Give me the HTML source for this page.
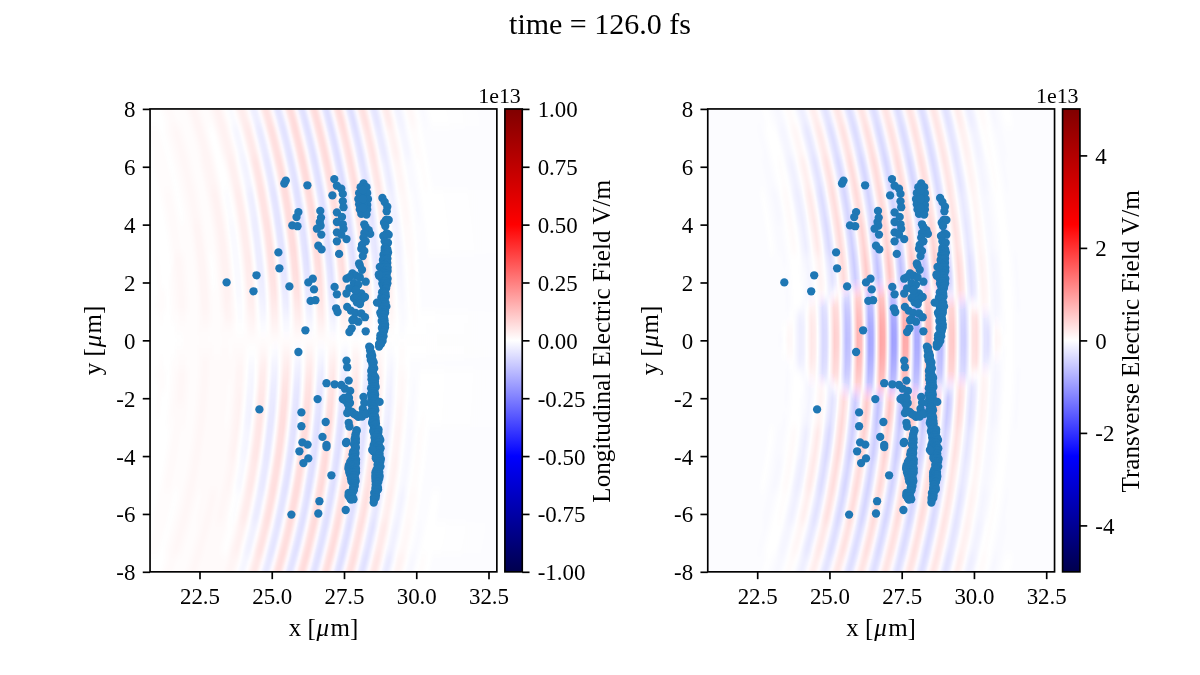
<!DOCTYPE html><html><head><meta charset="utf-8"><style>html,body{margin:0;padding:0;background:#fff;overflow:hidden}svg{display:block;will-change:transform}.t{font-family:"Liberation Serif",serif;font-size:22.92px}.l{font-family:"Liberation Serif",serif;font-size:25.00px}.mu{font-style:italic}.ti{font-family:"Liberation Serif",serif;font-size:30.00px}</style></head><body>
<svg width="1200" height="675" viewBox="0 0 1200 675">
<defs><linearGradient id="seis" x1="0" y1="1" x2="0" y2="0"><stop offset="0" stop-color="rgb(0,0,77)"/><stop offset="0.25" stop-color="rgb(0,0,255)"/><stop offset="0.5" stop-color="rgb(255,255,255)"/><stop offset="0.75" stop-color="rgb(255,0,0)"/><stop offset="1" stop-color="rgb(128,0,0)"/></linearGradient>
<g id="scat" fill="#1f77b4"><circle cx="285.8" cy="180.6" r="4.15"/><circle cx="284.3" cy="183.5" r="4.15"/><circle cx="307.4" cy="185.3" r="4.15"/><circle cx="298.4" cy="212.1" r="4.15"/><circle cx="296.5" cy="217.1" r="4.15"/><circle cx="292.3" cy="225.4" r="4.15"/><circle cx="297.5" cy="226.2" r="4.15"/><circle cx="278.4" cy="252.4" r="4.15"/><circle cx="320.3" cy="210.9" r="4.15"/><circle cx="321.0" cy="217.6" r="4.15"/><circle cx="319.8" cy="222.0" r="4.15"/><circle cx="320.6" cy="225.7" r="4.15"/><circle cx="316.9" cy="228.7" r="4.15"/><circle cx="321.3" cy="234.6" r="4.15"/><circle cx="318.3" cy="245.7" r="4.15"/><circle cx="321.6" cy="249.4" r="4.15"/><circle cx="334.3" cy="179.1" r="4.15"/><circle cx="336.9" cy="185.7" r="4.15"/><circle cx="341.3" cy="188.7" r="4.15"/><circle cx="342.8" cy="193.9" r="4.15"/><circle cx="332.4" cy="195.4" r="4.15"/><circle cx="342.8" cy="201.3" r="4.15"/><circle cx="343.5" cy="207.2" r="4.15"/><circle cx="336.9" cy="212.4" r="4.15"/><circle cx="342.0" cy="216.9" r="4.15"/><circle cx="336.9" cy="222.0" r="4.15"/><circle cx="342.8" cy="224.3" r="4.15"/><circle cx="343.5" cy="228.7" r="4.15"/><circle cx="336.9" cy="232.4" r="4.15"/><circle cx="341.3" cy="234.6" r="4.15"/><circle cx="346.5" cy="239.1" r="4.15"/><circle cx="336.9" cy="241.3" r="4.15"/><circle cx="339.1" cy="253.9" r="4.15"/><circle cx="363.5" cy="183.5" r="4.15"/><circle cx="360.6" cy="187.2" r="4.15"/><circle cx="366.5" cy="187.2" r="4.15"/><circle cx="359.1" cy="193.1" r="4.15"/><circle cx="367.2" cy="193.1" r="4.15"/><circle cx="358.3" cy="199.1" r="4.15"/><circle cx="368.0" cy="199.1" r="4.15"/><circle cx="359.1" cy="204.3" r="4.15"/><circle cx="367.2" cy="205.0" r="4.15"/><circle cx="359.8" cy="209.4" r="4.15"/><circle cx="367.2" cy="209.4" r="4.15"/><circle cx="361.3" cy="213.9" r="4.15"/><circle cx="366.5" cy="214.6" r="4.15"/><circle cx="362.8" cy="194.6" r="4.15"/><circle cx="363.5" cy="203.5" r="4.15"/><circle cx="363.0" cy="190.0" r="4.15"/><circle cx="363.0" cy="199.0" r="4.15"/><circle cx="363.0" cy="208.0" r="4.15"/><circle cx="364.3" cy="224.3" r="4.15"/><circle cx="365.7" cy="227.2" r="4.15"/><circle cx="368.7" cy="230.2" r="4.15"/><circle cx="370.2" cy="233.9" r="4.15"/><circle cx="364.3" cy="233.1" r="4.15"/><circle cx="363.5" cy="237.6" r="4.15"/><circle cx="365.7" cy="241.3" r="4.15"/><circle cx="362.0" cy="245.0" r="4.15"/><circle cx="361.3" cy="248.7" r="4.15"/><circle cx="364.3" cy="250.9" r="4.15"/><circle cx="362.8" cy="256.1" r="4.15"/><circle cx="359.1" cy="263.5" r="4.15"/><circle cx="382.4" cy="198.0" r="4.15"/><circle cx="384.7" cy="202.0" r="4.15"/><circle cx="387.3" cy="206.7" r="4.15"/><circle cx="386.7" cy="211.3" r="4.15"/><circle cx="386.0" cy="220.0" r="4.15"/><circle cx="384.0" cy="222.7" r="4.15"/><circle cx="388.7" cy="220.0" r="4.15"/><circle cx="385.3" cy="226.0" r="4.15"/><circle cx="386.7" cy="233.3" r="4.15"/><circle cx="388.7" cy="234.7" r="4.15"/><circle cx="383.3" cy="236.0" r="4.15"/><circle cx="384.7" cy="241.3" r="4.15"/><circle cx="388.0" cy="242.7" r="4.15"/><circle cx="384.7" cy="248.0" r="4.15"/><circle cx="387.3" cy="249.3" r="4.15"/><circle cx="385.3" cy="254.7" r="4.15"/><circle cx="386.7" cy="260.0" r="4.15"/><circle cx="382.7" cy="265.3" r="4.15"/><circle cx="386.0" cy="266.7" r="4.15"/><circle cx="226.6" cy="282.4" r="4.15"/><circle cx="256.5" cy="275.3" r="4.15"/><circle cx="253.5" cy="291.3" r="4.15"/><circle cx="279.4" cy="268.3" r="4.15"/><circle cx="289.4" cy="286.4" r="4.15"/><circle cx="308.3" cy="282.4" r="4.15"/><circle cx="312.8" cy="278.7" r="4.15"/><circle cx="314.0" cy="289.4" r="4.15"/><circle cx="310.6" cy="300.9" r="4.15"/><circle cx="315.4" cy="300.2" r="4.15"/><circle cx="305.4" cy="330.3" r="4.15"/><circle cx="298.4" cy="352.0" r="4.15"/><circle cx="334.6" cy="286.9" r="4.15"/><circle cx="336.9" cy="294.3" r="4.15"/><circle cx="336.1" cy="308.3" r="4.15"/><circle cx="337.6" cy="312.0" r="4.15"/><circle cx="359.8" cy="265.4" r="4.15"/><circle cx="362.0" cy="269.8" r="4.15"/><circle cx="352.4" cy="273.5" r="4.15"/><circle cx="356.1" cy="275.7" r="4.15"/><circle cx="346.5" cy="278.7" r="4.15"/><circle cx="349.4" cy="277.2" r="4.15"/><circle cx="359.8" cy="277.2" r="4.15"/><circle cx="365.7" cy="281.7" r="4.15"/><circle cx="353.9" cy="283.1" r="4.15"/><circle cx="358.3" cy="284.6" r="4.15"/><circle cx="349.4" cy="288.3" r="4.15"/><circle cx="346.5" cy="293.5" r="4.15"/><circle cx="355.4" cy="290.6" r="4.15"/><circle cx="361.3" cy="293.5" r="4.15"/><circle cx="353.9" cy="298.0" r="4.15"/><circle cx="359.8" cy="299.4" r="4.15"/><circle cx="362.8" cy="298.0" r="4.15"/><circle cx="356.9" cy="302.4" r="4.15"/><circle cx="347.2" cy="306.9" r="4.15"/><circle cx="350.9" cy="310.6" r="4.15"/><circle cx="355.4" cy="312.8" r="4.15"/><circle cx="361.3" cy="313.5" r="4.15"/><circle cx="365.0" cy="317.2" r="4.15"/><circle cx="353.9" cy="318.7" r="4.15"/><circle cx="358.3" cy="321.7" r="4.15"/><circle cx="352.4" cy="320.2" r="4.15"/><circle cx="351.7" cy="328.3" r="4.15"/><circle cx="349.4" cy="332.0" r="4.15"/><circle cx="365.7" cy="331.3" r="4.15"/><circle cx="357.0" cy="296.0" r="4.15"/><circle cx="361.0" cy="300.0" r="4.15"/><circle cx="365.0" cy="297.0" r="4.15"/><circle cx="360.0" cy="304.0" r="4.15"/><circle cx="356.0" cy="290.0" r="4.15"/><circle cx="379.1" cy="275.7" r="4.15"/><circle cx="379.8" cy="266.9" r="4.15"/><circle cx="379.8" cy="302.4" r="4.15"/><circle cx="379.1" cy="343.9" r="4.15"/><circle cx="370.2" cy="347.6" r="4.15"/><circle cx="370.9" cy="352.8" r="4.15"/><circle cx="379.1" cy="346.5" r="4.15"/><circle cx="259.4" cy="409.4" r="4.15"/><circle cx="301.4" cy="412.4" r="4.15"/><circle cx="301.4" cy="426.2" r="4.15"/><circle cx="302.4" cy="442.4" r="4.15"/><circle cx="307.6" cy="444.6" r="4.15"/><circle cx="299.4" cy="451.3" r="4.15"/><circle cx="308.3" cy="458.4" r="4.15"/><circle cx="303.4" cy="463.1" r="4.15"/><circle cx="291.4" cy="514.6" r="4.15"/><circle cx="346.5" cy="360.6" r="4.15"/><circle cx="347.2" cy="367.2" r="4.15"/><circle cx="326.5" cy="383.2" r="4.15"/><circle cx="334.6" cy="384.3" r="4.15"/><circle cx="341.3" cy="385.0" r="4.15"/><circle cx="348.7" cy="380.6" r="4.15"/><circle cx="345.0" cy="388.7" r="4.15"/><circle cx="350.2" cy="390.9" r="4.15"/><circle cx="342.8" cy="399.1" r="4.15"/><circle cx="348.0" cy="396.9" r="4.15"/><circle cx="348.0" cy="404.3" r="4.15"/><circle cx="348.7" cy="410.2" r="4.15"/><circle cx="347.2" cy="413.1" r="4.15"/><circle cx="353.9" cy="413.9" r="4.15"/><circle cx="358.3" cy="416.9" r="4.15"/><circle cx="363.5" cy="396.9" r="4.15"/><circle cx="364.3" cy="402.8" r="4.15"/><circle cx="362.8" cy="408.7" r="4.15"/><circle cx="365.7" cy="413.1" r="4.15"/><circle cx="361.3" cy="414.6" r="4.15"/><circle cx="345.5" cy="400.5" r="4.15"/><circle cx="350.0" cy="403.0" r="4.15"/><circle cx="352.0" cy="412.0" r="4.15"/><circle cx="356.0" cy="415.0" r="4.15"/><circle cx="362.0" cy="416.5" r="4.15"/><circle cx="366.0" cy="414.0" r="4.15"/><circle cx="344.0" cy="398.0" r="4.15"/><circle cx="349.0" cy="398.0" r="4.15"/><circle cx="348.7" cy="422.8" r="4.15"/><circle cx="349.4" cy="426.5" r="4.15"/><circle cx="356.6" cy="430.2" r="4.15"/><circle cx="325.7" cy="422.0" r="4.15"/><circle cx="322.5" cy="436.9" r="4.15"/><circle cx="317.6" cy="399.1" r="4.15"/><circle cx="354.6" cy="439.1" r="4.15"/><circle cx="355.4" cy="442.8" r="4.15"/><circle cx="346.5" cy="442.0" r="4.15"/><circle cx="326.5" cy="445.0" r="4.15"/><circle cx="326.5" cy="447.1" r="4.15"/><circle cx="331.4" cy="475.3" r="4.15"/><circle cx="319.4" cy="501.2" r="4.15"/><circle cx="318.3" cy="513.5" r="4.15"/><circle cx="384.7" cy="250.6" r="4.15"/><circle cx="385.9" cy="250.4" r="4.15"/><circle cx="386.7" cy="249.7" r="4.15"/><circle cx="385.2" cy="251.8" r="4.15"/><circle cx="385.8" cy="253.1" r="4.15"/><circle cx="388.1" cy="252.5" r="4.15"/><circle cx="383.5" cy="254.8" r="4.15"/><circle cx="385.6" cy="254.8" r="4.15"/><circle cx="387.1" cy="255.2" r="4.15"/><circle cx="384.0" cy="258.6" r="4.15"/><circle cx="385.5" cy="258.3" r="4.15"/><circle cx="387.4" cy="258.6" r="4.15"/><circle cx="382.9" cy="259.9" r="4.15"/><circle cx="385.4" cy="260.6" r="4.15"/><circle cx="385.9" cy="259.7" r="4.15"/><circle cx="383.5" cy="262.9" r="4.15"/><circle cx="385.2" cy="263.7" r="4.15"/><circle cx="387.3" cy="263.0" r="4.15"/><circle cx="383.3" cy="265.2" r="4.15"/><circle cx="385.1" cy="264.8" r="4.15"/><circle cx="386.1" cy="265.9" r="4.15"/><circle cx="382.3" cy="268.0" r="4.15"/><circle cx="384.9" cy="267.4" r="4.15"/><circle cx="387.6" cy="267.6" r="4.15"/><circle cx="382.4" cy="271.4" r="4.15"/><circle cx="384.8" cy="270.8" r="4.15"/><circle cx="387.6" cy="271.0" r="4.15"/><circle cx="383.6" cy="272.7" r="4.15"/><circle cx="384.8" cy="273.5" r="4.15"/><circle cx="386.6" cy="274.0" r="4.15"/><circle cx="382.6" cy="276.2" r="4.15"/><circle cx="384.7" cy="275.3" r="4.15"/><circle cx="386.2" cy="275.7" r="4.15"/><circle cx="382.1" cy="279.1" r="4.15"/><circle cx="384.7" cy="278.4" r="4.15"/><circle cx="387.6" cy="278.7" r="4.15"/><circle cx="383.3" cy="281.4" r="4.15"/><circle cx="384.6" cy="281.5" r="4.15"/><circle cx="385.3" cy="281.1" r="4.15"/><circle cx="382.3" cy="283.6" r="4.15"/><circle cx="384.6" cy="283.2" r="4.15"/><circle cx="387.4" cy="283.3" r="4.15"/><circle cx="383.4" cy="286.1" r="4.15"/><circle cx="384.5" cy="287.0" r="4.15"/><circle cx="386.5" cy="285.8" r="4.15"/><circle cx="383.9" cy="289.7" r="4.15"/><circle cx="384.5" cy="289.6" r="4.15"/><circle cx="386.1" cy="288.4" r="4.15"/><circle cx="382.1" cy="292.3" r="4.15"/><circle cx="384.4" cy="291.7" r="4.15"/><circle cx="385.0" cy="292.2" r="4.15"/><circle cx="383.1" cy="294.3" r="4.15"/><circle cx="384.2" cy="294.0" r="4.15"/><circle cx="385.5" cy="293.8" r="4.15"/><circle cx="381.3" cy="297.4" r="4.15"/><circle cx="384.1" cy="296.7" r="4.15"/><circle cx="385.8" cy="296.5" r="4.15"/><circle cx="382.9" cy="298.6" r="4.15"/><circle cx="383.9" cy="299.2" r="4.15"/><circle cx="384.3" cy="298.8" r="4.15"/><circle cx="383.3" cy="302.3" r="4.15"/><circle cx="383.8" cy="301.9" r="4.15"/><circle cx="385.5" cy="302.6" r="4.15"/><circle cx="381.5" cy="304.7" r="4.15"/><circle cx="383.6" cy="304.9" r="4.15"/><circle cx="385.0" cy="304.6" r="4.15"/><circle cx="382.4" cy="307.9" r="4.15"/><circle cx="383.5" cy="306.6" r="4.15"/><circle cx="386.4" cy="306.4" r="4.15"/><circle cx="382.2" cy="310.3" r="4.15"/><circle cx="383.4" cy="309.2" r="4.15"/><circle cx="385.0" cy="310.3" r="4.15"/><circle cx="380.3" cy="312.6" r="4.15"/><circle cx="383.3" cy="312.9" r="4.15"/><circle cx="385.1" cy="312.8" r="4.15"/><circle cx="381.0" cy="314.5" r="4.15"/><circle cx="383.2" cy="314.8" r="4.15"/><circle cx="384.0" cy="314.8" r="4.15"/><circle cx="382.9" cy="317.7" r="4.15"/><circle cx="383.2" cy="317.3" r="4.15"/><circle cx="384.0" cy="318.3" r="4.15"/><circle cx="381.7" cy="321.0" r="4.15"/><circle cx="384.5" cy="320.2" r="4.15"/><circle cx="383.0" cy="323.2" r="4.15"/><circle cx="384.4" cy="322.7" r="4.15"/><circle cx="383.0" cy="325.3" r="4.15"/><circle cx="385.1" cy="324.7" r="4.15"/><circle cx="381.9" cy="328.0" r="4.15"/><circle cx="385.0" cy="327.6" r="4.15"/><circle cx="382.9" cy="330.9" r="4.15"/><circle cx="384.1" cy="330.8" r="4.15"/><circle cx="383.1" cy="332.9" r="4.15"/><circle cx="382.8" cy="332.7" r="4.15"/><circle cx="380.4" cy="335.3" r="4.15"/><circle cx="383.5" cy="336.3" r="4.15"/><circle cx="380.2" cy="338.6" r="4.15"/><circle cx="381.9" cy="338.6" r="4.15"/><circle cx="381.4" cy="340.7" r="4.15"/><circle cx="382.6" cy="340.9" r="4.15"/><circle cx="381.1" cy="343.8" r="4.15"/><circle cx="378.8" cy="274.4" r="4.15"/><circle cx="377.0" cy="302.6" r="4.15"/><circle cx="379.6" cy="343.7" r="4.15"/><circle cx="369.2" cy="346.7" r="4.15"/><circle cx="370.1" cy="350.4" r="4.15"/><circle cx="371.4" cy="353.0" r="4.15"/><circle cx="370.1" cy="355.9" r="4.15"/><circle cx="372.2" cy="355.8" r="4.15"/><circle cx="371.6" cy="358.5" r="4.15"/><circle cx="371.2" cy="357.0" r="4.15"/><circle cx="370.8" cy="360.0" r="4.15"/><circle cx="372.6" cy="359.9" r="4.15"/><circle cx="372.2" cy="362.3" r="4.15"/><circle cx="373.7" cy="362.5" r="4.15"/><circle cx="372.5" cy="364.8" r="4.15"/><circle cx="373.1" cy="366.3" r="4.15"/><circle cx="372.1" cy="368.7" r="4.15"/><circle cx="374.2" cy="368.4" r="4.15"/><circle cx="371.2" cy="370.9" r="4.15"/><circle cx="372.8" cy="371.3" r="4.15"/><circle cx="373.2" cy="374.0" r="4.15"/><circle cx="373.0" cy="373.1" r="4.15"/><circle cx="371.5" cy="375.4" r="4.15"/><circle cx="374.7" cy="376.5" r="4.15"/><circle cx="371.5" cy="379.2" r="4.15"/><circle cx="375.4" cy="378.0" r="4.15"/><circle cx="372.7" cy="381.8" r="4.15"/><circle cx="373.4" cy="380.7" r="4.15"/><circle cx="374.9" cy="381.4" r="4.15"/><circle cx="372.3" cy="383.2" r="4.15"/><circle cx="373.4" cy="384.1" r="4.15"/><circle cx="375.0" cy="384.3" r="4.15"/><circle cx="372.8" cy="386.1" r="4.15"/><circle cx="373.4" cy="386.8" r="4.15"/><circle cx="375.7" cy="387.0" r="4.15"/><circle cx="371.1" cy="388.2" r="4.15"/><circle cx="373.4" cy="389.2" r="4.15"/><circle cx="374.0" cy="389.1" r="4.15"/><circle cx="373.2" cy="391.4" r="4.15"/><circle cx="373.4" cy="391.2" r="4.15"/><circle cx="374.6" cy="391.9" r="4.15"/><circle cx="371.0" cy="394.0" r="4.15"/><circle cx="373.4" cy="393.6" r="4.15"/><circle cx="375.1" cy="394.7" r="4.15"/><circle cx="371.7" cy="396.6" r="4.15"/><circle cx="373.4" cy="396.9" r="4.15"/><circle cx="374.0" cy="396.4" r="4.15"/><circle cx="371.6" cy="399.3" r="4.15"/><circle cx="373.4" cy="398.7" r="4.15"/><circle cx="375.4" cy="399.5" r="4.15"/><circle cx="371.5" cy="401.3" r="4.15"/><circle cx="373.4" cy="402.4" r="4.15"/><circle cx="373.7" cy="401.4" r="4.15"/><circle cx="371.0" cy="403.9" r="4.15"/><circle cx="373.4" cy="405.3" r="4.15"/><circle cx="374.1" cy="404.3" r="4.15"/><circle cx="372.9" cy="407.4" r="4.15"/><circle cx="373.4" cy="406.7" r="4.15"/><circle cx="374.5" cy="407.8" r="4.15"/><circle cx="371.7" cy="410.1" r="4.15"/><circle cx="373.4" cy="409.2" r="4.15"/><circle cx="375.3" cy="410.2" r="4.15"/><circle cx="372.8" cy="412.7" r="4.15"/><circle cx="373.4" cy="412.2" r="4.15"/><circle cx="373.6" cy="412.4" r="4.15"/><circle cx="372.7" cy="414.5" r="4.15"/><circle cx="373.4" cy="414.6" r="4.15"/><circle cx="374.8" cy="415.4" r="4.15"/><circle cx="373.0" cy="417.0" r="4.15"/><circle cx="373.4" cy="417.1" r="4.15"/><circle cx="375.5" cy="417.8" r="4.15"/><circle cx="372.6" cy="421.0" r="4.15"/><circle cx="373.4" cy="420.9" r="4.15"/><circle cx="375.6" cy="420.6" r="4.15"/><circle cx="372.1" cy="423.0" r="4.15"/><circle cx="373.8" cy="422.3" r="4.15"/><circle cx="375.9" cy="423.2" r="4.15"/><circle cx="373.4" cy="425.3" r="4.15"/><circle cx="374.3" cy="425.2" r="4.15"/><circle cx="375.6" cy="424.7" r="4.15"/><circle cx="374.1" cy="428.1" r="4.15"/><circle cx="374.7" cy="427.8" r="4.15"/><circle cx="376.4" cy="428.4" r="4.15"/><circle cx="373.2" cy="431.1" r="4.15"/><circle cx="375.2" cy="431.3" r="4.15"/><circle cx="376.5" cy="430.0" r="4.15"/><circle cx="374.6" cy="434.0" r="4.15"/><circle cx="375.6" cy="432.6" r="4.15"/><circle cx="377.9" cy="433.7" r="4.15"/><circle cx="379.6" cy="401.9" r="4.15"/><circle cx="375.3" cy="429.4" r="4.15"/><circle cx="375.7" cy="429.3" r="4.15"/><circle cx="378.5" cy="429.4" r="4.15"/><circle cx="373.9" cy="432.7" r="4.15"/><circle cx="376.2" cy="432.5" r="4.15"/><circle cx="378.4" cy="432.1" r="4.15"/><circle cx="376.3" cy="434.7" r="4.15"/><circle cx="376.7" cy="435.6" r="4.15"/><circle cx="377.1" cy="435.2" r="4.15"/><circle cx="374.5" cy="437.5" r="4.15"/><circle cx="377.3" cy="437.5" r="4.15"/><circle cx="379.3" cy="437.7" r="4.15"/><circle cx="374.9" cy="441.2" r="4.15"/><circle cx="377.7" cy="441.0" r="4.15"/><circle cx="380.3" cy="440.0" r="4.15"/><circle cx="375.1" cy="442.6" r="4.15"/><circle cx="377.5" cy="442.4" r="4.15"/><circle cx="378.4" cy="443.0" r="4.15"/><circle cx="373.7" cy="445.1" r="4.15"/><circle cx="376.4" cy="446.2" r="4.15"/><circle cx="378.2" cy="445.6" r="4.15"/><circle cx="379.1" cy="445.9" r="4.15"/><circle cx="373.4" cy="448.2" r="4.15"/><circle cx="376.1" cy="447.9" r="4.15"/><circle cx="378.2" cy="448.2" r="4.15"/><circle cx="380.6" cy="448.3" r="4.15"/><circle cx="373.5" cy="451.3" r="4.15"/><circle cx="376.0" cy="451.4" r="4.15"/><circle cx="378.2" cy="450.3" r="4.15"/><circle cx="379.5" cy="450.2" r="4.15"/><circle cx="376.1" cy="454.1" r="4.15"/><circle cx="376.7" cy="453.0" r="4.15"/><circle cx="378.5" cy="454.2" r="4.15"/><circle cx="379.5" cy="453.4" r="4.15"/><circle cx="375.9" cy="456.7" r="4.15"/><circle cx="378.0" cy="455.3" r="4.15"/><circle cx="379.6" cy="456.2" r="4.15"/><circle cx="375.8" cy="458.2" r="4.15"/><circle cx="378.4" cy="458.5" r="4.15"/><circle cx="380.9" cy="459.0" r="4.15"/><circle cx="378.3" cy="461.6" r="4.15"/><circle cx="380.3" cy="461.8" r="4.15"/><circle cx="377.7" cy="464.2" r="4.15"/><circle cx="379.1" cy="463.3" r="4.15"/><circle cx="377.8" cy="465.9" r="4.15"/><circle cx="380.5" cy="466.6" r="4.15"/><circle cx="376.5" cy="469.7" r="4.15"/><circle cx="378.4" cy="469.0" r="4.15"/><circle cx="375.5" cy="472.3" r="4.15"/><circle cx="379.3" cy="472.1" r="4.15"/><circle cx="375.5" cy="474.7" r="4.15"/><circle cx="377.5" cy="474.5" r="4.15"/><circle cx="379.3" cy="474.9" r="4.15"/><circle cx="375.4" cy="476.7" r="4.15"/><circle cx="377.1" cy="477.1" r="4.15"/><circle cx="379.6" cy="476.5" r="4.15"/><circle cx="375.5" cy="478.9" r="4.15"/><circle cx="376.8" cy="479.5" r="4.15"/><circle cx="379.2" cy="478.7" r="4.15"/><circle cx="375.6" cy="481.2" r="4.15"/><circle cx="376.7" cy="482.7" r="4.15"/><circle cx="378.3" cy="481.9" r="4.15"/><circle cx="375.7" cy="484.6" r="4.15"/><circle cx="376.7" cy="485.0" r="4.15"/><circle cx="377.1" cy="484.7" r="4.15"/><circle cx="375.5" cy="487.9" r="4.15"/><circle cx="376.7" cy="486.5" r="4.15"/><circle cx="377.9" cy="487.4" r="4.15"/><circle cx="375.6" cy="489.1" r="4.15"/><circle cx="378.1" cy="489.4" r="4.15"/><circle cx="374.2" cy="493.0" r="4.15"/><circle cx="376.1" cy="492.3" r="4.15"/><circle cx="375.2" cy="495.3" r="4.15"/><circle cx="375.9" cy="495.5" r="4.15"/><circle cx="373.9" cy="497.8" r="4.15"/><circle cx="375.6" cy="497.9" r="4.15"/><circle cx="374.0" cy="500.0" r="4.15"/><circle cx="373.7" cy="502.6" r="4.15"/><circle cx="372.2" cy="450.0" r="4.15"/><circle cx="356.6" cy="431.1" r="4.15"/><circle cx="355.6" cy="434.3" r="4.15"/><circle cx="355.4" cy="436.2" r="4.15"/><circle cx="355.9" cy="438.9" r="4.15"/><circle cx="355.8" cy="442.2" r="4.15"/><circle cx="354.5" cy="444.6" r="4.15"/><circle cx="354.1" cy="444.1" r="4.15"/><circle cx="355.4" cy="447.0" r="4.15"/><circle cx="355.7" cy="447.2" r="4.15"/><circle cx="354.7" cy="449.6" r="4.15"/><circle cx="355.5" cy="449.0" r="4.15"/><circle cx="353.1" cy="451.8" r="4.15"/><circle cx="355.5" cy="452.9" r="4.15"/><circle cx="352.5" cy="454.6" r="4.15"/><circle cx="355.1" cy="454.8" r="4.15"/><circle cx="353.4" cy="457.9" r="4.15"/><circle cx="353.8" cy="457.1" r="4.15"/><circle cx="354.7" cy="457.9" r="4.15"/><circle cx="351.5" cy="460.2" r="4.15"/><circle cx="353.3" cy="459.2" r="4.15"/><circle cx="356.1" cy="459.6" r="4.15"/><circle cx="350.2" cy="462.0" r="4.15"/><circle cx="352.6" cy="462.4" r="4.15"/><circle cx="356.0" cy="463.0" r="4.15"/><circle cx="348.8" cy="465.5" r="4.15"/><circle cx="351.0" cy="465.0" r="4.15"/><circle cx="353.0" cy="464.9" r="4.15"/><circle cx="355.2" cy="464.6" r="4.15"/><circle cx="348.4" cy="468.0" r="4.15"/><circle cx="351.0" cy="468.1" r="4.15"/><circle cx="353.2" cy="467.0" r="4.15"/><circle cx="355.9" cy="468.2" r="4.15"/><circle cx="348.8" cy="469.6" r="4.15"/><circle cx="351.1" cy="470.6" r="4.15"/><circle cx="353.3" cy="469.9" r="4.15"/><circle cx="355.8" cy="470.1" r="4.15"/><circle cx="349.3" cy="472.5" r="4.15"/><circle cx="351.2" cy="472.9" r="4.15"/><circle cx="353.4" cy="472.9" r="4.15"/><circle cx="356.0" cy="472.4" r="4.15"/><circle cx="350.3" cy="475.2" r="4.15"/><circle cx="351.3" cy="475.2" r="4.15"/><circle cx="353.6" cy="475.1" r="4.15"/><circle cx="354.6" cy="475.4" r="4.15"/><circle cx="351.0" cy="478.4" r="4.15"/><circle cx="352.1" cy="477.6" r="4.15"/><circle cx="353.8" cy="477.5" r="4.15"/><circle cx="355.1" cy="478.5" r="4.15"/><circle cx="351.5" cy="481.4" r="4.15"/><circle cx="353.5" cy="481.0" r="4.15"/><circle cx="355.7" cy="481.1" r="4.15"/><circle cx="353.4" cy="483.1" r="4.15"/><circle cx="354.6" cy="483.2" r="4.15"/><circle cx="353.6" cy="485.3" r="4.15"/><circle cx="354.8" cy="486.1" r="4.15"/><circle cx="353.0" cy="487.9" r="4.15"/><circle cx="353.8" cy="488.2" r="4.15"/><circle cx="353.8" cy="490.3" r="4.15"/><circle cx="353.2" cy="490.6" r="4.15"/><circle cx="348.7" cy="492.9" r="4.15"/><circle cx="350.9" cy="493.6" r="4.15"/><circle cx="352.1" cy="493.3" r="4.15"/><circle cx="348.5" cy="495.8" r="4.15"/><circle cx="350.1" cy="496.5" r="4.15"/><circle cx="352.3" cy="496.2" r="4.15"/><circle cx="350.3" cy="498.4" r="4.15"/><circle cx="351.0" cy="499.6" r="4.15"/><circle cx="353.5" cy="499.2" r="4.15"/><circle cx="345.7" cy="510.0" r="4.15"/><circle cx="346.0" cy="443.0" r="4.15"/></g>
<style>.b0{stop-color:#00f;stop-opacity:0.0}.b1{stop-color:#00f;stop-opacity:0.01}.b10{stop-color:#00f;stop-opacity:0.1}.b11{stop-color:#00f;stop-opacity:0.11}.b12{stop-color:#00f;stop-opacity:0.12}.b13{stop-color:#00f;stop-opacity:0.13}.b14{stop-color:#00f;stop-opacity:0.14}.b15{stop-color:#00f;stop-opacity:0.15}.b16{stop-color:#00f;stop-opacity:0.16}.b17{stop-color:#00f;stop-opacity:0.17}.b18{stop-color:#00f;stop-opacity:0.18}.b19{stop-color:#00f;stop-opacity:0.19}.b2{stop-color:#00f;stop-opacity:0.02}.b20{stop-color:#00f;stop-opacity:0.2}.b21{stop-color:#00f;stop-opacity:0.21}.b22{stop-color:#00f;stop-opacity:0.22}.b23{stop-color:#00f;stop-opacity:0.23}.b24{stop-color:#00f;stop-opacity:0.24}.b25{stop-color:#00f;stop-opacity:0.25}.b26{stop-color:#00f;stop-opacity:0.26}.b27{stop-color:#00f;stop-opacity:0.27}.b28{stop-color:#00f;stop-opacity:0.28}.b29{stop-color:#00f;stop-opacity:0.29}.b3{stop-color:#00f;stop-opacity:0.03}.b31{stop-color:#00f;stop-opacity:0.31}.b32{stop-color:#00f;stop-opacity:0.32}.b33{stop-color:#00f;stop-opacity:0.33}.b34{stop-color:#00f;stop-opacity:0.34}.b35{stop-color:#00f;stop-opacity:0.35}.b36{stop-color:#00f;stop-opacity:0.36}.b37{stop-color:#00f;stop-opacity:0.37}.b4{stop-color:#00f;stop-opacity:0.04}.b5{stop-color:#00f;stop-opacity:0.05}.b6{stop-color:#00f;stop-opacity:0.06}.b7{stop-color:#00f;stop-opacity:0.07}.b8{stop-color:#00f;stop-opacity:0.08}.b9{stop-color:#00f;stop-opacity:0.09}.r0{stop-color:#f00;stop-opacity:0.0}.r1{stop-color:#f00;stop-opacity:0.01}.r10{stop-color:#f00;stop-opacity:0.1}.r11{stop-color:#f00;stop-opacity:0.11}.r12{stop-color:#f00;stop-opacity:0.12}.r13{stop-color:#f00;stop-opacity:0.13}.r14{stop-color:#f00;stop-opacity:0.14}.r15{stop-color:#f00;stop-opacity:0.15}.r16{stop-color:#f00;stop-opacity:0.16}.r17{stop-color:#f00;stop-opacity:0.17}.r18{stop-color:#f00;stop-opacity:0.18}.r19{stop-color:#f00;stop-opacity:0.19}.r2{stop-color:#f00;stop-opacity:0.02}.r20{stop-color:#f00;stop-opacity:0.2}.r21{stop-color:#f00;stop-opacity:0.21}.r22{stop-color:#f00;stop-opacity:0.22}.r23{stop-color:#f00;stop-opacity:0.23}.r24{stop-color:#f00;stop-opacity:0.24}.r25{stop-color:#f00;stop-opacity:0.25}.r26{stop-color:#f00;stop-opacity:0.26}.r27{stop-color:#f00;stop-opacity:0.27}.r28{stop-color:#f00;stop-opacity:0.28}.r29{stop-color:#f00;stop-opacity:0.29}.r3{stop-color:#f00;stop-opacity:0.03}.r31{stop-color:#f00;stop-opacity:0.31}.r32{stop-color:#f00;stop-opacity:0.32}.r33{stop-color:#f00;stop-opacity:0.33}.r34{stop-color:#f00;stop-opacity:0.34}.r35{stop-color:#f00;stop-opacity:0.35}.r4{stop-color:#f00;stop-opacity:0.04}.r5{stop-color:#f00;stop-opacity:0.05}.r6{stop-color:#f00;stop-opacity:0.06}.r7{stop-color:#f00;stop-opacity:0.07}.r8{stop-color:#f00;stop-opacity:0.08}.r9{stop-color:#f00;stop-opacity:0.09}</style><filter id="vb" filterUnits="userSpaceOnUse" x="0" y="0" width="1200" height="675"><feGaussianBlur stdDeviation="0 5"/></filter><clipPath id="clipL"><rect x="150.05" y="108.95" width="346.80" height="462.90"/></clipPath><clipPath id="clipR"><rect x="707.75" y="108.95" width="346.80" height="462.90"/></clipPath><radialGradient id="L0" gradientUnits="userSpaceOnUse" cx="-539.9" cy="340.4" r="1043.4"><stop offset=".65378" class="r0"/><stop offset=".70534" class="r0"/><stop offset=".70902" class="r1"/><stop offset=".71271" class="r2"/><stop offset=".71639" class="r2"/><stop offset=".72007" class="r1"/><stop offset=".72376" class="r1"/><stop offset=".72744" class="r1"/><stop offset=".73112" class="r2"/><stop offset=".73481" class="r4"/><stop offset=".73849" class="r4"/><stop offset=".74217" class="r2"/><stop offset=".74586" class="r1"/><stop offset=".74954" class="r1"/><stop offset=".75322" class="r3"/><stop offset=".75691" class="r5"/><stop offset=".76059" class="r5"/><stop offset=".76427" class="r2"/><stop offset=".76664" class="r0"/><stop offset=".76664" class="b0"/><stop offset=".76796" class="b1"/><stop offset=".77164" class="b2"/><stop offset=".77347" class="b0"/><stop offset=".77347" class="r0"/><stop offset=".77532" class="r2"/><stop offset=".77901" class="r7"/><stop offset=".78269" class="r7"/><stop offset=".78637" class="r2"/><stop offset=".78716" class="r0"/><stop offset=".78716" class="b0"/><stop offset=".79006" class="b6"/><stop offset=".79374" class="b7"/><stop offset=".79719" class="b0"/><stop offset=".79719" class="r0"/><stop offset=".79742" class="r1"/><stop offset=".80111" class="r11"/><stop offset=".80479" class="r12"/><stop offset=".80847" class="r2"/><stop offset=".80923" class="r0"/><stop offset=".80923" class="b0"/><stop offset=".81216" class="b10"/><stop offset=".81584" class="b11"/><stop offset=".81952" class="b1"/><stop offset=".81972" class="b0"/><stop offset=".81972" class="r0"/><stop offset=".82320" class="r12"/><stop offset=".82689" class="r15"/><stop offset=".83057" class="r4"/><stop offset=".83152" class="r0"/><stop offset=".83152" class="b0"/><stop offset=".83425" class="b10"/><stop offset=".83794" class="b13"/><stop offset=".84162" class="b2"/><stop offset=".84212" class="b0"/><stop offset=".84212" class="r0"/><stop offset=".84530" class="r12"/><stop offset=".84899" class="r15"/><stop offset=".85267" class="r4"/><stop offset=".85377" class="r0"/><stop offset=".85377" class="b0"/><stop offset=".85635" class="b10"/><stop offset=".86004" class="b14"/><stop offset=".86372" class="b3"/><stop offset=".86457" class="b0"/><stop offset=".86457" class="r0"/><stop offset=".86740" class="r11"/><stop offset=".87109" class="r15"/><stop offset=".87477" class="r5"/><stop offset=".87597" class="r0"/><stop offset=".87597" class="b0"/><stop offset=".87845" class="b9"/><stop offset=".88214" class="b14"/><stop offset=".88582" class="b4"/><stop offset=".88701" class="b0"/><stop offset=".88701" class="r0"/><stop offset=".88950" class="r9"/><stop offset=".89319" class="r13"/><stop offset=".89687" class="r5"/><stop offset=".89826" class="r0"/><stop offset=".89826" class="b0"/><stop offset=".90055" class="b8"/><stop offset=".90424" class="b11"/><stop offset=".90792" class="b4"/><stop offset=".90943" class="b0"/><stop offset=".90943" class="r0"/><stop offset=".91160" class="r6"/><stop offset=".91529" class="r9"/><stop offset=".91897" class="r3"/><stop offset=".92064" class="r0"/><stop offset=".92064" class="b0"/><stop offset=".92265" class="b4"/><stop offset=".92634" class="b5"/><stop offset=".93002" class="b2"/><stop offset=".93193" class="b0"/><stop offset=".93193" class="r0"/><stop offset=".93370" class="r2"/><stop offset=".93739" class="r3"/><stop offset=".94107" class="r1"/><stop offset=".94272" class="r0"/><stop offset=".94272" class="b0"/><stop offset=".94475" class="b1"/><stop offset=".94843" class="b2"/><stop offset=".95212" class="b1"/><stop offset=".95580" class="b0"/><stop offset=".95731" class="b0"/><stop offset=".95731" class="r0"/><stop offset=".95948" class="r0"/><stop offset=".96005" class="r0"/><stop offset=".96005" class="b0"/><stop offset=".96317" class="b0"/><stop offset="1.00000" class="b1"/></radialGradient><radialGradient id="L1" gradientUnits="userSpaceOnUse" cx="-539.9" cy="340.4" r="1043.4"><stop offset=".65378" class="r0"/><stop offset=".68693" class="r0"/><stop offset=".69061" class="r1"/><stop offset=".69429" class="r1"/><stop offset=".69797" class="r1"/><stop offset=".70166" class="r0"/><stop offset=".70534" class="r1"/><stop offset=".70902" class="r2"/><stop offset=".71271" class="r3"/><stop offset=".71639" class="r3"/><stop offset=".72007" class="r2"/><stop offset=".72376" class="r1"/><stop offset=".72744" class="r1"/><stop offset=".73112" class="r2"/><stop offset=".73481" class="r4"/><stop offset=".73849" class="r4"/><stop offset=".74217" class="r2"/><stop offset=".74586" class="r0"/><stop offset=".74954" class="r0"/><stop offset=".75322" class="r3"/><stop offset=".75691" class="r5"/><stop offset=".76059" class="r5"/><stop offset=".76427" class="r2"/><stop offset=".76573" class="r0"/><stop offset=".76573" class="b0"/><stop offset=".76796" class="b3"/><stop offset=".77164" class="b4"/><stop offset=".77426" class="b0"/><stop offset=".77426" class="r0"/><stop offset=".77532" class="r1"/><stop offset=".77901" class="r8"/><stop offset=".78269" class="r9"/><stop offset=".78637" class="r2"/><stop offset=".78699" class="r0"/><stop offset=".78699" class="b0"/><stop offset=".79006" class="b8"/><stop offset=".79374" class="b9"/><stop offset=".79728" class="b0"/><stop offset=".79728" class="r0"/><stop offset=".79742" class="r0"/><stop offset=".80111" class="r12"/><stop offset=".80479" class="r13"/><stop offset=".80847" class="r3"/><stop offset=".80921" class="r0"/><stop offset=".80921" class="b0"/><stop offset=".81216" class="b10"/><stop offset=".81584" class="b12"/><stop offset=".81952" class="b1"/><stop offset=".81973" class="b0"/><stop offset=".81973" class="r0"/><stop offset=".82320" class="r13"/><stop offset=".82689" class="r15"/><stop offset=".83057" class="r3"/><stop offset=".83150" class="r0"/><stop offset=".83150" class="b0"/><stop offset=".83425" class="b10"/><stop offset=".83794" class="b13"/><stop offset=".84162" class="b2"/><stop offset=".84215" class="b0"/><stop offset=".84215" class="r0"/><stop offset=".84530" class="r12"/><stop offset=".84899" class="r15"/><stop offset=".85267" class="r4"/><stop offset=".85373" class="r0"/><stop offset=".85373" class="b0"/><stop offset=".85635" class="b10"/><stop offset=".86004" class="b14"/><stop offset=".86372" class="b3"/><stop offset=".86462" class="b0"/><stop offset=".86462" class="r0"/><stop offset=".86740" class="r10"/><stop offset=".87109" class="r14"/><stop offset=".87477" class="r4"/><stop offset=".87595" class="r0"/><stop offset=".87595" class="b0"/><stop offset=".87845" class="b9"/><stop offset=".88214" class="b13"/><stop offset=".88582" class="b4"/><stop offset=".88705" class="b0"/><stop offset=".88705" class="r0"/><stop offset=".88950" class="r8"/><stop offset=".89319" class="r12"/><stop offset=".89687" class="r4"/><stop offset=".89828" class="r0"/><stop offset=".89828" class="b0"/><stop offset=".90055" class="b7"/><stop offset=".90424" class="b9"/><stop offset=".90792" class="b3"/><stop offset=".90948" class="b0"/><stop offset=".90948" class="r0"/><stop offset=".91160" class="r4"/><stop offset=".91529" class="r6"/><stop offset=".91897" class="r2"/><stop offset=".92065" class="r0"/><stop offset=".92065" class="b0"/><stop offset=".92265" class="b3"/><stop offset=".92634" class="b4"/><stop offset=".93002" class="b1"/><stop offset=".93212" class="b0"/><stop offset=".93212" class="r0"/><stop offset=".93370" class="r1"/><stop offset=".93739" class="r1"/><stop offset=".94107" class="r0"/><stop offset=".94205" class="r0"/><stop offset=".94205" class="b0"/><stop offset=".94475" class="b1"/><stop offset=".94843" class="b1"/><stop offset=".95212" class="b1"/><stop offset="1.00000" class="b1"/></radialGradient><radialGradient id="L2" gradientUnits="userSpaceOnUse" cx="-539.9" cy="340.4" r="1043.4"><stop offset=".65378" class="r0"/><stop offset=".68324" class="r0"/><stop offset=".68693" class="r1"/><stop offset=".69061" class="r1"/><stop offset=".69429" class="r1"/><stop offset=".69797" class="r1"/><stop offset=".70166" class="r0"/><stop offset=".70534" class="r1"/><stop offset=".70902" class="r2"/><stop offset=".71271" class="r3"/><stop offset=".71639" class="r3"/><stop offset=".72007" class="r2"/><stop offset=".72376" class="r1"/><stop offset=".72744" class="r1"/><stop offset=".73112" class="r3"/><stop offset=".73481" class="r4"/><stop offset=".73849" class="r4"/><stop offset=".74217" class="r2"/><stop offset=".74539" class="r0"/><stop offset=".74539" class="b0"/><stop offset=".74586" class="b0"/><stop offset=".74954" class="b0"/><stop offset=".75016" class="b0"/><stop offset=".75016" class="r0"/><stop offset=".75322" class="r2"/><stop offset=".75691" class="r6"/><stop offset=".76059" class="r6"/><stop offset=".76427" class="r1"/><stop offset=".76520" class="r0"/><stop offset=".76520" class="b0"/><stop offset=".76796" class="b4"/><stop offset=".77164" class="b5"/><stop offset=".77460" class="b0"/><stop offset=".77460" class="r0"/><stop offset=".77532" class="r1"/><stop offset=".77901" class="r10"/><stop offset=".78269" class="r11"/><stop offset=".78637" class="r2"/><stop offset=".78693" class="r0"/><stop offset=".78693" class="b0"/><stop offset=".79006" class="b9"/><stop offset=".79374" class="b10"/><stop offset=".79732" class="b0"/><stop offset=".79732" class="r0"/><stop offset=".79742" class="r0"/><stop offset=".80111" class="r12"/><stop offset=".80479" class="r14"/><stop offset=".80847" class="r3"/><stop offset=".80920" class="r0"/><stop offset=".80920" class="b0"/><stop offset=".81216" class="b10"/><stop offset=".81584" class="b12"/><stop offset=".81952" class="b1"/><stop offset=".81975" class="b0"/><stop offset=".81975" class="r0"/><stop offset=".82320" class="r13"/><stop offset=".82689" class="r15"/><stop offset=".83057" class="r3"/><stop offset=".83148" class="r0"/><stop offset=".83148" class="b0"/><stop offset=".83425" class="b10"/><stop offset=".83794" class="b13"/><stop offset=".84162" class="b2"/><stop offset=".84219" class="b0"/><stop offset=".84219" class="r0"/><stop offset=".84530" class="r12"/><stop offset=".84899" class="r15"/><stop offset=".85267" class="r4"/><stop offset=".85369" class="r0"/><stop offset=".85369" class="b0"/><stop offset=".85635" class="b10"/><stop offset=".86004" class="b14"/><stop offset=".86372" class="b3"/><stop offset=".86465" class="b0"/><stop offset=".86465" class="r0"/><stop offset=".86740" class="r10"/><stop offset=".87109" class="r14"/><stop offset=".87477" class="r4"/><stop offset=".87594" class="r0"/><stop offset=".87594" class="b0"/><stop offset=".87845" class="b9"/><stop offset=".88214" class="b12"/><stop offset=".88582" class="b4"/><stop offset=".88707" class="b0"/><stop offset=".88707" class="r0"/><stop offset=".88950" class="r8"/><stop offset=".89319" class="r11"/><stop offset=".89687" class="r3"/><stop offset=".89830" class="r0"/><stop offset=".89830" class="b0"/><stop offset=".90055" class="b5"/><stop offset=".90424" class="b8"/><stop offset=".90792" class="b3"/><stop offset=".90953" class="b0"/><stop offset=".90953" class="r0"/><stop offset=".91160" class="r3"/><stop offset=".91529" class="r4"/><stop offset=".91897" class="r1"/><stop offset=".92061" class="r0"/><stop offset=".92061" class="b0"/><stop offset=".92265" class="b2"/><stop offset=".92634" class="b2"/><stop offset=".93002" class="b1"/><stop offset=".93251" class="b0"/><stop offset=".93251" class="r0"/><stop offset=".93370" class="r0"/><stop offset=".93739" class="r1"/><stop offset=".94078" class="r0"/><stop offset=".94078" class="b0"/><stop offset=".94107" class="b0"/><stop offset=".94475" class="b1"/><stop offset=".94843" class="b1"/><stop offset=".95212" class="b1"/><stop offset="1.00000" class="b1"/></radialGradient><radialGradient id="L3" gradientUnits="userSpaceOnUse" cx="-539.9" cy="340.4" r="1043.4"><stop offset=".65378" class="r0"/><stop offset=".68324" class="r0"/><stop offset=".68693" class="r1"/><stop offset=".69061" class="r2"/><stop offset=".69429" class="r2"/><stop offset=".69797" class="r1"/><stop offset=".70166" class="r0"/><stop offset=".70534" class="r1"/><stop offset=".70902" class="r2"/><stop offset=".71271" class="r3"/><stop offset=".71639" class="r3"/><stop offset=".72007" class="r2"/><stop offset=".72376" class="r1"/><stop offset=".72744" class="r1"/><stop offset=".73112" class="r3"/><stop offset=".73481" class="r5"/><stop offset=".73849" class="r5"/><stop offset=".74217" class="r2"/><stop offset=".74466" class="r0"/><stop offset=".74466" class="b0"/><stop offset=".74586" class="b1"/><stop offset=".74954" class="b1"/><stop offset=".75086" class="b0"/><stop offset=".75086" class="r0"/><stop offset=".75322" class="r2"/><stop offset=".75691" class="r7"/><stop offset=".76059" class="r7"/><stop offset=".76427" class="r1"/><stop offset=".76492" class="r0"/><stop offset=".76492" class="b0"/><stop offset=".76796" class="b6"/><stop offset=".77164" class="b7"/><stop offset=".77475" class="b0"/><stop offset=".77475" class="r0"/><stop offset=".77532" class="r1"/><stop offset=".77901" class="r11"/><stop offset=".78269" class="r11"/><stop offset=".78637" class="r2"/><stop offset=".78690" class="r0"/><stop offset=".78690" class="b0"/><stop offset=".79006" class="b10"/><stop offset=".79374" class="b11"/><stop offset=".79734" class="b0"/><stop offset=".79734" class="r0"/><stop offset=".79742" class="r0"/><stop offset=".80111" class="r13"/><stop offset=".80479" class="r14"/><stop offset=".80847" class="r3"/><stop offset=".80919" class="r0"/><stop offset=".80919" class="b0"/><stop offset=".81216" class="b11"/><stop offset=".81584" class="b12"/><stop offset=".81952" class="b1"/><stop offset=".81976" class="b0"/><stop offset=".81976" class="r0"/><stop offset=".82320" class="r13"/><stop offset=".82689" class="r15"/><stop offset=".83057" class="r3"/><stop offset=".83146" class="r0"/><stop offset=".83146" class="b0"/><stop offset=".83425" class="b10"/><stop offset=".83794" class="b13"/><stop offset=".84162" class="b2"/><stop offset=".84222" class="b0"/><stop offset=".84222" class="r0"/><stop offset=".84530" class="r11"/><stop offset=".84899" class="r14"/><stop offset=".85267" class="r4"/><stop offset=".85366" class="r0"/><stop offset=".85366" class="b0"/><stop offset=".85635" class="b10"/><stop offset=".86004" class="b13"/><stop offset=".86372" class="b3"/><stop offset=".86468" class="b0"/><stop offset=".86468" class="r0"/><stop offset=".86740" class="r10"/><stop offset=".87109" class="r13"/><stop offset=".87477" class="r4"/><stop offset=".87594" class="r0"/><stop offset=".87594" class="b0"/><stop offset=".87845" class="b8"/><stop offset=".88214" class="b12"/><stop offset=".88582" class="b4"/><stop offset=".88710" class="b0"/><stop offset=".88710" class="r0"/><stop offset=".88950" class="r7"/><stop offset=".89319" class="r9"/><stop offset=".89687" class="r3"/><stop offset=".89832" class="r0"/><stop offset=".89832" class="b0"/><stop offset=".90055" class="b4"/><stop offset=".90424" class="b6"/><stop offset=".90792" class="b2"/><stop offset=".90958" class="b0"/><stop offset=".90958" class="r0"/><stop offset=".91160" class="r2"/><stop offset=".91529" class="r3"/><stop offset=".91897" class="r1"/><stop offset=".92048" class="r0"/><stop offset=".92048" class="b0"/><stop offset=".92265" class="b1"/><stop offset=".92634" class="b2"/><stop offset=".93002" class="b1"/><stop offset=".93325" class="b0"/><stop offset=".93325" class="r0"/><stop offset=".93370" class="r0"/><stop offset=".93739" class="r0"/><stop offset=".93889" class="r0"/><stop offset=".93889" class="b0"/><stop offset=".94107" class="b0"/><stop offset="1.00000" class="b1"/></radialGradient><radialGradient id="L4" gradientUnits="userSpaceOnUse" cx="-539.9" cy="340.4" r="1043.4"><stop offset=".65378" class="r0"/><stop offset=".68324" class="r0"/><stop offset=".68693" class="r1"/><stop offset=".69061" class="r2"/><stop offset=".69429" class="r2"/><stop offset=".69797" class="r1"/><stop offset=".70166" class="r1"/><stop offset=".70534" class="r1"/><stop offset=".70902" class="r2"/><stop offset=".71271" class="r4"/><stop offset=".71639" class="r4"/><stop offset=".72007" class="r2"/><stop offset=".72376" class="r1"/><stop offset=".72744" class="r1"/><stop offset=".73112" class="r3"/><stop offset=".73481" class="r5"/><stop offset=".73849" class="r5"/><stop offset=".74217" class="r2"/><stop offset=".74417" class="r0"/><stop offset=".74417" class="b0"/><stop offset=".74586" class="b2"/><stop offset=".74954" class="b2"/><stop offset=".75133" class="b0"/><stop offset=".75133" class="r0"/><stop offset=".75322" class="r2"/><stop offset=".75691" class="r7"/><stop offset=".76059" class="r7"/><stop offset=".76427" class="r1"/><stop offset=".76479" class="r0"/><stop offset=".76479" class="b0"/><stop offset=".76796" class="b7"/><stop offset=".77164" class="b7"/><stop offset=".77481" class="b0"/><stop offset=".77481" class="r0"/><stop offset=".77532" class="r1"/><stop offset=".77901" class="r11"/><stop offset=".78269" class="r12"/><stop offset=".78637" class="r2"/><stop offset=".78689" class="r0"/><stop offset=".78689" class="b0"/><stop offset=".79006" class="b10"/><stop offset=".79374" class="b11"/><stop offset=".79734" class="b0"/><stop offset=".79734" class="r0"/><stop offset=".79742" class="r0"/><stop offset=".80111" class="r13"/><stop offset=".80479" class="r14"/><stop offset=".80847" class="r3"/><stop offset=".80919" class="r0"/><stop offset=".80919" class="b0"/><stop offset=".81216" class="b10"/><stop offset=".81584" class="b12"/><stop offset=".81952" class="b1"/><stop offset=".81977" class="b0"/><stop offset=".81977" class="r0"/><stop offset=".82320" class="r12"/><stop offset=".82689" class="r14"/><stop offset=".83057" class="r3"/><stop offset=".83144" class="r0"/><stop offset=".83144" class="b0"/><stop offset=".83425" class="b10"/><stop offset=".83794" class="b13"/><stop offset=".84162" class="b2"/><stop offset=".84225" class="b0"/><stop offset=".84225" class="r0"/><stop offset=".84530" class="r11"/><stop offset=".84899" class="r14"/><stop offset=".85267" class="r4"/><stop offset=".85365" class="r0"/><stop offset=".85365" class="b0"/><stop offset=".85635" class="b10"/><stop offset=".86004" class="b13"/><stop offset=".86372" class="b3"/><stop offset=".86470" class="b0"/><stop offset=".86470" class="r0"/><stop offset=".86740" class="r9"/><stop offset=".87109" class="r12"/><stop offset=".87477" class="r4"/><stop offset=".87594" class="r0"/><stop offset=".87594" class="b0"/><stop offset=".87845" class="b8"/><stop offset=".88214" class="b10"/><stop offset=".88582" class="b3"/><stop offset=".88712" class="b0"/><stop offset=".88712" class="r0"/><stop offset=".88950" class="r6"/><stop offset=".89319" class="r8"/><stop offset=".89687" class="r2"/><stop offset=".89833" class="r0"/><stop offset=".89833" class="b0"/><stop offset=".90055" class="b4"/><stop offset=".90424" class="b5"/><stop offset=".90792" class="b2"/><stop offset=".90965" class="b0"/><stop offset=".90965" class="r0"/><stop offset=".91160" class="r2"/><stop offset=".91529" class="r2"/><stop offset=".91897" class="r1"/><stop offset=".92028" class="r0"/><stop offset=".92028" class="b0"/><stop offset=".92265" class="b1"/><stop offset=".92634" class="b1"/><stop offset=".93002" class="b1"/><stop offset=".93370" class="b0"/><stop offset=".93739" class="b0"/><stop offset=".94107" class="b0"/><stop offset="1.00000" class="b1"/></radialGradient><radialGradient id="L5" gradientUnits="userSpaceOnUse" cx="-539.9" cy="340.4" r="1043.4"><stop offset=".65378" class="r0"/><stop offset=".66851" class="r0"/><stop offset=".67219" class="r1"/><stop offset=".67588" class="r0"/><stop offset=".67956" class="r0"/><stop offset=".68324" class="r0"/><stop offset=".68693" class="r1"/><stop offset=".69061" class="r3"/><stop offset=".69429" class="r3"/><stop offset=".69797" class="r2"/><stop offset=".70166" class="r1"/><stop offset=".70534" class="r1"/><stop offset=".70902" class="r2"/><stop offset=".71271" class="r4"/><stop offset=".71639" class="r4"/><stop offset=".72007" class="r2"/><stop offset=".72376" class="r0"/><stop offset=".72744" class="r1"/><stop offset=".73112" class="r3"/><stop offset=".73481" class="r5"/><stop offset=".73849" class="r5"/><stop offset=".74217" class="r2"/><stop offset=".74397" class="r0"/><stop offset=".74397" class="b0"/><stop offset=".74586" class="b2"/><stop offset=".74954" class="b2"/><stop offset=".75150" class="b0"/><stop offset=".75150" class="r0"/><stop offset=".75322" class="r2"/><stop offset=".75691" class="r7"/><stop offset=".76059" class="r8"/><stop offset=".76427" class="r1"/><stop offset=".76476" class="r0"/><stop offset=".76476" class="b0"/><stop offset=".76796" class="b7"/><stop offset=".77164" class="b7"/><stop offset=".77482" class="b0"/><stop offset=".77482" class="r0"/><stop offset=".77532" class="r1"/><stop offset=".77901" class="r11"/><stop offset=".78269" class="r12"/><stop offset=".78637" class="r2"/><stop offset=".78690" class="r0"/><stop offset=".78690" class="b0"/><stop offset=".79006" class="b10"/><stop offset=".79374" class="b10"/><stop offset=".79733" class="b0"/><stop offset=".79733" class="r0"/><stop offset=".79742" class="r0"/><stop offset=".80111" class="r12"/><stop offset=".80479" class="r13"/><stop offset=".80847" class="r2"/><stop offset=".80920" class="r0"/><stop offset=".80920" class="b0"/><stop offset=".81216" class="b10"/><stop offset=".81584" class="b12"/><stop offset=".81952" class="b1"/><stop offset=".81977" class="b0"/><stop offset=".81977" class="r0"/><stop offset=".82320" class="r12"/><stop offset=".82689" class="r14"/><stop offset=".83057" class="r3"/><stop offset=".83144" class="r0"/><stop offset=".83144" class="b0"/><stop offset=".83425" class="b10"/><stop offset=".83794" class="b12"/><stop offset=".84162" class="b2"/><stop offset=".84225" class="b0"/><stop offset=".84225" class="r0"/><stop offset=".84530" class="r11"/><stop offset=".84899" class="r13"/><stop offset=".85267" class="r3"/><stop offset=".85364" class="r0"/><stop offset=".85364" class="b0"/><stop offset=".85635" class="b9"/><stop offset=".86004" class="b12"/><stop offset=".86372" class="b3"/><stop offset=".86470" class="b0"/><stop offset=".86470" class="r0"/><stop offset=".86740" class="r9"/><stop offset=".87109" class="r12"/><stop offset=".87477" class="r3"/><stop offset=".87595" class="r0"/><stop offset=".87595" class="b0"/><stop offset=".87845" class="b7"/><stop offset=".88214" class="b10"/><stop offset=".88582" class="b3"/><stop offset=".88713" class="b0"/><stop offset=".88713" class="r0"/><stop offset=".88950" class="r5"/><stop offset=".89319" class="r7"/><stop offset=".89687" class="r2"/><stop offset=".89833" class="r0"/><stop offset=".89833" class="b0"/><stop offset=".90055" class="b3"/><stop offset=".90424" class="b4"/><stop offset=".90792" class="b1"/><stop offset=".90970" class="b0"/><stop offset=".90970" class="r0"/><stop offset=".91160" class="r1"/><stop offset=".91529" class="r2"/><stop offset=".91897" class="r0"/><stop offset=".92009" class="r0"/><stop offset=".92009" class="b0"/><stop offset=".92265" class="b1"/><stop offset=".92634" class="b1"/><stop offset=".93002" class="b1"/><stop offset="1.00000" class="b1"/></radialGradient><radialGradient id="L6" gradientUnits="userSpaceOnUse" cx="-539.9" cy="340.4" r="1043.4"><stop offset=".65378" class="r0"/><stop offset=".66483" class="r0"/><stop offset=".66851" class="r0"/><stop offset=".67219" class="r1"/><stop offset=".67588" class="r0"/><stop offset=".67956" class="r0"/><stop offset=".68324" class="r0"/><stop offset=".68693" class="r2"/><stop offset=".69061" class="r3"/><stop offset=".69429" class="r3"/><stop offset=".69797" class="r2"/><stop offset=".70166" class="r1"/><stop offset=".70534" class="r1"/><stop offset=".70902" class="r2"/><stop offset=".71271" class="r4"/><stop offset=".71639" class="r4"/><stop offset=".72007" class="r2"/><stop offset=".72376" class="r0"/><stop offset=".72744" class="r1"/><stop offset=".73112" class="r3"/><stop offset=".73481" class="r5"/><stop offset=".73849" class="r5"/><stop offset=".74217" class="r2"/><stop offset=".74393" class="r0"/><stop offset=".74393" class="b0"/><stop offset=".74586" class="b2"/><stop offset=".74954" class="b2"/><stop offset=".75153" class="b0"/><stop offset=".75153" class="r0"/><stop offset=".75322" class="r2"/><stop offset=".75691" class="r7"/><stop offset=".76059" class="r7"/><stop offset=".76427" class="r1"/><stop offset=".76477" class="r0"/><stop offset=".76477" class="b0"/><stop offset=".76796" class="b7"/><stop offset=".77164" class="b7"/><stop offset=".77481" class="b0"/><stop offset=".77481" class="r0"/><stop offset=".77532" class="r1"/><stop offset=".77901" class="r11"/><stop offset=".78269" class="r11"/><stop offset=".78637" class="r2"/><stop offset=".78692" class="r0"/><stop offset=".78692" class="b0"/><stop offset=".79006" class="b9"/><stop offset=".79374" class="b10"/><stop offset=".79732" class="b0"/><stop offset=".79732" class="r0"/><stop offset=".79742" class="r0"/><stop offset=".80111" class="r12"/><stop offset=".80479" class="r13"/><stop offset=".80847" class="r2"/><stop offset=".80921" class="r0"/><stop offset=".80921" class="b0"/><stop offset=".81216" class="b10"/><stop offset=".81584" class="b11"/><stop offset=".81952" class="b1"/><stop offset=".81976" class="b0"/><stop offset=".81976" class="r0"/><stop offset=".82320" class="r11"/><stop offset=".82689" class="r13"/><stop offset=".83057" class="r3"/><stop offset=".83144" class="r0"/><stop offset=".83144" class="b0"/><stop offset=".83425" class="b9"/><stop offset=".83794" class="b12"/><stop offset=".84162" class="b2"/><stop offset=".84225" class="b0"/><stop offset=".84225" class="r0"/><stop offset=".84530" class="r10"/><stop offset=".84899" class="r13"/><stop offset=".85267" class="r3"/><stop offset=".85364" class="r0"/><stop offset=".85364" class="b0"/><stop offset=".85635" class="b9"/><stop offset=".86004" class="b12"/><stop offset=".86372" class="b3"/><stop offset=".86471" class="b0"/><stop offset=".86471" class="r0"/><stop offset=".86740" class="r8"/><stop offset=".87109" class="r11"/><stop offset=".87477" class="r3"/><stop offset=".87595" class="r0"/><stop offset=".87595" class="b0"/><stop offset=".87845" class="b7"/><stop offset=".88214" class="b9"/><stop offset=".88582" class="b3"/><stop offset=".88714" class="b0"/><stop offset=".88714" class="r0"/><stop offset=".88950" class="r5"/><stop offset=".89319" class="r6"/><stop offset=".89687" class="r2"/><stop offset=".89833" class="r0"/><stop offset=".89833" class="b0"/><stop offset=".90055" class="b3"/><stop offset=".90424" class="b4"/><stop offset=".90792" class="b1"/><stop offset=".90973" class="b0"/><stop offset=".90973" class="r0"/><stop offset=".91160" class="r1"/><stop offset=".91529" class="r2"/><stop offset=".91897" class="r0"/><stop offset=".91997" class="r0"/><stop offset=".91997" class="b0"/><stop offset=".92265" class="b1"/><stop offset=".92634" class="b1"/><stop offset=".93002" class="b1"/><stop offset="1.00000" class="b1"/></radialGradient><radialGradient id="L7" gradientUnits="userSpaceOnUse" cx="-539.9" cy="340.4" r="1043.4"><stop offset=".65378" class="r0"/><stop offset=".66483" class="r0"/><stop offset=".66851" class="r0"/><stop offset=".67219" class="r1"/><stop offset=".67588" class="r0"/><stop offset=".67956" class="r0"/><stop offset=".68324" class="r1"/><stop offset=".68693" class="r2"/><stop offset=".69061" class="r3"/><stop offset=".69429" class="r3"/><stop offset=".69797" class="r2"/><stop offset=".70166" class="r1"/><stop offset=".70534" class="r1"/><stop offset=".70902" class="r2"/><stop offset=".71271" class="r4"/><stop offset=".71639" class="r4"/><stop offset=".72007" class="r2"/><stop offset=".72376" class="r0"/><stop offset=".72744" class="r1"/><stop offset=".73112" class="r3"/><stop offset=".73481" class="r5"/><stop offset=".73849" class="r5"/><stop offset=".74217" class="r2"/><stop offset=".74396" class="r0"/><stop offset=".74396" class="b0"/><stop offset=".74586" class="b2"/><stop offset=".74954" class="b2"/><stop offset=".75152" class="b0"/><stop offset=".75152" class="r0"/><stop offset=".75322" class="r2"/><stop offset=".75691" class="r7"/><stop offset=".76059" class="r7"/><stop offset=".76427" class="r1"/><stop offset=".76480" class="r0"/><stop offset=".76480" class="b0"/><stop offset=".76796" class="b6"/><stop offset=".77164" class="b7"/><stop offset=".77478" class="b0"/><stop offset=".77478" class="r0"/><stop offset=".77532" class="r1"/><stop offset=".77901" class="r10"/><stop offset=".78269" class="r11"/><stop offset=".78637" class="r2"/><stop offset=".78695" class="r0"/><stop offset=".78695" class="b0"/><stop offset=".79006" class="b9"/><stop offset=".79374" class="b9"/><stop offset=".79729" class="b0"/><stop offset=".79729" class="r0"/><stop offset=".79742" class="r0"/><stop offset=".80111" class="r11"/><stop offset=".80479" class="r12"/><stop offset=".80847" class="r2"/><stop offset=".80923" class="r0"/><stop offset=".80923" class="b0"/><stop offset=".81216" class="b9"/><stop offset=".81584" class="b10"/><stop offset=".81952" class="b1"/><stop offset=".81975" class="b0"/><stop offset=".81975" class="r0"/><stop offset=".82320" class="r11"/><stop offset=".82689" class="r12"/><stop offset=".83057" class="r3"/><stop offset=".83145" class="r0"/><stop offset=".83145" class="b0"/><stop offset=".83425" class="b9"/><stop offset=".83794" class="b11"/><stop offset=".84162" class="b2"/><stop offset=".84225" class="b0"/><stop offset=".84225" class="r0"/><stop offset=".84530" class="r9"/><stop offset=".84899" class="r12"/><stop offset=".85267" class="r3"/><stop offset=".85364" class="r0"/><stop offset=".85364" class="b0"/><stop offset=".85635" class="b8"/><stop offset=".86004" class="b11"/><stop offset=".86372" class="b3"/><stop offset=".86471" class="b0"/><stop offset=".86471" class="r0"/><stop offset=".86740" class="r8"/><stop offset=".87109" class="r10"/><stop offset=".87477" class="r3"/><stop offset=".87595" class="r0"/><stop offset=".87595" class="b0"/><stop offset=".87845" class="b6"/><stop offset=".88214" class="b8"/><stop offset=".88582" class="b2"/><stop offset=".88714" class="b0"/><stop offset=".88714" class="r0"/><stop offset=".88950" class="r4"/><stop offset=".89319" class="r6"/><stop offset=".89687" class="r2"/><stop offset=".89833" class="r0"/><stop offset=".89833" class="b0"/><stop offset=".90055" class="b3"/><stop offset=".90424" class="b3"/><stop offset=".90792" class="b1"/><stop offset=".90977" class="b0"/><stop offset=".90977" class="r0"/><stop offset=".91160" class="r1"/><stop offset=".91529" class="r1"/><stop offset=".91897" class="r0"/><stop offset=".91982" class="r0"/><stop offset=".91982" class="b0"/><stop offset=".92265" class="b1"/><stop offset=".92634" class="b1"/><stop offset=".93002" class="b1"/><stop offset="1.00000" class="b1"/></radialGradient><radialGradient id="L8" gradientUnits="userSpaceOnUse" cx="-539.9" cy="340.4" r="1043.4"><stop offset=".65378" class="r0"/><stop offset=".66483" class="r0"/><stop offset=".66851" class="r0"/><stop offset=".67219" class="r1"/><stop offset=".67588" class="r1"/><stop offset=".67956" class="r0"/><stop offset=".68324" class="r1"/><stop offset=".68693" class="r2"/><stop offset=".69061" class="r3"/><stop offset=".69429" class="r3"/><stop offset=".69797" class="r2"/><stop offset=".70166" class="r1"/><stop offset=".70534" class="r1"/><stop offset=".70902" class="r2"/><stop offset=".71271" class="r4"/><stop offset=".71639" class="r4"/><stop offset=".72007" class="r2"/><stop offset=".72376" class="r1"/><stop offset=".72744" class="r1"/><stop offset=".73112" class="r3"/><stop offset=".73481" class="r5"/><stop offset=".73849" class="r5"/><stop offset=".74217" class="r2"/><stop offset=".74408" class="r0"/><stop offset=".74408" class="b0"/><stop offset=".74586" class="b2"/><stop offset=".74954" class="b2"/><stop offset=".75142" class="b0"/><stop offset=".75142" class="r0"/><stop offset=".75322" class="r2"/><stop offset=".75691" class="r6"/><stop offset=".76059" class="r7"/><stop offset=".76427" class="r1"/><stop offset=".76486" class="r0"/><stop offset=".76486" class="b0"/><stop offset=".76796" class="b6"/><stop offset=".77164" class="b6"/><stop offset=".77472" class="b0"/><stop offset=".77472" class="r0"/><stop offset=".77532" class="r1"/><stop offset=".77901" class="r9"/><stop offset=".78269" class="r10"/><stop offset=".78637" class="r2"/><stop offset=".78700" class="r0"/><stop offset=".78700" class="b0"/><stop offset=".79006" class="b7"/><stop offset=".79374" class="b8"/><stop offset=".79724" class="b0"/><stop offset=".79724" class="r0"/><stop offset=".79742" class="r0"/><stop offset=".80111" class="r10"/><stop offset=".80479" class="r11"/><stop offset=".80847" class="r2"/><stop offset=".80927" class="r0"/><stop offset=".80927" class="b0"/><stop offset=".81216" class="b8"/><stop offset=".81584" class="b9"/><stop offset=".81952" class="b1"/><stop offset=".81971" class="b0"/><stop offset=".81971" class="r0"/><stop offset=".82320" class="r9"/><stop offset=".82689" class="r11"/><stop offset=".83057" class="r2"/><stop offset=".83147" class="r0"/><stop offset=".83147" class="b0"/><stop offset=".83425" class="b8"/><stop offset=".83794" class="b10"/><stop offset=".84162" class="b2"/><stop offset=".84224" class="b0"/><stop offset=".84224" class="r0"/><stop offset=".84530" class="r8"/><stop offset=".84899" class="r10"/><stop offset=".85267" class="r3"/><stop offset=".85365" class="r0"/><stop offset=".85365" class="b0"/><stop offset=".85635" class="b7"/><stop offset=".86004" class="b10"/><stop offset=".86372" class="b2"/><stop offset=".86470" class="b0"/><stop offset=".86470" class="r0"/><stop offset=".86740" class="r7"/><stop offset=".87109" class="r9"/><stop offset=".87477" class="r3"/><stop offset=".87596" class="r0"/><stop offset=".87596" class="b0"/><stop offset=".87845" class="b5"/><stop offset=".88214" class="b7"/><stop offset=".88582" class="b2"/><stop offset=".88715" class="b0"/><stop offset=".88715" class="r0"/><stop offset=".88950" class="r4"/><stop offset=".89319" class="r5"/><stop offset=".89687" class="r1"/><stop offset=".89832" class="r0"/><stop offset=".89832" class="b0"/><stop offset=".90055" class="b2"/><stop offset=".90424" class="b3"/><stop offset=".90792" class="b1"/><stop offset=".90982" class="b0"/><stop offset=".90982" class="r0"/><stop offset=".91160" class="r1"/><stop offset=".91529" class="r1"/><stop offset=".91897" class="r0"/><stop offset=".91962" class="r0"/><stop offset=".91962" class="b0"/><stop offset=".92265" class="b1"/><stop offset=".92634" class="b1"/><stop offset=".93002" class="b1"/><stop offset="1.00000" class="b1"/></radialGradient><radialGradient id="L9" gradientUnits="userSpaceOnUse" cx="-539.9" cy="340.4" r="1043.4"><stop offset=".65378" class="r0"/><stop offset=".66483" class="r0"/><stop offset=".66851" class="r1"/><stop offset=".67219" class="r1"/><stop offset=".67588" class="r1"/><stop offset=".67956" class="r0"/><stop offset=".68324" class="r1"/><stop offset=".68693" class="r2"/><stop offset=".69061" class="r3"/><stop offset=".69429" class="r3"/><stop offset=".69797" class="r2"/><stop offset=".70166" class="r1"/><stop offset=".70534" class="r1"/><stop offset=".70902" class="r2"/><stop offset=".71271" class="r4"/><stop offset=".71639" class="r4"/><stop offset=".72007" class="r2"/><stop offset=".72376" class="r1"/><stop offset=".72744" class="r1"/><stop offset=".73112" class="r3"/><stop offset=".73481" class="r5"/><stop offset=".73849" class="r4"/><stop offset=".74217" class="r2"/><stop offset=".74436" class="r0"/><stop offset=".74436" class="b0"/><stop offset=".74586" class="b1"/><stop offset=".74954" class="b1"/><stop offset=".75119" class="b0"/><stop offset=".75119" class="r0"/><stop offset=".75322" class="r2"/><stop offset=".75691" class="r6"/><stop offset=".76059" class="r6"/><stop offset=".76427" class="r1"/><stop offset=".76499" class="r0"/><stop offset=".76499" class="b0"/><stop offset=".76796" class="b4"/><stop offset=".77164" class="b5"/><stop offset=".77460" class="b0"/><stop offset=".77460" class="r0"/><stop offset=".77532" class="r1"/><stop offset=".77901" class="r8"/><stop offset=".78269" class="r8"/><stop offset=".78637" class="r1"/><stop offset=".78710" class="r0"/><stop offset=".78710" class="b0"/><stop offset=".79006" class="b6"/><stop offset=".79374" class="b7"/><stop offset=".79714" class="b0"/><stop offset=".79714" class="r0"/><stop offset=".79742" class="r1"/><stop offset=".80111" class="r8"/><stop offset=".80479" class="r9"/><stop offset=".80847" class="r2"/><stop offset=".80935" class="r0"/><stop offset=".80935" class="b0"/><stop offset=".81216" class="b6"/><stop offset=".81584" class="b7"/><stop offset=".81952" class="b0"/><stop offset=".81964" class="b0"/><stop offset=".81964" class="r0"/><stop offset=".82320" class="r8"/><stop offset=".82689" class="r9"/><stop offset=".83057" class="r2"/><stop offset=".83152" class="r0"/><stop offset=".83152" class="b0"/><stop offset=".83425" class="b6"/><stop offset=".83794" class="b8"/><stop offset=".84162" class="b1"/><stop offset=".84221" class="b0"/><stop offset=".84221" class="r0"/><stop offset=".84530" class="r7"/><stop offset=".84899" class="r9"/><stop offset=".85267" class="r2"/><stop offset=".85366" class="r0"/><stop offset=".85366" class="b0"/><stop offset=".85635" class="b6"/><stop offset=".86004" class="b8"/><stop offset=".86372" class="b2"/><stop offset=".86470" class="b0"/><stop offset=".86470" class="r0"/><stop offset=".86740" class="r6"/><stop offset=".87109" class="r7"/><stop offset=".87477" class="r2"/><stop offset=".87596" class="r0"/><stop offset=".87596" class="b0"/><stop offset=".87845" class="b4"/><stop offset=".88214" class="b6"/><stop offset=".88582" class="b2"/><stop offset=".88715" class="b0"/><stop offset=".88715" class="r0"/><stop offset=".88950" class="r3"/><stop offset=".89319" class="r4"/><stop offset=".89687" class="r1"/><stop offset=".89831" class="r0"/><stop offset=".89831" class="b0"/><stop offset=".90055" class="b2"/><stop offset=".90424" class="b2"/><stop offset=".90792" class="b1"/><stop offset=".90991" class="b0"/><stop offset=".90991" class="r0"/><stop offset=".91160" class="r1"/><stop offset=".91529" class="r1"/><stop offset=".91897" class="r0"/><stop offset=".91931" class="r0"/><stop offset=".91931" class="b0"/><stop offset=".92265" class="b1"/><stop offset=".92634" class="b1"/><stop offset=".93002" class="b1"/><stop offset="1.00000" class="b1"/></radialGradient><radialGradient id="L10" gradientUnits="userSpaceOnUse" cx="-539.9" cy="340.4" r="1043.4"><stop offset=".65378" class="r0"/><stop offset=".66483" class="r0"/><stop offset=".66851" class="r0"/><stop offset=".67219" class="r1"/><stop offset=".67588" class="r0"/><stop offset=".67956" class="r0"/><stop offset=".68324" class="r1"/><stop offset=".68693" class="r1"/><stop offset=".69061" class="r2"/><stop offset=".69429" class="r2"/><stop offset=".69797" class="r1"/><stop offset=".70166" class="r1"/><stop offset=".70534" class="r1"/><stop offset=".70902" class="r2"/><stop offset=".71271" class="r3"/><stop offset=".71639" class="r3"/><stop offset=".72007" class="r2"/><stop offset=".72376" class="r1"/><stop offset=".72744" class="r1"/><stop offset=".73112" class="r2"/><stop offset=".73481" class="r4"/><stop offset=".73849" class="r4"/><stop offset=".74217" class="r2"/><stop offset=".74491" class="r0"/><stop offset=".74491" class="b0"/><stop offset=".74586" class="b1"/><stop offset=".74954" class="b1"/><stop offset=".75069" class="b0"/><stop offset=".75069" class="r0"/><stop offset=".75322" class="r2"/><stop offset=".75691" class="r4"/><stop offset=".76059" class="r5"/><stop offset=".76427" class="r1"/><stop offset=".76529" class="r0"/><stop offset=".76529" class="b0"/><stop offset=".76796" class="b3"/><stop offset=".77164" class="b3"/><stop offset=".77432" class="b0"/><stop offset=".77432" class="r0"/><stop offset=".77532" class="r1"/><stop offset=".77901" class="r6"/><stop offset=".78269" class="r6"/><stop offset=".78637" class="r1"/><stop offset=".78732" class="r0"/><stop offset=".78732" class="b0"/><stop offset=".79006" class="b4"/><stop offset=".79374" class="b4"/><stop offset=".79691" class="b0"/><stop offset=".79691" class="r0"/><stop offset=".79742" class="r1"/><stop offset=".80111" class="r6"/><stop offset=".80479" class="r7"/><stop offset=".80847" class="r2"/><stop offset=".80954" class="r0"/><stop offset=".80954" class="b0"/><stop offset=".81216" class="b4"/><stop offset=".81584" class="b5"/><stop offset=".81948" class="b0"/><stop offset=".81948" class="r0"/><stop offset=".81952" class="r0"/><stop offset=".82320" class="r6"/><stop offset=".82689" class="r7"/><stop offset=".83057" class="r2"/><stop offset=".83163" class="r0"/><stop offset=".83163" class="b0"/><stop offset=".83425" class="b4"/><stop offset=".83794" class="b6"/><stop offset=".84162" class="b1"/><stop offset=".84214" class="b0"/><stop offset=".84214" class="r0"/><stop offset=".84530" class="r5"/><stop offset=".84899" class="r6"/><stop offset=".85267" class="r2"/><stop offset=".85370" class="r0"/><stop offset=".85370" class="b0"/><stop offset=".85635" class="b4"/><stop offset=".86004" class="b6"/><stop offset=".86372" class="b1"/><stop offset=".86468" class="b0"/><stop offset=".86468" class="r0"/><stop offset=".86740" class="r4"/><stop offset=".87109" class="r5"/><stop offset=".87477" class="r2"/><stop offset=".87597" class="r0"/><stop offset=".87597" class="b0"/><stop offset=".87845" class="b3"/><stop offset=".88214" class="b4"/><stop offset=".88582" class="b1"/><stop offset=".88716" class="b0"/><stop offset=".88716" class="r0"/><stop offset=".88950" class="r2"/><stop offset=".89319" class="r3"/><stop offset=".89687" class="r1"/><stop offset=".89828" class="r0"/><stop offset=".89828" class="b0"/><stop offset=".90055" class="b1"/><stop offset=".90424" class="b2"/><stop offset=".90792" class="b1"/><stop offset=".91007" class="b0"/><stop offset=".91007" class="r0"/><stop offset=".91160" class="r0"/><stop offset=".91529" class="r1"/><stop offset=".91873" class="r0"/><stop offset=".91873" class="b0"/><stop offset=".91897" class="b0"/><stop offset="1.00000" class="b1"/></radialGradient><radialGradient id="L11" gradientUnits="userSpaceOnUse" cx="-539.9" cy="340.4" r="1043.4"><stop offset=".65378" class="r0"/><stop offset=".67956" class="r0"/><stop offset=".68324" class="r0"/><stop offset=".68693" class="r1"/><stop offset=".69061" class="r1"/><stop offset=".69429" class="r1"/><stop offset=".69797" class="r1"/><stop offset=".70166" class="r1"/><stop offset=".70534" class="r1"/><stop offset=".70902" class="r2"/><stop offset=".71271" class="r2"/><stop offset=".71639" class="r2"/><stop offset=".72007" class="r1"/><stop offset=".72376" class="r1"/><stop offset=".72744" class="r1"/><stop offset=".73112" class="r2"/><stop offset=".73481" class="r2"/><stop offset=".73849" class="r2"/><stop offset=".74217" class="r1"/><stop offset=".74586" class="r0"/><stop offset=".74954" class="r0"/><stop offset=".75322" class="r1"/><stop offset=".75691" class="r3"/><stop offset=".76059" class="r3"/><stop offset=".76427" class="r1"/><stop offset=".76626" class="r0"/><stop offset=".76626" class="b0"/><stop offset=".76796" class="b1"/><stop offset=".77164" class="b1"/><stop offset=".77342" class="b0"/><stop offset=".77342" class="r0"/><stop offset=".77532" class="r1"/><stop offset=".77901" class="r4"/><stop offset=".78269" class="r4"/><stop offset=".78637" class="r1"/><stop offset=".78803" class="r0"/><stop offset=".78803" class="b0"/><stop offset=".79006" class="b2"/><stop offset=".79374" class="b2"/><stop offset=".79618" class="b0"/><stop offset=".79618" class="r0"/><stop offset=".79742" class="r1"/><stop offset=".80111" class="r4"/><stop offset=".80479" class="r4"/><stop offset=".80847" class="r1"/><stop offset=".81012" class="r0"/><stop offset=".81012" class="b0"/><stop offset=".81216" class="b2"/><stop offset=".81584" class="b2"/><stop offset=".81889" class="b0"/><stop offset=".81889" class="r0"/><stop offset=".81952" class="r0"/><stop offset=".82320" class="r4"/><stop offset=".82689" class="r4"/><stop offset=".83057" class="r1"/><stop offset=".83197" class="r0"/><stop offset=".83197" class="b0"/><stop offset=".83425" class="b2"/><stop offset=".83794" class="b3"/><stop offset=".84162" class="b0"/><stop offset=".84191" class="b0"/><stop offset=".84191" class="r0"/><stop offset=".84530" class="r3"/><stop offset=".84899" class="r3"/><stop offset=".85267" class="r1"/><stop offset=".85381" class="r0"/><stop offset=".85381" class="b0"/><stop offset=".85635" class="b2"/><stop offset=".86004" class="b3"/><stop offset=".86372" class="b1"/><stop offset=".86463" class="b0"/><stop offset=".86463" class="r0"/><stop offset=".86740" class="r2"/><stop offset=".87109" class="r3"/><stop offset=".87477" class="r1"/><stop offset=".87599" class="r0"/><stop offset=".87599" class="b0"/><stop offset=".87845" class="b2"/><stop offset=".88214" class="b2"/><stop offset=".88582" class="b1"/><stop offset=".88716" class="b0"/><stop offset=".88716" class="r0"/><stop offset=".88950" class="r1"/><stop offset=".89319" class="r1"/><stop offset=".89687" class="r0"/><stop offset=".89820" class="r0"/><stop offset=".89820" class="b0"/><stop offset=".90055" class="b1"/><stop offset=".90424" class="b1"/><stop offset=".90792" class="b0"/><stop offset="1.00000" class="b1"/></radialGradient><radialGradient id="L12" gradientUnits="userSpaceOnUse" cx="-539.9" cy="340.4" r="1043.4"><stop offset=".65378" class="r0"/><stop offset=".68324" class="r0"/><stop offset=".68693" class="r0"/><stop offset=".69061" class="r0"/><stop offset=".69429" class="r1"/><stop offset=".69797" class="r1"/><stop offset=".70166" class="r1"/><stop offset=".70534" class="r1"/><stop offset=".70902" class="r1"/><stop offset=".71271" class="r1"/><stop offset=".71639" class="r1"/><stop offset=".72007" class="r1"/><stop offset=".72376" class="r1"/><stop offset=".72744" class="r1"/><stop offset=".73112" class="r1"/><stop offset=".73481" class="r1"/><stop offset=".73849" class="r1"/><stop offset=".74217" class="r1"/><stop offset=".74586" class="r1"/><stop offset=".74954" class="r1"/><stop offset=".75322" class="r1"/><stop offset=".75691" class="r1"/><stop offset=".76059" class="r1"/><stop offset=".76427" class="r1"/><stop offset=".76796" class="r1"/><stop offset=".77164" class="r1"/><stop offset=".77532" class="r1"/><stop offset=".77901" class="r1"/><stop offset=".78269" class="r1"/><stop offset=".78637" class="r1"/><stop offset=".79006" class="r1"/><stop offset=".79374" class="r1"/><stop offset=".79742" class="r1"/><stop offset=".80111" class="r1"/><stop offset=".80479" class="r1"/><stop offset=".80847" class="r1"/><stop offset=".81216" class="r1"/><stop offset=".81584" class="r1"/><stop offset=".81952" class="r1"/><stop offset=".82320" class="r1"/><stop offset=".82689" class="r1"/><stop offset=".83057" class="r1"/><stop offset=".83425" class="r1"/><stop offset=".83794" class="r1"/><stop offset=".84162" class="r0"/><stop offset=".84530" class="r0"/><stop offset="1.00000" class="b1"/></radialGradient><radialGradient id="L13" gradientUnits="userSpaceOnUse" cx="-539.9" cy="340.4" r="1043.4"><stop offset=".65378" class="r0"/><stop offset=".67956" class="r0"/><stop offset=".68324" class="r0"/><stop offset=".68693" class="r1"/><stop offset=".69061" class="r1"/><stop offset=".69429" class="r1"/><stop offset=".69797" class="r1"/><stop offset=".70166" class="r1"/><stop offset=".70534" class="r1"/><stop offset=".70902" class="r2"/><stop offset=".71271" class="r2"/><stop offset=".71639" class="r2"/><stop offset=".72007" class="r2"/><stop offset=".72376" class="r1"/><stop offset=".72744" class="r1"/><stop offset=".73112" class="r2"/><stop offset=".73481" class="r2"/><stop offset=".73849" class="r1"/><stop offset=".74217" class="r2"/><stop offset=".74586" class="r2"/><stop offset=".74954" class="r2"/><stop offset=".75322" class="r1"/><stop offset=".75627" class="r0"/><stop offset=".75627" class="b0"/><stop offset=".75691" class="b0"/><stop offset=".76059" class="b0"/><stop offset=".76153" class="b0"/><stop offset=".76153" class="r0"/><stop offset=".76427" class="r1"/><stop offset=".76796" class="r3"/><stop offset=".77164" class="r3"/><stop offset=".77532" class="r1"/><stop offset=".77704" class="r0"/><stop offset=".77704" class="b0"/><stop offset=".77901" class="b1"/><stop offset=".78269" class="b2"/><stop offset=".78486" class="b0"/><stop offset=".78486" class="r0"/><stop offset=".78637" class="r1"/><stop offset=".79006" class="r4"/><stop offset=".79374" class="r4"/><stop offset=".79742" class="r1"/><stop offset=".79908" class="r0"/><stop offset=".79908" class="b0"/><stop offset=".80111" class="b2"/><stop offset=".80479" class="b2"/><stop offset=".80749" class="b0"/><stop offset=".80749" class="r0"/><stop offset=".80847" class="r1"/><stop offset=".81216" class="r4"/><stop offset=".81584" class="r4"/><stop offset=".81952" class="r1"/><stop offset=".82108" class="r0"/><stop offset=".82108" class="b0"/><stop offset=".82320" class="b2"/><stop offset=".82689" class="b2"/><stop offset=".83040" class="b0"/><stop offset=".83040" class="r0"/><stop offset=".83057" class="r0"/><stop offset=".83425" class="r3"/><stop offset=".83794" class="r4"/><stop offset=".84162" class="r1"/><stop offset=".84285" class="r0"/><stop offset=".84285" class="b0"/><stop offset=".84530" class="b2"/><stop offset=".84899" class="b3"/><stop offset=".85267" class="b1"/><stop offset=".85331" class="b0"/><stop offset=".85331" class="r0"/><stop offset=".85635" class="r3"/><stop offset=".86004" class="r3"/><stop offset=".86372" class="r1"/><stop offset=".86487" class="r0"/><stop offset=".86487" class="b0"/><stop offset=".86740" class="b2"/><stop offset=".87109" class="b3"/><stop offset=".87477" class="b1"/><stop offset=".87589" class="b0"/><stop offset=".87589" class="r0"/><stop offset=".87845" class="r2"/><stop offset=".88214" class="r2"/><stop offset=".88582" class="r1"/><stop offset=".88715" class="r0"/><stop offset=".88715" class="b0"/><stop offset=".88950" class="b1"/><stop offset=".89319" class="b1"/><stop offset=".89687" class="b0"/><stop offset=".89854" class="b0"/><stop offset=".89854" class="r0"/><stop offset=".90055" class="r1"/><stop offset=".90424" class="r1"/><stop offset=".90792" class="r0"/><stop offset="1.00000" class="b1"/></radialGradient><radialGradient id="L14" gradientUnits="userSpaceOnUse" cx="-539.9" cy="340.4" r="1043.4"><stop offset=".65378" class="r0"/><stop offset=".66483" class="r0"/><stop offset=".66851" class="r0"/><stop offset=".67219" class="r1"/><stop offset=".67588" class="r0"/><stop offset=".67956" class="r0"/><stop offset=".68324" class="r1"/><stop offset=".68693" class="r1"/><stop offset=".69061" class="r2"/><stop offset=".69429" class="r2"/><stop offset=".69797" class="r1"/><stop offset=".70166" class="r1"/><stop offset=".70534" class="r1"/><stop offset=".70902" class="r2"/><stop offset=".71271" class="r3"/><stop offset=".71639" class="r3"/><stop offset=".72007" class="r2"/><stop offset=".72376" class="r2"/><stop offset=".72744" class="r2"/><stop offset=".73112" class="r2"/><stop offset=".73481" class="r2"/><stop offset=".73849" class="r2"/><stop offset=".74217" class="r2"/><stop offset=".74586" class="r3"/><stop offset=".74954" class="r3"/><stop offset=".75322" class="r1"/><stop offset=".75490" class="r0"/><stop offset=".75490" class="b0"/><stop offset=".75691" class="b2"/><stop offset=".76059" class="b2"/><stop offset=".76272" class="b0"/><stop offset=".76272" class="r0"/><stop offset=".76427" class="r1"/><stop offset=".76796" class="r5"/><stop offset=".77164" class="r6"/><stop offset=".77532" class="r1"/><stop offset=".77624" class="r0"/><stop offset=".77624" class="b0"/><stop offset=".77901" class="b4"/><stop offset=".78269" class="b4"/><stop offset=".78565" class="b0"/><stop offset=".78565" class="r0"/><stop offset=".78637" class="r1"/><stop offset=".79006" class="r6"/><stop offset=".79374" class="r7"/><stop offset=".79742" class="r2"/><stop offset=".79843" class="r0"/><stop offset=".79843" class="b0"/><stop offset=".80111" class="b4"/><stop offset=".80479" class="b5"/><stop offset=".80817" class="b0"/><stop offset=".80817" class="r0"/><stop offset=".80847" class="r0"/><stop offset=".81216" class="r6"/><stop offset=".81584" class="r7"/><stop offset=".81952" class="r2"/><stop offset=".82060" class="r0"/><stop offset=".82060" class="b0"/><stop offset=".82320" class="b4"/><stop offset=".82689" class="b5"/><stop offset=".83057" class="b0"/><stop offset=".83081" class="b0"/><stop offset=".83081" class="r0"/><stop offset=".83425" class="r6"/><stop offset=".83794" class="r7"/><stop offset=".84162" class="r2"/><stop offset=".84264" class="r0"/><stop offset=".84264" class="b0"/><stop offset=".84530" class="b4"/><stop offset=".84899" class="b6"/><stop offset=".85267" class="b1"/><stop offset=".85343" class="b0"/><stop offset=".85343" class="r0"/><stop offset=".85635" class="r5"/><stop offset=".86004" class="r6"/><stop offset=".86372" class="r2"/><stop offset=".86481" class="r0"/><stop offset=".86481" class="b0"/><stop offset=".86740" class="b4"/><stop offset=".87109" class="b5"/><stop offset=".87477" class="b1"/><stop offset=".87591" class="b0"/><stop offset=".87591" class="r0"/><stop offset=".87845" class="r3"/><stop offset=".88214" class="r4"/><stop offset=".88582" class="r1"/><stop offset=".88715" class="r0"/><stop offset=".88715" class="b0"/><stop offset=".88950" class="b2"/><stop offset=".89319" class="b3"/><stop offset=".89687" class="b1"/><stop offset=".89846" class="b0"/><stop offset=".89846" class="r0"/><stop offset=".90055" class="r1"/><stop offset=".90424" class="r1"/><stop offset=".90792" class="r0"/><stop offset=".90911" class="r0"/><stop offset=".90911" class="b0"/><stop offset=".91160" class="b1"/><stop offset=".91529" class="b1"/><stop offset=".91897" class="b1"/><stop offset="1.00000" class="b1"/></radialGradient><radialGradient id="L15" gradientUnits="userSpaceOnUse" cx="-539.9" cy="340.4" r="1043.4"><stop offset=".65378" class="r0"/><stop offset=".66483" class="r0"/><stop offset=".66851" class="r1"/><stop offset=".67219" class="r1"/><stop offset=".67588" class="r1"/><stop offset=".67956" class="r0"/><stop offset=".68324" class="r1"/><stop offset=".68693" class="r2"/><stop offset=".69061" class="r3"/><stop offset=".69429" class="r3"/><stop offset=".69797" class="r2"/><stop offset=".70166" class="r1"/><stop offset=".70534" class="r1"/><stop offset=".70902" class="r2"/><stop offset=".71271" class="r3"/><stop offset=".71639" class="r3"/><stop offset=".72007" class="r2"/><stop offset=".72376" class="r2"/><stop offset=".72744" class="r2"/><stop offset=".73112" class="r2"/><stop offset=".73481" class="r2"/><stop offset=".73849" class="r2"/><stop offset=".74217" class="r2"/><stop offset=".74586" class="r4"/><stop offset=".74954" class="r4"/><stop offset=".75322" class="r1"/><stop offset=".75446" class="r0"/><stop offset=".75446" class="b0"/><stop offset=".75691" class="b3"/><stop offset=".76059" class="b3"/><stop offset=".76308" class="b0"/><stop offset=".76308" class="r0"/><stop offset=".76427" class="r1"/><stop offset=".76796" class="r7"/><stop offset=".77164" class="r7"/><stop offset=".77532" class="r1"/><stop offset=".77599" class="r0"/><stop offset=".77599" class="b0"/><stop offset=".77901" class="b5"/><stop offset=".78269" class="b6"/><stop offset=".78589" class="b0"/><stop offset=".78589" class="r0"/><stop offset=".78637" class="r1"/><stop offset=".79006" class="r8"/><stop offset=".79374" class="r9"/><stop offset=".79742" class="r2"/><stop offset=".79823" class="r0"/><stop offset=".79823" class="b0"/><stop offset=".80111" class="b6"/><stop offset=".80479" class="b7"/><stop offset=".80838" class="b0"/><stop offset=".80838" class="r0"/><stop offset=".80847" class="r0"/><stop offset=".81216" class="r8"/><stop offset=".81584" class="r9"/><stop offset=".81952" class="r2"/><stop offset=".82045" class="r0"/><stop offset=".82045" class="b0"/><stop offset=".82320" class="b6"/><stop offset=".82689" class="b8"/><stop offset=".83057" class="b1"/><stop offset=".83092" class="b0"/><stop offset=".83092" class="r0"/><stop offset=".83425" class="r7"/><stop offset=".83794" class="r9"/><stop offset=".84162" class="r2"/><stop offset=".84258" class="r0"/><stop offset=".84258" class="b0"/><stop offset=".84530" class="b6"/><stop offset=".84899" class="b8"/><stop offset=".85267" class="b2"/><stop offset=".85347" class="b0"/><stop offset=".85347" class="r0"/><stop offset=".85635" class="r6"/><stop offset=".86004" class="r8"/><stop offset=".86372" class="r2"/><stop offset=".86479" class="r0"/><stop offset=".86479" class="b0"/><stop offset=".86740" class="b5"/><stop offset=".87109" class="b7"/><stop offset=".87477" class="b2"/><stop offset=".87592" class="b0"/><stop offset=".87592" class="r0"/><stop offset=".87845" class="r4"/><stop offset=".88214" class="r6"/><stop offset=".88582" class="r2"/><stop offset=".88715" class="r0"/><stop offset=".88715" class="b0"/><stop offset=".88950" class="b3"/><stop offset=".89319" class="b4"/><stop offset=".89687" class="b1"/><stop offset=".89843" class="b0"/><stop offset=".89843" class="r0"/><stop offset=".90055" class="r2"/><stop offset=".90424" class="r2"/><stop offset=".90792" class="r1"/><stop offset=".90925" class="r0"/><stop offset=".90925" class="b0"/><stop offset=".91160" class="b1"/><stop offset=".91529" class="b1"/><stop offset=".91897" class="b1"/><stop offset=".92254" class="b0"/><stop offset=".92254" class="r0"/><stop offset=".92265" class="r0"/><stop offset=".92634" class="r0"/><stop offset=".92680" class="r0"/><stop offset=".92680" class="b0"/><stop offset=".93002" class="b0"/><stop offset="1.00000" class="b1"/></radialGradient><radialGradient id="L16" gradientUnits="userSpaceOnUse" cx="-539.9" cy="340.4" r="1043.4"><stop offset=".65378" class="r0"/><stop offset=".66483" class="r0"/><stop offset=".66851" class="r0"/><stop offset=".67219" class="r1"/><stop offset=".67588" class="r1"/><stop offset=".67956" class="r0"/><stop offset=".68324" class="r1"/><stop offset=".68693" class="r2"/><stop offset=".69061" class="r3"/><stop offset=".69429" class="r3"/><stop offset=".69797" class="r2"/><stop offset=".70166" class="r1"/><stop offset=".70534" class="r1"/><stop offset=".70902" class="r2"/><stop offset=".71271" class="r3"/><stop offset=".71639" class="r3"/><stop offset=".72007" class="r2"/><stop offset=".72376" class="r2"/><stop offset=".72744" class="r2"/><stop offset=".73112" class="r2"/><stop offset=".73481" class="r2"/><stop offset=".73849" class="r1"/><stop offset=".74217" class="r2"/><stop offset=".74586" class="r4"/><stop offset=".74954" class="r4"/><stop offset=".75322" class="r1"/><stop offset=".75425" class="r0"/><stop offset=".75425" class="b0"/><stop offset=".75691" class="b3"/><stop offset=".76059" class="b4"/><stop offset=".76325" class="b0"/><stop offset=".76325" class="r0"/><stop offset=".76427" class="r1"/><stop offset=".76796" class="r8"/><stop offset=".77164" class="r8"/><stop offset=".77532" class="r1"/><stop offset=".77588" class="r0"/><stop offset=".77588" class="b0"/><stop offset=".77901" class="b7"/><stop offset=".78269" class="b7"/><stop offset=".78600" class="b0"/><stop offset=".78600" class="r0"/><stop offset=".78637" class="r1"/><stop offset=".79006" class="r10"/><stop offset=".79374" class="r10"/><stop offset=".79742" class="r2"/><stop offset=".79814" class="r0"/><stop offset=".79814" class="b0"/><stop offset=".80111" class="b8"/><stop offset=".80479" class="b9"/><stop offset=".80847" class="b0"/><stop offset=".80848" class="b0"/><stop offset=".80848" class="r0"/><stop offset=".81216" class="r10"/><stop offset=".81584" class="r11"/><stop offset=".81952" class="r2"/><stop offset=".82039" class="r0"/><stop offset=".82039" class="b0"/><stop offset=".82320" class="b8"/><stop offset=".82689" class="b9"/><stop offset=".83057" class="b1"/><stop offset=".83097" class="b0"/><stop offset=".83097" class="r0"/><stop offset=".83425" class="r9"/><stop offset=".83794" class="r11"/><stop offset=".84162" class="r3"/><stop offset=".84255" class="r0"/><stop offset=".84255" class="b0"/><stop offset=".84530" class="b8"/><stop offset=".84899" class="b10"/><stop offset=".85267" class="b2"/><stop offset=".85348" class="b0"/><stop offset=".85348" class="r0"/><stop offset=".85635" class="r8"/><stop offset=".86004" class="r10"/><stop offset=".86372" class="r3"/><stop offset=".86479" class="r0"/><stop offset=".86479" class="b0"/><stop offset=".86740" class="b7"/><stop offset=".87109" class="b9"/><stop offset=".87477" class="b2"/><stop offset=".87592" class="b0"/><stop offset=".87592" class="r0"/><stop offset=".87845" class="r5"/><stop offset=".88214" class="r7"/><stop offset=".88582" class="r2"/><stop offset=".88715" class="r0"/><stop offset=".88715" class="b0"/><stop offset=".88950" class="b4"/><stop offset=".89319" class="b5"/><stop offset=".89687" class="b1"/><stop offset=".89841" class="b0"/><stop offset=".89841" class="r0"/><stop offset=".90055" class="r2"/><stop offset=".90424" class="r3"/><stop offset=".90792" class="r1"/><stop offset=".90933" class="r0"/><stop offset=".90933" class="b0"/><stop offset=".91160" class="b1"/><stop offset=".91529" class="b2"/><stop offset=".91897" class="b1"/><stop offset=".92210" class="b0"/><stop offset=".92210" class="r0"/><stop offset=".92265" class="r0"/><stop offset=".92634" class="r0"/><stop offset=".92774" class="r0"/><stop offset=".92774" class="b0"/><stop offset=".93002" class="b0"/><stop offset="1.00000" class="b1"/></radialGradient><radialGradient id="L17" gradientUnits="userSpaceOnUse" cx="-539.9" cy="340.4" r="1043.4"><stop offset=".65378" class="r0"/><stop offset=".66483" class="r0"/><stop offset=".66851" class="r0"/><stop offset=".67219" class="r1"/><stop offset=".67588" class="r0"/><stop offset=".67956" class="r0"/><stop offset=".68324" class="r1"/><stop offset=".68693" class="r2"/><stop offset=".69061" class="r3"/><stop offset=".69429" class="r3"/><stop offset=".69797" class="r2"/><stop offset=".70166" class="r1"/><stop offset=".70534" class="r1"/><stop offset=".70902" class="r2"/><stop offset=".71271" class="r3"/><stop offset=".71639" class="r3"/><stop offset=".72007" class="r2"/><stop offset=".72376" class="r2"/><stop offset=".72744" class="r2"/><stop offset=".73112" class="r2"/><stop offset=".73481" class="r2"/><stop offset=".73849" class="r1"/><stop offset=".74217" class="r2"/><stop offset=".74586" class="r4"/><stop offset=".74954" class="r5"/><stop offset=".75322" class="r1"/><stop offset=".75417" class="r0"/><stop offset=".75417" class="b0"/><stop offset=".75691" class="b4"/><stop offset=".76059" class="b4"/><stop offset=".76332" class="b0"/><stop offset=".76332" class="r0"/><stop offset=".76427" class="r2"/><stop offset=".76796" class="r9"/><stop offset=".77164" class="r9"/><stop offset=".77532" class="r1"/><stop offset=".77583" class="r0"/><stop offset=".77583" class="b0"/><stop offset=".77901" class="b8"/><stop offset=".78269" class="b8"/><stop offset=".78605" class="b0"/><stop offset=".78605" class="r0"/><stop offset=".78637" class="r1"/><stop offset=".79006" class="r11"/><stop offset=".79374" class="r12"/><stop offset=".79742" class="r2"/><stop offset=".79809" class="r0"/><stop offset=".79809" class="b0"/><stop offset=".80111" class="b9"/><stop offset=".80479" class="b10"/><stop offset=".80847" class="b0"/><stop offset=".80852" class="b0"/><stop offset=".80852" class="r0"/><stop offset=".81216" class="r11"/><stop offset=".81584" class="r12"/><stop offset=".81952" class="r3"/><stop offset=".82035" class="r0"/><stop offset=".82035" class="b0"/><stop offset=".82320" class="b9"/><stop offset=".82689" class="b11"/><stop offset=".83057" class="b1"/><stop offset=".83099" class="b0"/><stop offset=".83099" class="r0"/><stop offset=".83425" class="r10"/><stop offset=".83794" class="r12"/><stop offset=".84162" class="r3"/><stop offset=".84254" class="r0"/><stop offset=".84254" class="b0"/><stop offset=".84530" class="b9"/><stop offset=".84899" class="b11"/><stop offset=".85267" class="b2"/><stop offset=".85349" class="b0"/><stop offset=".85349" class="r0"/><stop offset=".85635" class="r9"/><stop offset=".86004" class="r11"/><stop offset=".86372" class="r3"/><stop offset=".86478" class="r0"/><stop offset=".86478" class="b0"/><stop offset=".86740" class="b7"/><stop offset=".87109" class="b10"/><stop offset=".87477" class="b3"/><stop offset=".87592" class="b0"/><stop offset=".87592" class="r0"/><stop offset=".87845" class="r6"/><stop offset=".88214" class="r8"/><stop offset=".88582" class="r2"/><stop offset=".88715" class="r0"/><stop offset=".88715" class="b0"/><stop offset=".88950" class="b4"/><stop offset=".89319" class="b6"/><stop offset=".89687" class="b2"/><stop offset=".89840" class="b0"/><stop offset=".89840" class="r0"/><stop offset=".90055" class="r2"/><stop offset=".90424" class="r3"/><stop offset=".90792" class="r1"/><stop offset=".90937" class="r0"/><stop offset=".90937" class="b0"/><stop offset=".91160" class="b1"/><stop offset=".91529" class="b2"/><stop offset=".91897" class="b1"/><stop offset=".92183" class="b0"/><stop offset=".92183" class="r0"/><stop offset=".92265" class="r0"/><stop offset=".92634" class="r0"/><stop offset=".92838" class="r0"/><stop offset=".92838" class="b0"/><stop offset=".93002" class="b0"/><stop offset="1.00000" class="b1"/></radialGradient><radialGradient id="L18" gradientUnits="userSpaceOnUse" cx="-539.9" cy="340.4" r="1043.4"><stop offset=".65378" class="r0"/><stop offset=".66851" class="r0"/><stop offset=".67219" class="r1"/><stop offset=".67588" class="r0"/><stop offset=".67956" class="r0"/><stop offset=".68324" class="r1"/><stop offset=".68693" class="r2"/><stop offset=".69061" class="r2"/><stop offset=".69429" class="r2"/><stop offset=".69797" class="r2"/><stop offset=".70166" class="r1"/><stop offset=".70534" class="r1"/><stop offset=".70902" class="r2"/><stop offset=".71271" class="r3"/><stop offset=".71639" class="r3"/><stop offset=".72007" class="r2"/><stop offset=".72376" class="r2"/><stop offset=".72744" class="r2"/><stop offset=".73112" class="r2"/><stop offset=".73481" class="r2"/><stop offset=".73849" class="r1"/><stop offset=".74217" class="r2"/><stop offset=".74586" class="r4"/><stop offset=".74954" class="r5"/><stop offset=".75322" class="r1"/><stop offset=".75415" class="r0"/><stop offset=".75415" class="b0"/><stop offset=".75691" class="b4"/><stop offset=".76059" class="b5"/><stop offset=".76335" class="b0"/><stop offset=".76335" class="r0"/><stop offset=".76427" class="r2"/><stop offset=".76796" class="r9"/><stop offset=".77164" class="r10"/><stop offset=".77532" class="r1"/><stop offset=".77580" class="r0"/><stop offset=".77580" class="b0"/><stop offset=".77901" class="b8"/><stop offset=".78269" class="b9"/><stop offset=".78608" class="b0"/><stop offset=".78608" class="r0"/><stop offset=".78637" class="r1"/><stop offset=".79006" class="r12"/><stop offset=".79374" class="r12"/><stop offset=".79742" class="r2"/><stop offset=".79807" class="r0"/><stop offset=".79807" class="b0"/><stop offset=".80111" class="b9"/><stop offset=".80479" class="b11"/><stop offset=".80847" class="b0"/><stop offset=".80854" class="b0"/><stop offset=".80854" class="r0"/><stop offset=".81216" class="r12"/><stop offset=".81584" class="r13"/><stop offset=".81952" class="r3"/><stop offset=".82034" class="r0"/><stop offset=".82034" class="b0"/><stop offset=".82320" class="b9"/><stop offset=".82689" class="b11"/><stop offset=".83057" class="b1"/><stop offset=".83100" class="b0"/><stop offset=".83100" class="r0"/><stop offset=".83425" class="r11"/><stop offset=".83794" class="r13"/><stop offset=".84162" class="r3"/><stop offset=".84253" class="r0"/><stop offset=".84253" class="b0"/><stop offset=".84530" class="b9"/><stop offset=".84899" class="b12"/><stop offset=".85267" class="b3"/><stop offset=".85349" class="b0"/><stop offset=".85349" class="r0"/><stop offset=".85635" class="r9"/><stop offset=".86004" class="r12"/><stop offset=".86372" class="r3"/><stop offset=".86478" class="r0"/><stop offset=".86478" class="b0"/><stop offset=".86740" class="b8"/><stop offset=".87109" class="b11"/><stop offset=".87477" class="b3"/><stop offset=".87592" class="b0"/><stop offset=".87592" class="r0"/><stop offset=".87845" class="r7"/><stop offset=".88214" class="r9"/><stop offset=".88582" class="r3"/><stop offset=".88714" class="r0"/><stop offset=".88714" class="b0"/><stop offset=".88950" class="b5"/><stop offset=".89319" class="b6"/><stop offset=".89687" class="b2"/><stop offset=".89839" class="b0"/><stop offset=".89839" class="r0"/><stop offset=".90055" class="r3"/><stop offset=".90424" class="r4"/><stop offset=".90792" class="r1"/><stop offset=".90940" class="r0"/><stop offset=".90940" class="b0"/><stop offset=".91160" class="b2"/><stop offset=".91529" class="b2"/><stop offset=".91897" class="b1"/><stop offset=".92163" class="b0"/><stop offset=".92163" class="r0"/><stop offset=".92265" class="r0"/><stop offset=".92634" class="r0"/><stop offset=".92887" class="r0"/><stop offset=".92887" class="b0"/><stop offset=".93002" class="b0"/><stop offset="1.00000" class="b1"/></radialGradient><radialGradient id="L19" gradientUnits="userSpaceOnUse" cx="-539.9" cy="340.4" r="1043.4"><stop offset=".65378" class="r0"/><stop offset=".66851" class="r0"/><stop offset=".67219" class="r0"/><stop offset=".67588" class="r0"/><stop offset=".67956" class="r0"/><stop offset=".68324" class="r1"/><stop offset=".68693" class="r1"/><stop offset=".69061" class="r2"/><stop offset=".69429" class="r2"/><stop offset=".69797" class="r2"/><stop offset=".70166" class="r1"/><stop offset=".70534" class="r1"/><stop offset=".70902" class="r2"/><stop offset=".71271" class="r3"/><stop offset=".71639" class="r3"/><stop offset=".72007" class="r2"/><stop offset=".72376" class="r2"/><stop offset=".72744" class="r2"/><stop offset=".73112" class="r2"/><stop offset=".73481" class="r2"/><stop offset=".73849" class="r1"/><stop offset=".74217" class="r2"/><stop offset=".74586" class="r4"/><stop offset=".74954" class="r5"/><stop offset=".75322" class="r1"/><stop offset=".75418" class="r0"/><stop offset=".75418" class="b0"/><stop offset=".75691" class="b4"/><stop offset=".76059" class="b5"/><stop offset=".76334" class="b0"/><stop offset=".76334" class="r0"/><stop offset=".76427" class="r2"/><stop offset=".76796" class="r9"/><stop offset=".77164" class="r10"/><stop offset=".77532" class="r1"/><stop offset=".77578" class="r0"/><stop offset=".77578" class="b0"/><stop offset=".77901" class="b9"/><stop offset=".78269" class="b9"/><stop offset=".78610" class="b0"/><stop offset=".78610" class="r0"/><stop offset=".78637" class="r1"/><stop offset=".79006" class="r12"/><stop offset=".79374" class="r13"/><stop offset=".79742" class="r2"/><stop offset=".79805" class="r0"/><stop offset=".79805" class="b0"/><stop offset=".80111" class="b10"/><stop offset=".80479" class="b11"/><stop offset=".80847" class="b0"/><stop offset=".80855" class="b0"/><stop offset=".80855" class="r0"/><stop offset=".81216" class="r12"/><stop offset=".81584" class="r14"/><stop offset=".81952" class="r3"/><stop offset=".82033" class="r0"/><stop offset=".82033" class="b0"/><stop offset=".82320" class="b10"/><stop offset=".82689" class="b12"/><stop offset=".83057" class="b2"/><stop offset=".83101" class="b0"/><stop offset=".83101" class="r0"/><stop offset=".83425" class="r11"/><stop offset=".83794" class="r14"/><stop offset=".84162" class="r3"/><stop offset=".84253" class="r0"/><stop offset=".84253" class="b0"/><stop offset=".84530" class="b10"/><stop offset=".84899" class="b13"/><stop offset=".85267" class="b3"/><stop offset=".85349" class="b0"/><stop offset=".85349" class="r0"/><stop offset=".85635" class="r10"/><stop offset=".86004" class="r13"/><stop offset=".86372" class="r3"/><stop offset=".86478" class="r0"/><stop offset=".86478" class="b0"/><stop offset=".86740" class="b8"/><stop offset=".87109" class="b11"/><stop offset=".87477" class="b3"/><stop offset=".87591" class="b0"/><stop offset=".87591" class="r0"/><stop offset=".87845" class="r7"/><stop offset=".88214" class="r10"/><stop offset=".88582" class="r3"/><stop offset=".88714" class="r0"/><stop offset=".88714" class="b0"/><stop offset=".88950" class="b5"/><stop offset=".89319" class="b7"/><stop offset=".89687" class="b2"/><stop offset=".89838" class="b0"/><stop offset=".89838" class="r0"/><stop offset=".90055" class="r3"/><stop offset=".90424" class="r4"/><stop offset=".90792" class="r1"/><stop offset=".90943" class="r0"/><stop offset=".90943" class="b0"/><stop offset=".91160" class="b2"/><stop offset=".91529" class="b2"/><stop offset=".91897" class="b1"/><stop offset=".92148" class="b0"/><stop offset=".92148" class="r0"/><stop offset=".92265" class="r0"/><stop offset=".92634" class="r1"/><stop offset=".92928" class="r0"/><stop offset=".92928" class="b0"/><stop offset=".93002" class="b0"/><stop offset="1.00000" class="b1"/></radialGradient><radialGradient id="L20" gradientUnits="userSpaceOnUse" cx="-539.9" cy="340.4" r="1043.4"><stop offset=".65378" class="r0"/><stop offset=".67956" class="r0"/><stop offset=".68324" class="r0"/><stop offset=".68693" class="r1"/><stop offset=".69061" class="r2"/><stop offset=".69429" class="r2"/><stop offset=".69797" class="r1"/><stop offset=".70166" class="r1"/><stop offset=".70534" class="r1"/><stop offset=".70902" class="r2"/><stop offset=".71271" class="r3"/><stop offset=".71639" class="r3"/><stop offset=".72007" class="r2"/><stop offset=".72376" class="r2"/><stop offset=".72744" class="r2"/><stop offset=".73112" class="r2"/><stop offset=".73481" class="r2"/><stop offset=".73849" class="r2"/><stop offset=".74217" class="r2"/><stop offset=".74586" class="r4"/><stop offset=".74954" class="r5"/><stop offset=".75322" class="r1"/><stop offset=".75436" class="r0"/><stop offset=".75436" class="b0"/><stop offset=".75691" class="b3"/><stop offset=".76059" class="b4"/><stop offset=".76327" class="b0"/><stop offset=".76327" class="r0"/><stop offset=".76427" class="r2"/><stop offset=".76796" class="r9"/><stop offset=".77164" class="r10"/><stop offset=".77532" class="r1"/><stop offset=".77578" class="r0"/><stop offset=".77578" class="b0"/><stop offset=".77901" class="b9"/><stop offset=".78269" class="b9"/><stop offset=".78610" class="b0"/><stop offset=".78610" class="r0"/><stop offset=".78637" class="r1"/><stop offset=".79006" class="r12"/><stop offset=".79374" class="r13"/><stop offset=".79742" class="r2"/><stop offset=".79804" class="r0"/><stop offset=".79804" class="b0"/><stop offset=".80111" class="b10"/><stop offset=".80479" class="b12"/><stop offset=".80847" class="b0"/><stop offset=".80856" class="b0"/><stop offset=".80856" class="r0"/><stop offset=".81216" class="r13"/><stop offset=".81584" class="r14"/><stop offset=".81952" class="r3"/><stop offset=".82033" class="r0"/><stop offset=".82033" class="b0"/><stop offset=".82320" class="b10"/><stop offset=".82689" class="b13"/><stop offset=".83057" class="b2"/><stop offset=".83100" class="b0"/><stop offset=".83100" class="r0"/><stop offset=".83425" class="r12"/><stop offset=".83794" class="r14"/><stop offset=".84162" class="r3"/><stop offset=".84254" class="r0"/><stop offset=".84254" class="b0"/><stop offset=".84530" class="b10"/><stop offset=".84899" class="b13"/><stop offset=".85267" class="b3"/><stop offset=".85348" class="b0"/><stop offset=".85348" class="r0"/><stop offset=".85635" class="r10"/><stop offset=".86004" class="r13"/><stop offset=".86372" class="r4"/><stop offset=".86478" class="r0"/><stop offset=".86478" class="b0"/><stop offset=".86740" class="b9"/><stop offset=".87109" class="b12"/><stop offset=".87477" class="b3"/><stop offset=".87590" class="b0"/><stop offset=".87590" class="r0"/><stop offset=".87845" class="r8"/><stop offset=".88214" class="r11"/><stop offset=".88582" class="r3"/><stop offset=".88713" class="r0"/><stop offset=".88713" class="b0"/><stop offset=".88950" class="b6"/><stop offset=".89319" class="b8"/><stop offset=".89687" class="b2"/><stop offset=".89836" class="b0"/><stop offset=".89836" class="r0"/><stop offset=".90055" class="r4"/><stop offset=".90424" class="r5"/><stop offset=".90792" class="r1"/><stop offset=".90946" class="r0"/><stop offset=".90946" class="b0"/><stop offset=".91160" class="b2"/><stop offset=".91529" class="b3"/><stop offset=".91897" class="b1"/><stop offset=".92125" class="b0"/><stop offset=".92125" class="r0"/><stop offset=".92265" class="r1"/><stop offset=".92634" class="r1"/><stop offset=".92995" class="r0"/><stop offset=".92995" class="b0"/><stop offset=".93002" class="b0"/><stop offset=".93370" class="b1"/><stop offset=".93739" class="b1"/><stop offset=".94107" class="b1"/><stop offset="1.00000" class="b1"/></radialGradient><radialGradient id="L21" gradientUnits="userSpaceOnUse" cx="-539.9" cy="340.4" r="1043.4"><stop offset=".65378" class="r0"/><stop offset=".68324" class="r0"/><stop offset=".68693" class="r1"/><stop offset=".69061" class="r2"/><stop offset=".69429" class="r2"/><stop offset=".69797" class="r1"/><stop offset=".70166" class="r1"/><stop offset=".70534" class="r1"/><stop offset=".70902" class="r2"/><stop offset=".71271" class="r3"/><stop offset=".71639" class="r3"/><stop offset=".72007" class="r2"/><stop offset=".72376" class="r2"/><stop offset=".72744" class="r2"/><stop offset=".73112" class="r2"/><stop offset=".73481" class="r2"/><stop offset=".73849" class="r2"/><stop offset=".74217" class="r2"/><stop offset=".74586" class="r3"/><stop offset=".74954" class="r4"/><stop offset=".75322" class="r2"/><stop offset=".75493" class="r0"/><stop offset=".75493" class="b0"/><stop offset=".75691" class="b2"/><stop offset=".76059" class="b3"/><stop offset=".76297" class="b0"/><stop offset=".76297" class="r0"/><stop offset=".76427" class="r2"/><stop offset=".76796" class="r8"/><stop offset=".77164" class="r9"/><stop offset=".77532" class="r1"/><stop offset=".77582" class="r0"/><stop offset=".77582" class="b0"/><stop offset=".77901" class="b8"/><stop offset=".78269" class="b9"/><stop offset=".78609" class="b0"/><stop offset=".78609" class="r0"/><stop offset=".78637" class="r1"/><stop offset=".79006" class="r12"/><stop offset=".79374" class="r13"/><stop offset=".79742" class="r2"/><stop offset=".79804" class="r0"/><stop offset=".79804" class="b0"/><stop offset=".80111" class="b10"/><stop offset=".80479" class="b12"/><stop offset=".80847" class="b0"/><stop offset=".80856" class="b0"/><stop offset=".80856" class="r0"/><stop offset=".81216" class="r13"/><stop offset=".81584" class="r14"/><stop offset=".81952" class="r3"/><stop offset=".82033" class="r0"/><stop offset=".82033" class="b0"/><stop offset=".82320" class="b11"/><stop offset=".82689" class="b13"/><stop offset=".83057" class="b2"/><stop offset=".83099" class="b0"/><stop offset=".83099" class="r0"/><stop offset=".83425" class="r12"/><stop offset=".83794" class="r15"/><stop offset=".84162" class="r4"/><stop offset=".84256" class="r0"/><stop offset=".84256" class="b0"/><stop offset=".84530" class="b10"/><stop offset=".84899" class="b13"/><stop offset=".85267" class="b3"/><stop offset=".85346" class="b0"/><stop offset=".85346" class="r0"/><stop offset=".85635" class="r11"/><stop offset=".86004" class="r14"/><stop offset=".86372" class="r4"/><stop offset=".86479" class="r0"/><stop offset=".86479" class="b0"/><stop offset=".86740" class="b9"/><stop offset=".87109" class="b13"/><stop offset=".87477" class="b4"/><stop offset=".87589" class="b0"/><stop offset=".87589" class="r0"/><stop offset=".87845" class="r8"/><stop offset=".88214" class="r12"/><stop offset=".88582" class="r4"/><stop offset=".88712" class="r0"/><stop offset=".88712" class="b0"/><stop offset=".88950" class="b7"/><stop offset=".89319" class="b9"/><stop offset=".89687" class="b3"/><stop offset=".89833" class="b0"/><stop offset=".89833" class="r0"/><stop offset=".90055" class="r4"/><stop offset=".90424" class="r6"/><stop offset=".90792" class="r2"/><stop offset=".90949" class="r0"/><stop offset=".90949" class="b0"/><stop offset=".91160" class="b2"/><stop offset=".91529" class="b3"/><stop offset=".91897" class="b1"/><stop offset=".92100" class="b0"/><stop offset=".92100" class="r0"/><stop offset=".92265" class="r1"/><stop offset=".92634" class="r1"/><stop offset=".93002" class="r0"/><stop offset=".93077" class="r0"/><stop offset=".93077" class="b0"/><stop offset=".93370" class="b1"/><stop offset=".93739" class="b1"/><stop offset=".94107" class="b1"/><stop offset="1.00000" class="b1"/></radialGradient><radialGradient id="L22" gradientUnits="userSpaceOnUse" cx="-539.9" cy="340.4" r="1043.4"><stop offset=".65378" class="r0"/><stop offset=".68324" class="r0"/><stop offset=".68693" class="r1"/><stop offset=".69061" class="r1"/><stop offset=".69429" class="r1"/><stop offset=".69797" class="r1"/><stop offset=".70166" class="r0"/><stop offset=".70534" class="r1"/><stop offset=".70902" class="r2"/><stop offset=".71271" class="r3"/><stop offset=".71639" class="r3"/><stop offset=".72007" class="r2"/><stop offset=".72376" class="r1"/><stop offset=".72744" class="r2"/><stop offset=".73112" class="r2"/><stop offset=".73481" class="r3"/><stop offset=".73849" class="r3"/><stop offset=".74217" class="r2"/><stop offset=".74586" class="r3"/><stop offset=".74954" class="r3"/><stop offset=".75322" class="r2"/><stop offset=".75631" class="r0"/><stop offset=".75631" class="b0"/><stop offset=".75691" class="b0"/><stop offset=".76059" class="b1"/><stop offset=".76216" class="b0"/><stop offset=".76216" class="r0"/><stop offset=".76427" class="r2"/><stop offset=".76796" class="r7"/><stop offset=".77164" class="r8"/><stop offset=".77532" class="r1"/><stop offset=".77591" class="r0"/><stop offset=".77591" class="b0"/><stop offset=".77901" class="b7"/><stop offset=".78269" class="b8"/><stop offset=".78603" class="b0"/><stop offset=".78603" class="r0"/><stop offset=".78637" class="r1"/><stop offset=".79006" class="r11"/><stop offset=".79374" class="r13"/><stop offset=".79742" class="r2"/><stop offset=".79805" class="r0"/><stop offset=".79805" class="b0"/><stop offset=".80111" class="b10"/><stop offset=".80479" class="b11"/><stop offset=".80847" class="b0"/><stop offset=".80855" class="b0"/><stop offset=".80855" class="r0"/><stop offset=".81216" class="r13"/><stop offset=".81584" class="r14"/><stop offset=".81952" class="r3"/><stop offset=".82035" class="r0"/><stop offset=".82035" class="b0"/><stop offset=".82320" class="b10"/><stop offset=".82689" class="b13"/><stop offset=".83057" class="b1"/><stop offset=".83096" class="b0"/><stop offset=".83096" class="r0"/><stop offset=".83425" class="r12"/><stop offset=".83794" class="r15"/><stop offset=".84162" class="r4"/><stop offset=".84259" class="r0"/><stop offset=".84259" class="b0"/><stop offset=".84530" class="b10"/><stop offset=".84899" class="b13"/><stop offset=".85267" class="b3"/><stop offset=".85343" class="b0"/><stop offset=".85343" class="r0"/><stop offset=".85635" class="r11"/><stop offset=".86004" class="r14"/><stop offset=".86372" class="r4"/><stop offset=".86480" class="r0"/><stop offset=".86480" class="b0"/><stop offset=".86740" class="b10"/><stop offset=".87109" class="b13"/><stop offset=".87477" class="b4"/><stop offset=".87587" class="b0"/><stop offset=".87587" class="r0"/><stop offset=".87845" class="r9"/><stop offset=".88214" class="r13"/><stop offset=".88582" class="r4"/><stop offset=".88711" class="r0"/><stop offset=".88711" class="b0"/><stop offset=".88950" class="b7"/><stop offset=".89319" class="b10"/><stop offset=".89687" class="b3"/><stop offset=".89829" class="b0"/><stop offset=".89829" class="r0"/><stop offset=".90055" class="r5"/><stop offset=".90424" class="r7"/><stop offset=".90792" class="r2"/><stop offset=".90949" class="r0"/><stop offset=".90949" class="b0"/><stop offset=".91160" class="b3"/><stop offset=".91529" class="b5"/><stop offset=".91897" class="b2"/><stop offset=".92084" class="b0"/><stop offset=".92084" class="r0"/><stop offset=".92265" class="r2"/><stop offset=".92634" class="r2"/><stop offset=".93002" class="r1"/><stop offset=".93135" class="r0"/><stop offset=".93135" class="b0"/><stop offset=".93370" class="b1"/><stop offset=".93739" class="b1"/><stop offset=".94107" class="b1"/><stop offset=".94475" class="b0"/><stop offset=".94843" class="b0"/><stop offset=".95212" class="b1"/><stop offset="1.00000" class="b1"/></radialGradient><radialGradient id="L23" gradientUnits="userSpaceOnUse" cx="-539.9" cy="340.4" r="1043.4"><stop offset=".65378" class="r0"/><stop offset=".68693" class="r0"/><stop offset=".69061" class="r1"/><stop offset=".69429" class="r1"/><stop offset=".69797" class="r1"/><stop offset=".70166" class="r0"/><stop offset=".70534" class="r1"/><stop offset=".70902" class="r2"/><stop offset=".71271" class="r3"/><stop offset=".71639" class="r3"/><stop offset=".72007" class="r2"/><stop offset=".72376" class="r1"/><stop offset=".72744" class="r1"/><stop offset=".73112" class="r2"/><stop offset=".73481" class="r3"/><stop offset=".73849" class="r3"/><stop offset=".74217" class="r2"/><stop offset=".74586" class="r2"/><stop offset=".74954" class="r2"/><stop offset=".75322" class="r2"/><stop offset=".75691" class="r1"/><stop offset=".76059" class="r0"/><stop offset=".76427" class="r2"/><stop offset=".76796" class="r5"/><stop offset=".77164" class="r6"/><stop offset=".77532" class="r1"/><stop offset=".77614" class="r0"/><stop offset=".77614" class="b0"/><stop offset=".77901" class="b5"/><stop offset=".78269" class="b6"/><stop offset=".78591" class="b0"/><stop offset=".78591" class="r0"/><stop offset=".78637" class="r1"/><stop offset=".79006" class="r10"/><stop offset=".79374" class="r12"/><stop offset=".79742" class="r2"/><stop offset=".79807" class="r0"/><stop offset=".79807" class="b0"/><stop offset=".80111" class="b9"/><stop offset=".80479" class="b11"/><stop offset=".80847" class="b0"/><stop offset=".80853" class="b0"/><stop offset=".80853" class="r0"/><stop offset=".81216" class="r12"/><stop offset=".81584" class="r14"/><stop offset=".81952" class="r3"/><stop offset=".82036" class="r0"/><stop offset=".82036" class="b0"/><stop offset=".82320" class="b10"/><stop offset=".82689" class="b13"/><stop offset=".83057" class="b1"/><stop offset=".83094" class="b0"/><stop offset=".83094" class="r0"/><stop offset=".83425" class="r12"/><stop offset=".83794" class="r15"/><stop offset=".84162" class="r4"/><stop offset=".84262" class="r0"/><stop offset=".84262" class="b0"/><stop offset=".84530" class="b10"/><stop offset=".84899" class="b13"/><stop offset=".85267" class="b3"/><stop offset=".85339" class="b0"/><stop offset=".85339" class="r0"/><stop offset=".85635" class="r11"/><stop offset=".86004" class="r15"/><stop offset=".86372" class="r4"/><stop offset=".86483" class="r0"/><stop offset=".86483" class="b0"/><stop offset=".86740" class="b10"/><stop offset=".87109" class="b14"/><stop offset=".87477" class="b4"/><stop offset=".87584" class="b0"/><stop offset=".87584" class="r0"/><stop offset=".87845" class="r10"/><stop offset=".88214" class="r13"/><stop offset=".88582" class="r4"/><stop offset=".88710" class="r0"/><stop offset=".88710" class="b0"/><stop offset=".88950" class="b8"/><stop offset=".89319" class="b12"/><stop offset=".89687" class="b4"/><stop offset=".89825" class="b0"/><stop offset=".89825" class="r0"/><stop offset=".90055" class="r7"/><stop offset=".90424" class="r9"/><stop offset=".90792" class="r3"/><stop offset=".90947" class="r0"/><stop offset=".90947" class="b0"/><stop offset=".91160" class="b4"/><stop offset=".91529" class="b6"/><stop offset=".91897" class="b2"/><stop offset=".92073" class="b0"/><stop offset=".92073" class="r0"/><stop offset=".92265" class="r2"/><stop offset=".92634" class="r3"/><stop offset=".93002" class="r1"/><stop offset=".93167" class="r0"/><stop offset=".93167" class="b0"/><stop offset=".93370" class="b1"/><stop offset=".93739" class="b2"/><stop offset=".94107" class="b1"/><stop offset=".94425" class="b0"/><stop offset=".94425" class="r0"/><stop offset=".94475" class="r0"/><stop offset=".94843" class="r0"/><stop offset=".95037" class="r0"/><stop offset=".95037" class="b0"/><stop offset=".95212" class="b0"/><stop offset="1.00000" class="b1"/></radialGradient><radialGradient id="L24" gradientUnits="userSpaceOnUse" cx="-539.9" cy="340.4" r="1043.4"><stop offset=".65378" class="r0"/><stop offset=".70534" class="r0"/><stop offset=".70902" class="r1"/><stop offset=".71271" class="r2"/><stop offset=".71639" class="r2"/><stop offset=".72007" class="r1"/><stop offset=".72376" class="r1"/><stop offset=".72744" class="r1"/><stop offset=".73112" class="r2"/><stop offset=".73481" class="r3"/><stop offset=".73849" class="r3"/><stop offset=".74217" class="r2"/><stop offset=".74586" class="r2"/><stop offset=".74954" class="r2"/><stop offset=".75322" class="r2"/><stop offset=".75691" class="r2"/><stop offset=".76059" class="r2"/><stop offset=".76427" class="r2"/><stop offset=".76796" class="r4"/><stop offset=".77164" class="r4"/><stop offset=".77532" class="r2"/><stop offset=".77685" class="r0"/><stop offset=".77685" class="b0"/><stop offset=".77901" class="b3"/><stop offset=".78269" class="b4"/><stop offset=".78555" class="b0"/><stop offset=".78555" class="r0"/><stop offset=".78637" class="r1"/><stop offset=".79006" class="r8"/><stop offset=".79374" class="r10"/><stop offset=".79742" class="r2"/><stop offset=".79812" class="r0"/><stop offset=".79812" class="b0"/><stop offset=".80111" class="b8"/><stop offset=".80479" class="b10"/><stop offset=".80847" class="b0"/><stop offset=".80850" class="b0"/><stop offset=".80850" class="r0"/><stop offset=".81216" class="r12"/><stop offset=".81584" class="r14"/><stop offset=".81952" class="r3"/><stop offset=".82037" class="r0"/><stop offset=".82037" class="b0"/><stop offset=".82320" class="b10"/><stop offset=".82689" class="b12"/><stop offset=".83057" class="b1"/><stop offset=".83092" class="b0"/><stop offset=".83092" class="r0"/><stop offset=".83425" class="r12"/><stop offset=".83794" class="r15"/><stop offset=".84162" class="r4"/><stop offset=".84266" class="r0"/><stop offset=".84266" class="b0"/><stop offset=".84530" class="b10"/><stop offset=".84899" class="b13"/><stop offset=".85267" class="b3"/><stop offset=".85334" class="b0"/><stop offset=".85334" class="r0"/><stop offset=".85635" class="r11"/><stop offset=".86004" class="r15"/><stop offset=".86372" class="r4"/><stop offset=".86487" class="r0"/><stop offset=".86487" class="b0"/><stop offset=".86740" class="b10"/><stop offset=".87109" class="b14"/><stop offset=".87477" class="b4"/><stop offset=".87580" class="b0"/><stop offset=".87580" class="r0"/><stop offset=".87845" class="r10"/><stop offset=".88214" class="r14"/><stop offset=".88582" class="r5"/><stop offset=".88710" class="r0"/><stop offset=".88710" class="b0"/><stop offset=".88950" class="b9"/><stop offset=".89319" class="b13"/><stop offset=".89687" class="b4"/><stop offset=".89822" class="b0"/><stop offset=".89822" class="r0"/><stop offset=".90055" class="r8"/><stop offset=".90424" class="r11"/><stop offset=".90792" class="r4"/><stop offset=".90945" class="r0"/><stop offset=".90945" class="b0"/><stop offset=".91160" class="b6"/><stop offset=".91529" class="b9"/><stop offset=".91897" class="b3"/><stop offset=".92066" class="b0"/><stop offset=".92066" class="r0"/><stop offset=".92265" class="r4"/><stop offset=".92634" class="r5"/><stop offset=".93002" class="r2"/><stop offset=".93180" class="r0"/><stop offset=".93180" class="b0"/><stop offset=".93370" class="b2"/><stop offset=".93739" class="b3"/><stop offset=".94107" class="b1"/><stop offset=".94341" class="b0"/><stop offset=".94341" class="r0"/><stop offset=".94475" class="r1"/><stop offset=".94843" class="r1"/><stop offset=".95212" class="r0"/><stop offset=".95274" class="r0"/><stop offset=".95274" class="b0"/><stop offset=".95580" class="b1"/><stop offset=".95948" class="b1"/><stop offset=".96317" class="b1"/><stop offset="1.00000" class="b1"/></radialGradient><radialGradient id="R0" gradientUnits="userSpaceOnUse" cx="17.8" cy="340.4" r="1043.4"><stop offset=".65378" class="b1"/><stop offset=".74586" class="b1"/><stop offset=".74954" class="b0"/><stop offset=".75322" class="b1"/><stop offset=".75691" class="b2"/><stop offset=".76059" class="b3"/><stop offset=".76427" class="b2"/><stop offset=".76690" class="b0"/><stop offset=".76690" class="r0"/><stop offset=".76796" class="r1"/><stop offset=".77164" class="r2"/><stop offset=".77532" class="r0"/><stop offset=".77568" class="r0"/><stop offset=".77568" class="b0"/><stop offset=".77901" class="b4"/><stop offset=".78269" class="b7"/><stop offset=".78637" class="b4"/><stop offset=".78821" class="b0"/><stop offset=".78821" class="r0"/><stop offset=".79006" class="r4"/><stop offset=".79374" class="r8"/><stop offset=".79742" class="r3"/><stop offset=".79854" class="r0"/><stop offset=".79854" class="b0"/><stop offset=".80111" class="b7"/><stop offset=".80479" class="b12"/><stop offset=".80847" class="b6"/><stop offset=".81042" class="b0"/><stop offset=".81042" class="r0"/><stop offset=".81216" class="r6"/><stop offset=".81584" class="r11"/><stop offset=".81952" class="r5"/><stop offset=".82099" class="r0"/><stop offset=".82099" class="b0"/><stop offset=".82320" class="b8"/><stop offset=".82689" class="b14"/><stop offset=".83057" class="b8"/><stop offset=".83272" class="b0"/><stop offset=".83272" class="r0"/><stop offset=".83425" class="r5"/><stop offset=".83794" class="r12"/><stop offset=".84162" class="r6"/><stop offset=".84332" class="r0"/><stop offset=".84332" class="b0"/><stop offset=".84530" class="b7"/><stop offset=".84899" class="b14"/><stop offset=".85267" class="b9"/><stop offset=".85503" class="b0"/><stop offset=".85503" class="r0"/><stop offset=".85635" class="r5"/><stop offset=".86004" class="r12"/><stop offset=".86372" class="r7"/><stop offset=".86564" class="r0"/><stop offset=".86564" class="b0"/><stop offset=".86740" class="b6"/><stop offset=".87109" class="b14"/><stop offset=".87477" class="b9"/><stop offset=".87735" class="b0"/><stop offset=".87735" class="r0"/><stop offset=".87845" class="r4"/><stop offset=".88214" class="r12"/><stop offset=".88582" class="r8"/><stop offset=".88795" class="r0"/><stop offset=".88795" class="b0"/><stop offset=".88950" class="b5"/><stop offset=".89319" class="b14"/><stop offset=".89687" class="b10"/><stop offset=".89969" class="b0"/><stop offset=".89969" class="r0"/><stop offset=".90055" class="r3"/><stop offset=".90424" class="r11"/><stop offset=".90792" class="r7"/><stop offset=".91026" class="r0"/><stop offset=".91026" class="b0"/><stop offset=".91160" class="b4"/><stop offset=".91529" class="b12"/><stop offset=".91897" class="b9"/><stop offset=".92212" class="b0"/><stop offset=".92212" class="r0"/><stop offset=".92265" class="r1"/><stop offset=".92634" class="r8"/><stop offset=".93002" class="r5"/><stop offset=".93247" class="r0"/><stop offset=".93247" class="b0"/><stop offset=".93370" class="b3"/><stop offset=".93739" class="b7"/><stop offset=".94107" class="b5"/><stop offset=".94475" class="b0"/><stop offset=".94502" class="b0"/><stop offset=".94502" class="r0"/><stop offset=".94843" class="r2"/><stop offset=".95212" class="r1"/><stop offset=".95390" class="r0"/><stop offset=".95390" class="b0"/><stop offset=".95580" class="b1"/><stop offset=".95948" class="b3"/><stop offset=".96317" class="b2"/><stop offset=".96685" class="b1"/><stop offset=".97053" class="b0"/><stop offset=".97422" class="b0"/><stop offset=".97790" class="b1"/><stop offset="1.00000" class="b1"/></radialGradient><radialGradient id="R1" gradientUnits="userSpaceOnUse" cx="17.8" cy="340.4" r="1043.4"><stop offset=".65378" class="b1"/><stop offset=".73481" class="b1"/><stop offset=".73849" class="b2"/><stop offset=".74217" class="b1"/><stop offset=".74586" class="b0"/><stop offset=".74752" class="b0"/><stop offset=".74752" class="r0"/><stop offset=".74954" class="r0"/><stop offset=".75106" class="r0"/><stop offset=".75106" class="b0"/><stop offset=".75322" class="b0"/><stop offset=".75691" class="b3"/><stop offset=".76059" class="b4"/><stop offset=".76427" class="b2"/><stop offset=".76624" class="b0"/><stop offset=".76624" class="r0"/><stop offset=".76796" class="r2"/><stop offset=".77164" class="r4"/><stop offset=".77532" class="r1"/><stop offset=".77602" class="r0"/><stop offset=".77602" class="b0"/><stop offset=".77901" class="b6"/><stop offset=".78269" class="b10"/><stop offset=".78637" class="b5"/><stop offset=".78812" class="b0"/><stop offset=".78812" class="r0"/><stop offset=".79006" class="r5"/><stop offset=".79374" class="r10"/><stop offset=".79742" class="r4"/><stop offset=".79864" class="r0"/><stop offset=".79864" class="b0"/><stop offset=".80111" class="b8"/><stop offset=".80479" class="b14"/><stop offset=".80847" class="b7"/><stop offset=".81039" class="b0"/><stop offset=".81039" class="r0"/><stop offset=".81216" class="r6"/><stop offset=".81584" class="r13"/><stop offset=".81952" class="r6"/><stop offset=".82102" class="r0"/><stop offset=".82102" class="b0"/><stop offset=".82320" class="b8"/><stop offset=".82689" class="b15"/><stop offset=".83057" class="b8"/><stop offset=".83270" class="b0"/><stop offset=".83270" class="r0"/><stop offset=".83425" class="r6"/><stop offset=".83794" class="r14"/><stop offset=".84162" class="r7"/><stop offset=".84335" class="r0"/><stop offset=".84335" class="b0"/><stop offset=".84530" class="b8"/><stop offset=".84899" class="b16"/><stop offset=".85267" class="b9"/><stop offset=".85501" class="b0"/><stop offset=".85501" class="r0"/><stop offset=".85635" class="r5"/><stop offset=".86004" class="r13"/><stop offset=".86372" class="r8"/><stop offset=".86566" class="r0"/><stop offset=".86566" class="b0"/><stop offset=".86740" class="b7"/><stop offset=".87109" class="b15"/><stop offset=".87477" class="b10"/><stop offset=".87734" class="b0"/><stop offset=".87734" class="r0"/><stop offset=".87845" class="r4"/><stop offset=".88214" class="r13"/><stop offset=".88582" class="r8"/><stop offset=".88797" class="r0"/><stop offset=".88797" class="b0"/><stop offset=".88950" class="b6"/><stop offset=".89319" class="b15"/><stop offset=".89687" class="b10"/><stop offset=".89969" class="b0"/><stop offset=".89969" class="r0"/><stop offset=".90055" class="r3"/><stop offset=".90424" class="r11"/><stop offset=".90792" class="r7"/><stop offset=".91027" class="r0"/><stop offset=".91027" class="b0"/><stop offset=".91160" class="b4"/><stop offset=".91529" class="b11"/><stop offset=".91897" class="b8"/><stop offset=".92219" class="b0"/><stop offset=".92219" class="r0"/><stop offset=".92265" class="r1"/><stop offset=".92634" class="r6"/><stop offset=".93002" class="r4"/><stop offset=".93237" class="r0"/><stop offset=".93237" class="b0"/><stop offset=".93370" class="b2"/><stop offset=".93739" class="b5"/><stop offset=".94107" class="b4"/><stop offset=".94475" class="b0"/><stop offset=".94576" class="b0"/><stop offset=".94576" class="r0"/><stop offset=".94843" class="r1"/><stop offset=".95212" class="r0"/><stop offset=".95308" class="r0"/><stop offset=".95308" class="b0"/><stop offset=".95580" class="b1"/><stop offset=".95948" class="b2"/><stop offset=".96317" class="b2"/><stop offset=".96685" class="b1"/><stop offset=".97053" class="b1"/><stop offset=".97422" class="b1"/><stop offset="1.00000" class="b1"/></radialGradient><radialGradient id="R2" gradientUnits="userSpaceOnUse" cx="17.8" cy="340.4" r="1043.4"><stop offset=".65378" class="b1"/><stop offset=".72376" class="b1"/><stop offset=".72744" class="b1"/><stop offset=".73112" class="b1"/><stop offset=".73481" class="b2"/><stop offset=".73849" class="b2"/><stop offset=".74217" class="b1"/><stop offset=".74524" class="b0"/><stop offset=".74524" class="r0"/><stop offset=".74586" class="r0"/><stop offset=".74954" class="r1"/><stop offset=".75296" class="r0"/><stop offset=".75296" class="b0"/><stop offset=".75322" class="b0"/><stop offset=".75691" class="b4"/><stop offset=".76059" class="b6"/><stop offset=".76427" class="b3"/><stop offset=".76595" class="b0"/><stop offset=".76595" class="r0"/><stop offset=".76796" class="r3"/><stop offset=".77164" class="r7"/><stop offset=".77532" class="r2"/><stop offset=".77619" class="r0"/><stop offset=".77619" class="b0"/><stop offset=".77901" class="b7"/><stop offset=".78269" class="b12"/><stop offset=".78637" class="b6"/><stop offset=".78807" class="b0"/><stop offset=".78807" class="r0"/><stop offset=".79006" class="r7"/><stop offset=".79374" class="r13"/><stop offset=".79742" class="r5"/><stop offset=".79870" class="r0"/><stop offset=".79870" class="b0"/><stop offset=".80111" class="b9"/><stop offset=".80479" class="b16"/><stop offset=".80847" class="b8"/><stop offset=".81037" class="b0"/><stop offset=".81037" class="r0"/><stop offset=".81216" class="r7"/><stop offset=".81584" class="r15"/><stop offset=".81952" class="r6"/><stop offset=".82105" class="r0"/><stop offset=".82105" class="b0"/><stop offset=".82320" class="b9"/><stop offset=".82689" class="b17"/><stop offset=".83057" class="b9"/><stop offset=".83268" class="b0"/><stop offset=".83268" class="r0"/><stop offset=".83425" class="r7"/><stop offset=".83794" class="r15"/><stop offset=".84162" class="r8"/><stop offset=".84337" class="r0"/><stop offset=".84337" class="b0"/><stop offset=".84530" class="b8"/><stop offset=".84899" class="b17"/><stop offset=".85267" class="b10"/><stop offset=".85499" class="b0"/><stop offset=".85499" class="r0"/><stop offset=".85635" class="r6"/><stop offset=".86004" class="r15"/><stop offset=".86372" class="r8"/><stop offset=".86568" class="r0"/><stop offset=".86568" class="b0"/><stop offset=".86740" class="b7"/><stop offset=".87109" class="b17"/><stop offset=".87477" class="b11"/><stop offset=".87732" class="b0"/><stop offset=".87732" class="r0"/><stop offset=".87845" class="r5"/><stop offset=".88214" class="r14"/><stop offset=".88582" class="r9"/><stop offset=".88799" class="r0"/><stop offset=".88799" class="b0"/><stop offset=".88950" class="b6"/><stop offset=".89319" class="b15"/><stop offset=".89687" class="b10"/><stop offset=".89969" class="b0"/><stop offset=".89969" class="r0"/><stop offset=".90055" class="r3"/><stop offset=".90424" class="r11"/><stop offset=".90792" class="r7"/><stop offset=".91028" class="r0"/><stop offset=".91028" class="b0"/><stop offset=".91160" class="b4"/><stop offset=".91529" class="b11"/><stop offset=".91897" class="b7"/><stop offset=".92226" class="b0"/><stop offset=".92226" class="r0"/><stop offset=".92265" class="r1"/><stop offset=".92634" class="r5"/><stop offset=".93002" class="r3"/><stop offset=".93223" class="r0"/><stop offset=".93223" class="b0"/><stop offset=".93370" class="b2"/><stop offset=".93739" class="b4"/><stop offset=".94107" class="b3"/><stop offset=".94475" class="b1"/><stop offset=".94669" class="b0"/><stop offset=".94669" class="r0"/><stop offset=".94843" class="r1"/><stop offset=".95201" class="r0"/><stop offset=".95201" class="b0"/><stop offset=".95212" class="b0"/><stop offset=".95580" class="b1"/><stop offset=".95948" class="b2"/><stop offset=".96317" class="b1"/><stop offset=".96685" class="b1"/><stop offset="1.00000" class="b1"/></radialGradient><radialGradient id="R3" gradientUnits="userSpaceOnUse" cx="17.8" cy="340.4" r="1043.4"><stop offset=".65378" class="b1"/><stop offset=".72007" class="b1"/><stop offset=".72376" class="b1"/><stop offset=".72744" class="b0"/><stop offset=".73112" class="b1"/><stop offset=".73481" class="b2"/><stop offset=".73849" class="b3"/><stop offset=".74217" class="b2"/><stop offset=".74451" class="b0"/><stop offset=".74451" class="r0"/><stop offset=".74586" class="r1"/><stop offset=".74954" class="r2"/><stop offset=".75322" class="r0"/><stop offset=".75345" class="r0"/><stop offset=".75345" class="b0"/><stop offset=".75691" class="b5"/><stop offset=".76059" class="b7"/><stop offset=".76427" class="b4"/><stop offset=".76584" class="b0"/><stop offset=".76584" class="r0"/><stop offset=".76796" class="r5"/><stop offset=".77164" class="r9"/><stop offset=".77532" class="r3"/><stop offset=".77628" class="r0"/><stop offset=".77628" class="b0"/><stop offset=".77901" class="b9"/><stop offset=".78269" class="b14"/><stop offset=".78637" class="b6"/><stop offset=".78805" class="b0"/><stop offset=".78805" class="r0"/><stop offset=".79006" class="r8"/><stop offset=".79374" class="r14"/><stop offset=".79742" class="r5"/><stop offset=".79873" class="r0"/><stop offset=".79873" class="b0"/><stop offset=".80111" class="b10"/><stop offset=".80479" class="b17"/><stop offset=".80847" class="b8"/><stop offset=".81036" class="b0"/><stop offset=".81036" class="r0"/><stop offset=".81216" class="r8"/><stop offset=".81584" class="r15"/><stop offset=".81952" class="r7"/><stop offset=".82106" class="r0"/><stop offset=".82106" class="b0"/><stop offset=".82320" class="b9"/><stop offset=".82689" class="b18"/><stop offset=".83057" class="b9"/><stop offset=".83267" class="b0"/><stop offset=".83267" class="r0"/><stop offset=".83425" class="r7"/><stop offset=".83794" class="r16"/><stop offset=".84162" class="r8"/><stop offset=".84338" class="r0"/><stop offset=".84338" class="b0"/><stop offset=".84530" class="b9"/><stop offset=".84899" class="b18"/><stop offset=".85267" class="b10"/><stop offset=".85499" class="b0"/><stop offset=".85499" class="r0"/><stop offset=".85635" class="r6"/><stop offset=".86004" class="r15"/><stop offset=".86372" class="r9"/><stop offset=".86569" class="r0"/><stop offset=".86569" class="b0"/><stop offset=".86740" class="b7"/><stop offset=".87109" class="b17"/><stop offset=".87477" class="b11"/><stop offset=".87732" class="b0"/><stop offset=".87732" class="r0"/><stop offset=".87845" class="r5"/><stop offset=".88214" class="r14"/><stop offset=".88582" class="r9"/><stop offset=".88800" class="r0"/><stop offset=".88800" class="b0"/><stop offset=".88950" class="b6"/><stop offset=".89319" class="b15"/><stop offset=".89687" class="b10"/><stop offset=".89972" class="b0"/><stop offset=".89972" class="r0"/><stop offset=".90055" class="r3"/><stop offset=".90424" class="r11"/><stop offset=".90792" class="r6"/><stop offset=".91027" class="r0"/><stop offset=".91027" class="b0"/><stop offset=".91160" class="b4"/><stop offset=".91529" class="b9"/><stop offset=".91897" class="b6"/><stop offset=".92238" class="b0"/><stop offset=".92238" class="r0"/><stop offset=".92265" class="r0"/><stop offset=".92634" class="r4"/><stop offset=".93002" class="r2"/><stop offset=".93201" class="r0"/><stop offset=".93201" class="b0"/><stop offset=".93370" class="b2"/><stop offset=".93739" class="b3"/><stop offset=".94107" class="b2"/><stop offset=".94475" class="b1"/><stop offset=".94802" class="b0"/><stop offset=".94802" class="r0"/><stop offset=".94843" class="r0"/><stop offset=".94926" class="r0"/><stop offset=".94926" class="b0"/><stop offset=".95212" class="b0"/><stop offset=".95580" class="b1"/><stop offset=".95948" class="b1"/><stop offset=".96317" class="b1"/><stop offset="1.00000" class="b1"/></radialGradient><radialGradient id="R4" gradientUnits="userSpaceOnUse" cx="17.8" cy="340.4" r="1043.4"><stop offset=".65378" class="b1"/><stop offset=".72376" class="b1"/><stop offset=".72744" class="b0"/><stop offset=".73112" class="b1"/><stop offset=".73481" class="b2"/><stop offset=".73849" class="b2"/><stop offset=".74217" class="b1"/><stop offset=".74479" class="b0"/><stop offset=".74479" class="r0"/><stop offset=".74586" class="r1"/><stop offset=".74954" class="r2"/><stop offset=".75322" class="r0"/><stop offset=".75333" class="r0"/><stop offset=".75333" class="b0"/><stop offset=".75691" class="b4"/><stop offset=".76059" class="b7"/><stop offset=".76427" class="b3"/><stop offset=".76585" class="b0"/><stop offset=".76585" class="r0"/><stop offset=".76796" class="r4"/><stop offset=".77164" class="r9"/><stop offset=".77532" class="r3"/><stop offset=".77627" class="r0"/><stop offset=".77627" class="b0"/><stop offset=".77901" class="b9"/><stop offset=".78269" class="b15"/><stop offset=".78637" class="b7"/><stop offset=".78802" class="b0"/><stop offset=".78802" class="r0"/><stop offset=".79006" class="r8"/><stop offset=".79374" class="r15"/><stop offset=".79742" class="r6"/><stop offset=".79874" class="r0"/><stop offset=".79874" class="b0"/><stop offset=".80111" class="b11"/><stop offset=".80479" class="b19"/><stop offset=".80847" class="b9"/><stop offset=".81033" class="b0"/><stop offset=".81033" class="r0"/><stop offset=".81216" class="r9"/><stop offset=".81584" class="r18"/><stop offset=".81952" class="r8"/><stop offset=".82109" class="r0"/><stop offset=".82109" class="b0"/><stop offset=".82320" class="b11"/><stop offset=".82689" class="b20"/><stop offset=".83057" class="b11"/><stop offset=".83264" class="b0"/><stop offset=".83264" class="r0"/><stop offset=".83425" class="r8"/><stop offset=".83794" class="r18"/><stop offset=".84162" class="r9"/><stop offset=".84341" class="r0"/><stop offset=".84341" class="b0"/><stop offset=".84530" class="b10"/><stop offset=".84899" class="b20"/><stop offset=".85267" class="b12"/><stop offset=".85496" class="b0"/><stop offset=".85496" class="r0"/><stop offset=".85635" class="r7"/><stop offset=".86004" class="r18"/><stop offset=".86372" class="r10"/><stop offset=".86572" class="r0"/><stop offset=".86572" class="b0"/><stop offset=".86740" class="b8"/><stop offset=".87109" class="b19"/><stop offset=".87477" class="b12"/><stop offset=".87729" class="b0"/><stop offset=".87729" class="r0"/><stop offset=".87845" class="r6"/><stop offset=".88214" class="r17"/><stop offset=".88582" class="r10"/><stop offset=".88804" class="r0"/><stop offset=".88804" class="b0"/><stop offset=".88950" class="b7"/><stop offset=".89319" class="b17"/><stop offset=".89687" class="b11"/><stop offset=".89970" class="b0"/><stop offset=".89970" class="r0"/><stop offset=".90055" class="r3"/><stop offset=".90424" class="r12"/><stop offset=".90792" class="r7"/><stop offset=".91030" class="r0"/><stop offset=".91030" class="b0"/><stop offset=".91160" class="b4"/><stop offset=".91529" class="b10"/><stop offset=".91897" class="b6"/><stop offset=".92237" class="b0"/><stop offset=".92237" class="r0"/><stop offset=".92265" class="r1"/><stop offset=".92634" class="r4"/><stop offset=".93002" class="r2"/><stop offset=".93201" class="r0"/><stop offset=".93201" class="b0"/><stop offset=".93370" class="b2"/><stop offset=".93739" class="b3"/><stop offset=".94107" class="b2"/><stop offset=".94475" class="b1"/><stop offset=".94818" class="b0"/><stop offset=".94818" class="r0"/><stop offset=".94843" class="r0"/><stop offset=".94894" class="r0"/><stop offset=".94894" class="b0"/><stop offset=".95212" class="b0"/><stop offset=".95580" class="b1"/><stop offset=".95948" class="b1"/><stop offset=".96317" class="b1"/><stop offset="1.00000" class="b1"/></radialGradient><radialGradient id="R5" gradientUnits="userSpaceOnUse" cx="17.8" cy="340.4" r="1043.4"><stop offset=".65378" class="b1"/><stop offset=".73481" class="b1"/><stop offset=".73849" class="b2"/><stop offset=".74217" class="b1"/><stop offset=".74586" class="b0"/><stop offset=".74724" class="b0"/><stop offset=".74724" class="r0"/><stop offset=".74954" class="r0"/><stop offset=".75130" class="r0"/><stop offset=".75130" class="b0"/><stop offset=".75322" class="b0"/><stop offset=".75691" class="b3"/><stop offset=".76059" class="b4"/><stop offset=".76427" class="b2"/><stop offset=".76612" class="b0"/><stop offset=".76612" class="r0"/><stop offset=".76796" class="r2"/><stop offset=".77164" class="r5"/><stop offset=".77532" class="r2"/><stop offset=".77609" class="r0"/><stop offset=".77609" class="b0"/><stop offset=".77901" class="b7"/><stop offset=".78269" class="b12"/><stop offset=".78637" class="b6"/><stop offset=".78800" class="b0"/><stop offset=".78800" class="r0"/><stop offset=".79006" class="r8"/><stop offset=".79374" class="r15"/><stop offset=".79742" class="r6"/><stop offset=".79872" class="r0"/><stop offset=".79872" class="b0"/><stop offset=".80111" class="b11"/><stop offset=".80479" class="b20"/><stop offset=".80847" class="b10"/><stop offset=".81029" class="b0"/><stop offset=".81029" class="r0"/><stop offset=".81216" class="r10"/><stop offset=".81584" class="r20"/><stop offset=".81952" class="r9"/><stop offset=".82111" class="r0"/><stop offset=".82111" class="b0"/><stop offset=".82320" class="b12"/><stop offset=".82689" class="b23"/><stop offset=".83057" class="b12"/><stop offset=".83261" class="b0"/><stop offset=".83261" class="r0"/><stop offset=".83425" class="r10"/><stop offset=".83794" class="r22"/><stop offset=".84162" class="r11"/><stop offset=".84344" class="r0"/><stop offset=".84344" class="b0"/><stop offset=".84530" class="b11"/><stop offset=".84899" class="b24"/><stop offset=".85267" class="b14"/><stop offset=".85492" class="b0"/><stop offset=".85492" class="r0"/><stop offset=".85635" class="r9"/><stop offset=".86004" class="r22"/><stop offset=".86372" class="r12"/><stop offset=".86575" class="r0"/><stop offset=".86575" class="b0"/><stop offset=".86740" class="b10"/><stop offset=".87109" class="b23"/><stop offset=".87477" class="b14"/><stop offset=".87725" class="b0"/><stop offset=".87725" class="r0"/><stop offset=".87845" class="r7"/><stop offset=".88214" class="r20"/><stop offset=".88582" class="r12"/><stop offset=".88807" class="r0"/><stop offset=".88807" class="b0"/><stop offset=".88950" class="b8"/><stop offset=".89319" class="b20"/><stop offset=".89687" class="b13"/><stop offset=".89965" class="b0"/><stop offset=".89965" class="r0"/><stop offset=".90055" class="r4"/><stop offset=".90424" class="r14"/><stop offset=".90792" class="r9"/><stop offset=".91036" class="r0"/><stop offset=".91036" class="b0"/><stop offset=".91160" class="b4"/><stop offset=".91529" class="b12"/><stop offset=".91897" class="b8"/><stop offset=".92226" class="b0"/><stop offset=".92226" class="r0"/><stop offset=".92265" class="r1"/><stop offset=".92634" class="r5"/><stop offset=".93002" class="r3"/><stop offset=".93221" class="r0"/><stop offset=".93221" class="b0"/><stop offset=".93370" class="b2"/><stop offset=".93739" class="b4"/><stop offset=".94107" class="b3"/><stop offset=".94475" class="b1"/><stop offset=".94720" class="b0"/><stop offset=".94720" class="r0"/><stop offset=".94843" class="r0"/><stop offset=".95090" class="r0"/><stop offset=".95090" class="b0"/><stop offset=".95212" class="b0"/><stop offset=".95580" class="b1"/><stop offset=".95948" class="b2"/><stop offset=".96317" class="b1"/><stop offset="1.00000" class="b1"/></radialGradient><radialGradient id="R6" gradientUnits="userSpaceOnUse" cx="17.8" cy="340.4" r="1043.4"><stop offset=".65378" class="b1"/><stop offset=".73481" class="b1"/><stop offset=".73849" class="b1"/><stop offset=".74217" class="b1"/><stop offset=".74586" class="b0"/><stop offset=".74839" class="b0"/><stop offset=".74839" class="r0"/><stop offset=".74954" class="r0"/><stop offset=".75042" class="r0"/><stop offset=".75042" class="b0"/><stop offset=".75322" class="b1"/><stop offset=".75691" class="b2"/><stop offset=".76059" class="b4"/><stop offset=".76427" class="b2"/><stop offset=".76624" class="b0"/><stop offset=".76624" class="r0"/><stop offset=".76796" class="r2"/><stop offset=".77164" class="r5"/><stop offset=".77532" class="r1"/><stop offset=".77603" class="r0"/><stop offset=".77603" class="b0"/><stop offset=".77901" class="b6"/><stop offset=".78269" class="b11"/><stop offset=".78637" class="b6"/><stop offset=".78800" class="b0"/><stop offset=".78800" class="r0"/><stop offset=".79006" class="r7"/><stop offset=".79374" class="r14"/><stop offset=".79742" class="r6"/><stop offset=".79870" class="r0"/><stop offset=".79870" class="b0"/><stop offset=".80111" class="b11"/><stop offset=".80479" class="b20"/><stop offset=".80847" class="b10"/><stop offset=".81028" class="b0"/><stop offset=".81028" class="r0"/><stop offset=".81216" class="r10"/><stop offset=".81584" class="r21"/><stop offset=".81952" class="r10"/><stop offset=".82111" class="r0"/><stop offset=".82111" class="b0"/><stop offset=".82320" class="b13"/><stop offset=".82689" class="b24"/><stop offset=".83057" class="b13"/><stop offset=".83260" class="b0"/><stop offset=".83260" class="r0"/><stop offset=".83425" class="r10"/><stop offset=".83794" class="r23"/><stop offset=".84162" class="r12"/><stop offset=".84344" class="r0"/><stop offset=".84344" class="b0"/><stop offset=".84530" class="b12"/><stop offset=".84899" class="b25"/><stop offset=".85267" class="b14"/><stop offset=".85492" class="b0"/><stop offset=".85492" class="r0"/><stop offset=".85635" class="r9"/><stop offset=".86004" class="r23"/><stop offset=".86372" class="r13"/><stop offset=".86576" class="r0"/><stop offset=".86576" class="b0"/><stop offset=".86740" class="b10"/><stop offset=".87109" class="b24"/><stop offset=".87477" class="b15"/><stop offset=".87725" class="b0"/><stop offset=".87725" class="r0"/><stop offset=".87845" class="r7"/><stop offset=".88214" class="r21"/><stop offset=".88582" class="r13"/><stop offset=".88808" class="r0"/><stop offset=".88808" class="b0"/><stop offset=".88950" class="b8"/><stop offset=".89319" class="b21"/><stop offset=".89687" class="b14"/><stop offset=".89964" class="b0"/><stop offset=".89964" class="r0"/><stop offset=".90055" class="r4"/><stop offset=".90424" class="r15"/><stop offset=".90792" class="r9"/><stop offset=".91037" class="r0"/><stop offset=".91037" class="b0"/><stop offset=".91160" class="b5"/><stop offset=".91529" class="b12"/><stop offset=".91897" class="b8"/><stop offset=".92225" class="b0"/><stop offset=".92225" class="r0"/><stop offset=".92265" class="r1"/><stop offset=".92634" class="r5"/><stop offset=".93002" class="r3"/><stop offset=".93224" class="r0"/><stop offset=".93224" class="b0"/><stop offset=".93370" class="b2"/><stop offset=".93739" class="b4"/><stop offset=".94107" class="b3"/><stop offset=".94475" class="b1"/><stop offset=".94709" class="b0"/><stop offset=".94709" class="r0"/><stop offset=".94843" class="r0"/><stop offset=".95112" class="r0"/><stop offset=".95112" class="b0"/><stop offset=".95212" class="b0"/><stop offset=".95580" class="b1"/><stop offset=".95948" class="b2"/><stop offset=".96317" class="b1"/><stop offset="1.00000" class="b1"/></radialGradient><radialGradient id="R7" gradientUnits="userSpaceOnUse" cx="17.8" cy="340.4" r="1043.4"><stop offset=".65378" class="b1"/><stop offset=".73481" class="b1"/><stop offset=".73849" class="b2"/><stop offset=".74217" class="b1"/><stop offset=".74586" class="b0"/><stop offset=".74798" class="b0"/><stop offset=".74798" class="r0"/><stop offset=".74954" class="r0"/><stop offset=".75074" class="r0"/><stop offset=".75074" class="b0"/><stop offset=".75322" class="b1"/><stop offset=".75691" class="b2"/><stop offset=".76059" class="b4"/><stop offset=".76427" class="b2"/><stop offset=".76619" class="b0"/><stop offset=".76619" class="r0"/><stop offset=".76796" class="r2"/><stop offset=".77164" class="r5"/><stop offset=".77532" class="r2"/><stop offset=".77605" class="r0"/><stop offset=".77605" class="b0"/><stop offset=".77901" class="b6"/><stop offset=".78269" class="b11"/><stop offset=".78637" class="b6"/><stop offset=".78799" class="b0"/><stop offset=".78799" class="r0"/><stop offset=".79006" class="r7"/><stop offset=".79374" class="r15"/><stop offset=".79742" class="r6"/><stop offset=".79871" class="r0"/><stop offset=".79871" class="b0"/><stop offset=".80111" class="b11"/><stop offset=".80479" class="b20"/><stop offset=".80847" class="b10"/><stop offset=".81028" class="b0"/><stop offset=".81028" class="r0"/><stop offset=".81216" class="r10"/><stop offset=".81584" class="r20"/><stop offset=".81952" class="r9"/><stop offset=".82109" class="r0"/><stop offset=".82109" class="b0"/><stop offset=".82320" class="b12"/><stop offset=".82689" class="b23"/><stop offset=".83057" class="b12"/><stop offset=".83257" class="b0"/><stop offset=".83257" class="r0"/><stop offset=".83425" class="r10"/><stop offset=".83794" class="r21"/><stop offset=".84162" class="r11"/><stop offset=".84339" class="r0"/><stop offset=".84339" class="b0"/><stop offset=".84530" class="b11"/><stop offset=".84899" class="b23"/><stop offset=".85267" class="b13"/><stop offset=".85489" class="b0"/><stop offset=".85489" class="r0"/><stop offset=".85635" class="r9"/><stop offset=".86004" class="r22"/><stop offset=".86372" class="r12"/><stop offset=".86574" class="r0"/><stop offset=".86574" class="b0"/><stop offset=".86740" class="b10"/><stop offset=".87109" class="b24"/><stop offset=".87477" class="b15"/><stop offset=".87724" class="b0"/><stop offset=".87724" class="r0"/><stop offset=".87845" class="r7"/><stop offset=".88214" class="r21"/><stop offset=".88582" class="r13"/><stop offset=".88808" class="r0"/><stop offset=".88808" class="b0"/><stop offset=".88950" class="b8"/><stop offset=".89319" class="b21"/><stop offset=".89687" class="b13"/><stop offset=".89965" class="b0"/><stop offset=".89965" class="r0"/><stop offset=".90055" class="r4"/><stop offset=".90424" class="r15"/><stop offset=".90792" class="r9"/><stop offset=".91037" class="r0"/><stop offset=".91037" class="b0"/><stop offset=".91160" class="b5"/><stop offset=".91529" class="b12"/><stop offset=".91897" class="b8"/><stop offset=".92227" class="b0"/><stop offset=".92227" class="r0"/><stop offset=".92265" class="r1"/><stop offset=".92634" class="r5"/><stop offset=".93002" class="r3"/><stop offset=".93220" class="r0"/><stop offset=".93220" class="b0"/><stop offset=".93370" class="b2"/><stop offset=".93739" class="b4"/><stop offset=".94107" class="b3"/><stop offset=".94475" class="b1"/><stop offset=".94732" class="b0"/><stop offset=".94732" class="r0"/><stop offset=".94843" class="r0"/><stop offset=".95067" class="r0"/><stop offset=".95067" class="b0"/><stop offset=".95212" class="b0"/><stop offset=".95580" class="b1"/><stop offset=".95948" class="b2"/><stop offset=".96317" class="b1"/><stop offset="1.00000" class="b1"/></radialGradient><radialGradient id="R8" gradientUnits="userSpaceOnUse" cx="17.8" cy="340.4" r="1043.4"><stop offset=".65378" class="b1"/><stop offset=".73481" class="b1"/><stop offset=".73849" class="b2"/><stop offset=".74217" class="b1"/><stop offset=".74586" class="b0"/><stop offset=".74767" class="b0"/><stop offset=".74767" class="r0"/><stop offset=".74954" class="r0"/><stop offset=".75097" class="r0"/><stop offset=".75097" class="b0"/><stop offset=".75322" class="b0"/><stop offset=".75691" class="b3"/><stop offset=".76059" class="b4"/><stop offset=".76427" class="b2"/><stop offset=".76619" class="b0"/><stop offset=".76619" class="r0"/><stop offset=".76796" class="r2"/><stop offset=".77164" class="r4"/><stop offset=".77532" class="r0"/><stop offset=".77563" class="r0"/><stop offset=".77563" class="b0"/><stop offset=".77901" class="b5"/><stop offset=".78269" class="b3"/><stop offset=".78448" class="b0"/><stop offset=".78448" class="r0"/><stop offset=".78637" class="r3"/><stop offset=".78931" class="r0"/><stop offset=".78931" class="b0"/><stop offset=".79006" class="b1"/><stop offset=".79374" class="b11"/><stop offset=".79742" class="b13"/><stop offset=".80079" class="b0"/><stop offset=".80079" class="r0"/><stop offset=".80111" class="r1"/><stop offset=".80479" class="r16"/><stop offset=".80847" class="r15"/><stop offset=".81145" class="r0"/><stop offset=".81145" class="b0"/><stop offset=".81216" class="b4"/><stop offset=".81584" class="b22"/><stop offset=".81952" class="b20"/><stop offset=".82299" class="b0"/><stop offset=".82299" class="r0"/><stop offset=".82320" class="r1"/><stop offset=".82689" class="r22"/><stop offset=".83057" class="r20"/><stop offset=".83384" class="r0"/><stop offset=".83384" class="b0"/><stop offset=".83425" class="b3"/><stop offset=".83794" class="b24"/><stop offset=".84162" class="b22"/><stop offset=".84530" class="b0"/><stop offset=".84536" class="b0"/><stop offset=".84536" class="r0"/><stop offset=".84899" class="r21"/><stop offset=".85267" class="r20"/><stop offset=".85621" class="r0"/><stop offset=".85621" class="b0"/><stop offset=".85635" class="b1"/><stop offset=".86004" class="b21"/><stop offset=".86372" class="b21"/><stop offset=".86740" class="b2"/><stop offset=".86783" class="b0"/><stop offset=".86783" class="r0"/><stop offset=".87109" class="r15"/><stop offset=".87477" class="r15"/><stop offset=".87845" class="r1"/><stop offset=".87882" class="r0"/><stop offset=".87882" class="b0"/><stop offset=".88214" class="b10"/><stop offset=".88582" class="b9"/><stop offset=".88950" class="b5"/><stop offset=".89319" class="b8"/><stop offset=".89687" class="b7"/><stop offset=".89928" class="b0"/><stop offset=".89928" class="r0"/><stop offset=".90055" class="r4"/><stop offset=".90424" class="r13"/><stop offset=".90792" class="r8"/><stop offset=".91031" class="r0"/><stop offset=".91031" class="b0"/><stop offset=".91160" class="b4"/><stop offset=".91529" class="b11"/><stop offset=".91897" class="b7"/><stop offset=".92229" class="b0"/><stop offset=".92229" class="r0"/><stop offset=".92265" class="r1"/><stop offset=".92634" class="r5"/><stop offset=".93002" class="r3"/><stop offset=".93216" class="r0"/><stop offset=".93216" class="b0"/><stop offset=".93370" class="b2"/><stop offset=".93739" class="b4"/><stop offset=".94107" class="b3"/><stop offset=".94475" class="b1"/><stop offset=".94751" class="b0"/><stop offset=".94751" class="r0"/><stop offset=".94843" class="r0"/><stop offset=".95028" class="r0"/><stop offset=".95028" class="b0"/><stop offset=".95212" class="b0"/><stop offset=".95580" class="b1"/><stop offset=".95948" class="b2"/><stop offset=".96317" class="b1"/><stop offset="1.00000" class="b1"/></radialGradient><radialGradient id="R9" gradientUnits="userSpaceOnUse" cx="17.8" cy="340.4" r="1043.4"><stop offset=".65378" class="b1"/><stop offset=".73481" class="b1"/><stop offset=".73849" class="b2"/><stop offset=".74217" class="b1"/><stop offset=".74586" class="b0"/><stop offset=".74954" class="b0"/><stop offset=".75322" class="b2"/><stop offset=".75691" class="b1"/><stop offset=".75763" class="b0"/><stop offset=".75763" class="r0"/><stop offset=".76059" class="r4"/><stop offset=".76427" class="r4"/><stop offset=".76637" class="r0"/><stop offset=".76637" class="b0"/><stop offset=".76796" class="b3"/><stop offset=".77164" class="b12"/><stop offset=".77532" class="b10"/><stop offset=".77836" class="b0"/><stop offset=".77836" class="r0"/><stop offset=".77901" class="r2"/><stop offset=".78269" class="r14"/><stop offset=".78637" class="r12"/><stop offset=".78903" class="r0"/><stop offset=".78903" class="b0"/><stop offset=".79006" class="b5"/><stop offset=".79374" class="b20"/><stop offset=".79742" class="b18"/><stop offset=".80062" class="b0"/><stop offset=".80062" class="r0"/><stop offset=".80111" class="r3"/><stop offset=".80479" class="r22"/><stop offset=".80847" class="r20"/><stop offset=".81147" class="r0"/><stop offset=".81147" class="b0"/><stop offset=".81216" class="b4"/><stop offset=".81584" class="b27"/><stop offset=".81952" class="b25"/><stop offset=".82295" class="b0"/><stop offset=".82295" class="r0"/><stop offset=".82320" class="r2"/><stop offset=".82689" class="r27"/><stop offset=".83057" class="r25"/><stop offset=".83386" class="r0"/><stop offset=".83386" class="b0"/><stop offset=".83425" class="b3"/><stop offset=".83794" class="b29"/><stop offset=".84162" class="b27"/><stop offset=".84530" class="b0"/><stop offset=".84532" class="b0"/><stop offset=".84532" class="r0"/><stop offset=".84899" class="r26"/><stop offset=".85267" class="r25"/><stop offset=".85622" class="r0"/><stop offset=".85622" class="b0"/><stop offset=".85635" class="b1"/><stop offset=".86004" class="b26"/><stop offset=".86372" class="b25"/><stop offset=".86740" class="b2"/><stop offset=".86772" class="b0"/><stop offset=".86772" class="r0"/><stop offset=".87109" class="r21"/><stop offset=".87477" class="r21"/><stop offset=".87845" class="r1"/><stop offset=".87857" class="r0"/><stop offset=".87857" class="b0"/><stop offset=".88214" class="b20"/><stop offset=".88582" class="b21"/><stop offset=".88950" class="b3"/><stop offset=".89014" class="b0"/><stop offset=".89014" class="r0"/><stop offset=".89319" class="r15"/><stop offset=".89687" class="r16"/><stop offset=".90055" class="r1"/><stop offset=".90089" class="r0"/><stop offset=".90089" class="b0"/><stop offset=".90424" class="b13"/><stop offset=".90792" class="b14"/><stop offset=".91160" class="b3"/><stop offset=".91404" class="b0"/><stop offset=".91404" class="r0"/><stop offset=".91529" class="r2"/><stop offset=".91815" class="r0"/><stop offset=".91815" class="b0"/><stop offset=".91897" class="b1"/><stop offset=".92036" class="b0"/><stop offset=".92036" class="r0"/><stop offset=".92265" class="r1"/><stop offset=".92634" class="r4"/><stop offset=".93002" class="r2"/><stop offset=".93202" class="r0"/><stop offset=".93202" class="b0"/><stop offset=".93370" class="b2"/><stop offset=".93739" class="b4"/><stop offset=".94107" class="b3"/><stop offset=".94475" class="b1"/><stop offset=".94767" class="b0"/><stop offset=".94767" class="r0"/><stop offset=".94843" class="r0"/><stop offset=".94996" class="r0"/><stop offset=".94996" class="b0"/><stop offset=".95212" class="b0"/><stop offset=".95580" class="b1"/><stop offset=".95948" class="b2"/><stop offset=".96317" class="b1"/><stop offset="1.00000" class="b1"/></radialGradient><radialGradient id="R10" gradientUnits="userSpaceOnUse" cx="17.8" cy="340.4" r="1043.4"><stop offset=".65378" class="b1"/><stop offset=".73849" class="b1"/><stop offset=".74101" class="b0"/><stop offset=".74101" class="r0"/><stop offset=".74217" class="r0"/><stop offset=".74264" class="r0"/><stop offset=".74264" class="b0"/><stop offset=".74586" class="b2"/><stop offset=".74954" class="b6"/><stop offset=".75322" class="b5"/><stop offset=".75624" class="b0"/><stop offset=".75624" class="r0"/><stop offset=".75691" class="r1"/><stop offset=".76059" class="r8"/><stop offset=".76427" class="r6"/><stop offset=".76652" class="r0"/><stop offset=".76652" class="b0"/><stop offset=".76796" class="b4"/><stop offset=".77164" class="b14"/><stop offset=".77532" class="b12"/><stop offset=".77832" class="b0"/><stop offset=".77832" class="r0"/><stop offset=".77901" class="r3"/><stop offset=".78269" class="r16"/><stop offset=".78637" class="r14"/><stop offset=".78906" class="r0"/><stop offset=".78906" class="b0"/><stop offset=".79006" class="b5"/><stop offset=".79374" class="b23"/><stop offset=".79742" class="b21"/><stop offset=".80059" class="b0"/><stop offset=".80059" class="r0"/><stop offset=".80111" class="r3"/><stop offset=".80479" class="r26"/><stop offset=".80847" class="r23"/><stop offset=".81149" class="r0"/><stop offset=".81149" class="b0"/><stop offset=".81216" class="b5"/><stop offset=".81584" class="b31"/><stop offset=".81952" class="b28"/><stop offset=".82293" class="b0"/><stop offset=".82293" class="r0"/><stop offset=".82320" class="r2"/><stop offset=".82689" class="r31"/><stop offset=".83057" class="r29"/><stop offset=".83388" class="r0"/><stop offset=".83388" class="b0"/><stop offset=".83425" class="b3"/><stop offset=".83794" class="b33"/><stop offset=".84162" class="b31"/><stop offset=".84530" class="b0"/><stop offset=".84530" class="r0"/><stop offset=".84530" class="r0"/><stop offset=".84899" class="r29"/><stop offset=".85267" class="r28"/><stop offset=".85624" class="r0"/><stop offset=".85624" class="b0"/><stop offset=".85635" class="b1"/><stop offset=".86004" class="b29"/><stop offset=".86372" class="b29"/><stop offset=".86740" class="b2"/><stop offset=".86770" class="b0"/><stop offset=".86770" class="r0"/><stop offset=".87109" class="r24"/><stop offset=".87477" class="r25"/><stop offset=".87845" class="r1"/><stop offset=".87859" class="r0"/><stop offset=".87859" class="b0"/><stop offset=".88214" class="b23"/><stop offset=".88582" class="b24"/><stop offset=".88950" class="b3"/><stop offset=".89011" class="b0"/><stop offset=".89011" class="r0"/><stop offset=".89319" class="r17"/><stop offset=".89687" class="r18"/><stop offset=".90055" class="r2"/><stop offset=".90090" class="r0"/><stop offset=".90090" class="b0"/><stop offset=".90424" class="b15"/><stop offset=".90792" class="b17"/><stop offset=".91160" class="b4"/><stop offset=".91257" class="b0"/><stop offset=".91257" class="r0"/><stop offset=".91529" class="r10"/><stop offset=".91897" class="r12"/><stop offset=".92265" class="r1"/><stop offset=".92323" class="r0"/><stop offset=".92323" class="b0"/><stop offset=".92634" class="b8"/><stop offset=".93002" class="b6"/><stop offset=".93370" class="b2"/><stop offset=".93739" class="b3"/><stop offset=".94107" class="b2"/><stop offset=".94475" class="b1"/><stop offset=".94783" class="b0"/><stop offset=".94783" class="r0"/><stop offset=".94843" class="r0"/><stop offset=".94962" class="r0"/><stop offset=".94962" class="b0"/><stop offset=".95212" class="b0"/><stop offset=".95580" class="b1"/><stop offset=".95948" class="b1"/><stop offset=".96317" class="b1"/><stop offset="1.00000" class="b1"/></radialGradient><radialGradient id="R11" gradientUnits="userSpaceOnUse" cx="17.8" cy="340.4" r="1043.4"><stop offset=".65378" class="b1"/><stop offset=".73112" class="b1"/><stop offset=".73481" class="b0"/><stop offset=".73551" class="b0"/><stop offset=".73551" class="r0"/><stop offset=".73849" class="r2"/><stop offset=".74217" class="r2"/><stop offset=".74368" class="r0"/><stop offset=".74368" class="b0"/><stop offset=".74586" class="b3"/><stop offset=".74954" class="b7"/><stop offset=".75322" class="b6"/><stop offset=".75619" class="b0"/><stop offset=".75619" class="r0"/><stop offset=".75691" class="r1"/><stop offset=".76059" class="r9"/><stop offset=".76427" class="r7"/><stop offset=".76655" class="r0"/><stop offset=".76655" class="b0"/><stop offset=".76796" class="b4"/><stop offset=".77164" class="b15"/><stop offset=".77532" class="b13"/><stop offset=".77830" class="b0"/><stop offset=".77830" class="r0"/><stop offset=".77901" class="r3"/><stop offset=".78269" class="r18"/><stop offset=".78637" class="r15"/><stop offset=".78908" class="r0"/><stop offset=".78908" class="b0"/><stop offset=".79006" class="b6"/><stop offset=".79374" class="b25"/><stop offset=".79742" class="b22"/><stop offset=".80058" class="b0"/><stop offset=".80058" class="r0"/><stop offset=".80111" class="r4"/><stop offset=".80479" class="r28"/><stop offset=".80847" class="r25"/><stop offset=".81150" class="r0"/><stop offset=".81150" class="b0"/><stop offset=".81216" class="b5"/><stop offset=".81584" class="b34"/><stop offset=".81952" class="b31"/><stop offset=".82292" class="b0"/><stop offset=".82292" class="r0"/><stop offset=".82320" class="r3"/><stop offset=".82689" class="r34"/><stop offset=".83057" class="r31"/><stop offset=".83389" class="r0"/><stop offset=".83389" class="b0"/><stop offset=".83425" class="b3"/><stop offset=".83794" class="b36"/><stop offset=".84162" class="b34"/><stop offset=".84529" class="b0"/><stop offset=".84529" class="r0"/><stop offset=".84530" class="r0"/><stop offset=".84899" class="r32"/><stop offset=".85267" class="r31"/><stop offset=".85625" class="r0"/><stop offset=".85625" class="b0"/><stop offset=".85635" class="b1"/><stop offset=".86004" class="b31"/><stop offset=".86372" class="b31"/><stop offset=".86740" class="b2"/><stop offset=".86769" class="b0"/><stop offset=".86769" class="r0"/><stop offset=".87109" class="r26"/><stop offset=".87477" class="r27"/><stop offset=".87845" class="r1"/><stop offset=".87860" class="r0"/><stop offset=".87860" class="b0"/><stop offset=".88214" class="b24"/><stop offset=".88582" class="b26"/><stop offset=".88950" class="b4"/><stop offset=".89010" class="b0"/><stop offset=".89010" class="r0"/><stop offset=".89319" class="r19"/><stop offset=".89687" class="r20"/><stop offset=".90055" class="r2"/><stop offset=".90092" class="r0"/><stop offset=".90092" class="b0"/><stop offset=".90424" class="b17"/><stop offset=".90792" class="b18"/><stop offset=".91160" class="b4"/><stop offset=".91254" class="b0"/><stop offset=".91254" class="r0"/><stop offset=".91529" class="r11"/><stop offset=".91897" class="r13"/><stop offset=".92265" class="r2"/><stop offset=".92317" class="r0"/><stop offset=".92317" class="b0"/><stop offset=".92634" class="b10"/><stop offset=".93002" class="b11"/><stop offset=".93370" class="b3"/><stop offset=".93569" class="b0"/><stop offset=".93569" class="r0"/><stop offset=".93739" class="r3"/><stop offset=".94107" class="r1"/><stop offset=".94330" class="r0"/><stop offset=".94330" class="b0"/><stop offset=".94475" class="b1"/><stop offset=".94843" class="b0"/><stop offset=".95212" class="b0"/><stop offset=".95580" class="b1"/><stop offset=".95948" class="b1"/><stop offset=".96317" class="b1"/><stop offset="1.00000" class="b1"/></radialGradient><radialGradient id="R12" gradientUnits="userSpaceOnUse" cx="17.8" cy="340.4" r="1043.4"><stop offset=".65378" class="b1"/><stop offset=".72744" class="b1"/><stop offset=".73112" class="b2"/><stop offset=".73481" class="b0"/><stop offset=".73503" class="b0"/><stop offset=".73503" class="r0"/><stop offset=".73849" class="r3"/><stop offset=".74217" class="r2"/><stop offset=".74374" class="r0"/><stop offset=".74374" class="b0"/><stop offset=".74586" class="b3"/><stop offset=".74954" class="b7"/><stop offset=".75322" class="b6"/><stop offset=".75617" class="b0"/><stop offset=".75617" class="r0"/><stop offset=".75691" class="r2"/><stop offset=".76059" class="r9"/><stop offset=".76427" class="r7"/><stop offset=".76656" class="r0"/><stop offset=".76656" class="b0"/><stop offset=".76796" class="b4"/><stop offset=".77164" class="b15"/><stop offset=".77532" class="b13"/><stop offset=".77829" class="b0"/><stop offset=".77829" class="r0"/><stop offset=".77901" class="r3"/><stop offset=".78269" class="r19"/><stop offset=".78637" class="r16"/><stop offset=".78908" class="r0"/><stop offset=".78908" class="b0"/><stop offset=".79006" class="b6"/><stop offset=".79374" class="b26"/><stop offset=".79742" class="b23"/><stop offset=".80058" class="b0"/><stop offset=".80058" class="r0"/><stop offset=".80111" class="r4"/><stop offset=".80479" class="r29"/><stop offset=".80847" class="r26"/><stop offset=".81151" class="r0"/><stop offset=".81151" class="b0"/><stop offset=".81216" class="b6"/><stop offset=".81584" class="b35"/><stop offset=".81952" class="b32"/><stop offset=".82292" class="b0"/><stop offset=".82292" class="r0"/><stop offset=".82320" class="r3"/><stop offset=".82689" class="r35"/><stop offset=".83057" class="r32"/><stop offset=".83389" class="r0"/><stop offset=".83389" class="b0"/><stop offset=".83425" class="b3"/><stop offset=".83794" class="b37"/><stop offset=".84162" class="b35"/><stop offset=".84529" class="b0"/><stop offset=".84529" class="r0"/><stop offset=".84530" class="r0"/><stop offset=".84899" class="r33"/><stop offset=".85267" class="r32"/><stop offset=".85625" class="r0"/><stop offset=".85625" class="b0"/><stop offset=".85635" class="b1"/><stop offset=".86004" class="b32"/><stop offset=".86372" class="b32"/><stop offset=".86740" class="b2"/><stop offset=".86768" class="b0"/><stop offset=".86768" class="r0"/><stop offset=".87109" class="r27"/><stop offset=".87477" class="r28"/><stop offset=".87845" class="r1"/><stop offset=".87861" class="r0"/><stop offset=".87861" class="b0"/><stop offset=".88214" class="b25"/><stop offset=".88582" class="b26"/><stop offset=".88950" class="b4"/><stop offset=".89009" class="b0"/><stop offset=".89009" class="r0"/><stop offset=".89319" class="r19"/><stop offset=".89687" class="r21"/><stop offset=".90055" class="r2"/><stop offset=".90092" class="r0"/><stop offset=".90092" class="b0"/><stop offset=".90424" class="b17"/><stop offset=".90792" class="b19"/><stop offset=".91160" class="b4"/><stop offset=".91254" class="b0"/><stop offset=".91254" class="r0"/><stop offset=".91529" class="r12"/><stop offset=".91897" class="r13"/><stop offset=".92265" class="r2"/><stop offset=".92318" class="r0"/><stop offset=".92318" class="b0"/><stop offset=".92634" class="b10"/><stop offset=".93002" class="b12"/><stop offset=".93370" class="b3"/><stop offset=".93530" class="b0"/><stop offset=".93530" class="r0"/><stop offset=".93739" class="r4"/><stop offset=".94107" class="r3"/><stop offset=".94443" class="r0"/><stop offset=".94443" class="b0"/><stop offset=".94475" class="b0"/><stop offset=".94843" class="b0"/><stop offset=".95212" class="b0"/><stop offset=".95580" class="b1"/><stop offset=".95948" class="b1"/><stop offset=".96317" class="b1"/><stop offset="1.00000" class="b1"/></radialGradient><radialGradient id="R13" gradientUnits="userSpaceOnUse" cx="17.8" cy="340.4" r="1043.4"><stop offset=".65378" class="b1"/><stop offset=".73112" class="b1"/><stop offset=".73481" class="b0"/><stop offset=".73551" class="b0"/><stop offset=".73551" class="r0"/><stop offset=".73849" class="r2"/><stop offset=".74217" class="r2"/><stop offset=".74368" class="r0"/><stop offset=".74368" class="b0"/><stop offset=".74586" class="b3"/><stop offset=".74954" class="b7"/><stop offset=".75322" class="b6"/><stop offset=".75619" class="b0"/><stop offset=".75619" class="r0"/><stop offset=".75691" class="r1"/><stop offset=".76059" class="r9"/><stop offset=".76427" class="r7"/><stop offset=".76655" class="r0"/><stop offset=".76655" class="b0"/><stop offset=".76796" class="b4"/><stop offset=".77164" class="b15"/><stop offset=".77532" class="b13"/><stop offset=".77830" class="b0"/><stop offset=".77830" class="r0"/><stop offset=".77901" class="r3"/><stop offset=".78269" class="r18"/><stop offset=".78637" class="r15"/><stop offset=".78908" class="r0"/><stop offset=".78908" class="b0"/><stop offset=".79006" class="b6"/><stop offset=".79374" class="b25"/><stop offset=".79742" class="b22"/><stop offset=".80058" class="b0"/><stop offset=".80058" class="r0"/><stop offset=".80111" class="r4"/><stop offset=".80479" class="r28"/><stop offset=".80847" class="r25"/><stop offset=".81150" class="r0"/><stop offset=".81150" class="b0"/><stop offset=".81216" class="b5"/><stop offset=".81584" class="b34"/><stop offset=".81952" class="b31"/><stop offset=".82292" class="b0"/><stop offset=".82292" class="r0"/><stop offset=".82320" class="r3"/><stop offset=".82689" class="r34"/><stop offset=".83057" class="r31"/><stop offset=".83389" class="r0"/><stop offset=".83389" class="b0"/><stop offset=".83425" class="b3"/><stop offset=".83794" class="b36"/><stop offset=".84162" class="b34"/><stop offset=".84529" class="b0"/><stop offset=".84529" class="r0"/><stop offset=".84530" class="r0"/><stop offset=".84899" class="r32"/><stop offset=".85267" class="r31"/><stop offset=".85625" class="r0"/><stop offset=".85625" class="b0"/><stop offset=".85635" class="b1"/><stop offset=".86004" class="b31"/><stop offset=".86372" class="b31"/><stop offset=".86740" class="b2"/><stop offset=".86769" class="b0"/><stop offset=".86769" class="r0"/><stop offset=".87109" class="r26"/><stop offset=".87477" class="r27"/><stop offset=".87845" class="r1"/><stop offset=".87860" class="r0"/><stop offset=".87860" class="b0"/><stop offset=".88214" class="b24"/><stop offset=".88582" class="b26"/><stop offset=".88950" class="b4"/><stop offset=".89010" class="b0"/><stop offset=".89010" class="r0"/><stop offset=".89319" class="r19"/><stop offset=".89687" class="r20"/><stop offset=".90055" class="r2"/><stop offset=".90092" class="r0"/><stop offset=".90092" class="b0"/><stop offset=".90424" class="b17"/><stop offset=".90792" class="b18"/><stop offset=".91160" class="b4"/><stop offset=".91254" class="b0"/><stop offset=".91254" class="r0"/><stop offset=".91529" class="r11"/><stop offset=".91897" class="r13"/><stop offset=".92265" class="r2"/><stop offset=".92317" class="r0"/><stop offset=".92317" class="b0"/><stop offset=".92634" class="b10"/><stop offset=".93002" class="b11"/><stop offset=".93370" class="b3"/><stop offset=".93569" class="b0"/><stop offset=".93569" class="r0"/><stop offset=".93739" class="r3"/><stop offset=".94107" class="r1"/><stop offset=".94330" class="r0"/><stop offset=".94330" class="b0"/><stop offset=".94475" class="b1"/><stop offset=".94843" class="b0"/><stop offset=".95212" class="b0"/><stop offset=".95580" class="b1"/><stop offset=".95948" class="b1"/><stop offset=".96317" class="b1"/><stop offset="1.00000" class="b1"/></radialGradient><radialGradient id="R14" gradientUnits="userSpaceOnUse" cx="17.8" cy="340.4" r="1043.4"><stop offset=".65378" class="b1"/><stop offset=".73849" class="b1"/><stop offset=".74101" class="b0"/><stop offset=".74101" class="r0"/><stop offset=".74217" class="r0"/><stop offset=".74264" class="r0"/><stop offset=".74264" class="b0"/><stop offset=".74586" class="b2"/><stop offset=".74954" class="b6"/><stop offset=".75322" class="b5"/><stop offset=".75624" class="b0"/><stop offset=".75624" class="r0"/><stop offset=".75691" class="r1"/><stop offset=".76059" class="r8"/><stop offset=".76427" class="r6"/><stop offset=".76652" class="r0"/><stop offset=".76652" class="b0"/><stop offset=".76796" class="b4"/><stop offset=".77164" class="b14"/><stop offset=".77532" class="b12"/><stop offset=".77832" class="b0"/><stop offset=".77832" class="r0"/><stop offset=".77901" class="r3"/><stop offset=".78269" class="r16"/><stop offset=".78637" class="r14"/><stop offset=".78906" class="r0"/><stop offset=".78906" class="b0"/><stop offset=".79006" class="b5"/><stop offset=".79374" class="b23"/><stop offset=".79742" class="b21"/><stop offset=".80059" class="b0"/><stop offset=".80059" class="r0"/><stop offset=".80111" class="r3"/><stop offset=".80479" class="r26"/><stop offset=".80847" class="r23"/><stop offset=".81149" class="r0"/><stop offset=".81149" class="b0"/><stop offset=".81216" class="b5"/><stop offset=".81584" class="b31"/><stop offset=".81952" class="b28"/><stop offset=".82293" class="b0"/><stop offset=".82293" class="r0"/><stop offset=".82320" class="r2"/><stop offset=".82689" class="r31"/><stop offset=".83057" class="r29"/><stop offset=".83388" class="r0"/><stop offset=".83388" class="b0"/><stop offset=".83425" class="b3"/><stop offset=".83794" class="b33"/><stop offset=".84162" class="b31"/><stop offset=".84530" class="b0"/><stop offset=".84530" class="r0"/><stop offset=".84530" class="r0"/><stop offset=".84899" class="r29"/><stop offset=".85267" class="r28"/><stop offset=".85624" class="r0"/><stop offset=".85624" class="b0"/><stop offset=".85635" class="b1"/><stop offset=".86004" class="b29"/><stop offset=".86372" class="b29"/><stop offset=".86740" class="b2"/><stop offset=".86770" class="b0"/><stop offset=".86770" class="r0"/><stop offset=".87109" class="r24"/><stop offset=".87477" class="r25"/><stop offset=".87845" class="r1"/><stop offset=".87859" class="r0"/><stop offset=".87859" class="b0"/><stop offset=".88214" class="b23"/><stop offset=".88582" class="b24"/><stop offset=".88950" class="b3"/><stop offset=".89011" class="b0"/><stop offset=".89011" class="r0"/><stop offset=".89319" class="r17"/><stop offset=".89687" class="r18"/><stop offset=".90055" class="r2"/><stop offset=".90090" class="r0"/><stop offset=".90090" class="b0"/><stop offset=".90424" class="b15"/><stop offset=".90792" class="b17"/><stop offset=".91160" class="b4"/><stop offset=".91257" class="b0"/><stop offset=".91257" class="r0"/><stop offset=".91529" class="r10"/><stop offset=".91897" class="r12"/><stop offset=".92265" class="r1"/><stop offset=".92323" class="r0"/><stop offset=".92323" class="b0"/><stop offset=".92634" class="b8"/><stop offset=".93002" class="b6"/><stop offset=".93370" class="b2"/><stop offset=".93739" class="b3"/><stop offset=".94107" class="b2"/><stop offset=".94475" class="b1"/><stop offset=".94783" class="b0"/><stop offset=".94783" class="r0"/><stop offset=".94843" class="r0"/><stop offset=".94962" class="r0"/><stop offset=".94962" class="b0"/><stop offset=".95212" class="b0"/><stop offset=".95580" class="b1"/><stop offset=".95948" class="b1"/><stop offset=".96317" class="b1"/><stop offset="1.00000" class="b1"/></radialGradient><radialGradient id="R15" gradientUnits="userSpaceOnUse" cx="17.8" cy="340.4" r="1043.4"><stop offset=".65378" class="b1"/><stop offset=".73481" class="b1"/><stop offset=".73849" class="b2"/><stop offset=".74217" class="b1"/><stop offset=".74586" class="b0"/><stop offset=".74954" class="b0"/><stop offset=".75322" class="b2"/><stop offset=".75691" class="b1"/><stop offset=".75763" class="b0"/><stop offset=".75763" class="r0"/><stop offset=".76059" class="r4"/><stop offset=".76427" class="r4"/><stop offset=".76637" class="r0"/><stop offset=".76637" class="b0"/><stop offset=".76796" class="b3"/><stop offset=".77164" class="b12"/><stop offset=".77532" class="b10"/><stop offset=".77836" class="b0"/><stop offset=".77836" class="r0"/><stop offset=".77901" class="r2"/><stop offset=".78269" class="r14"/><stop offset=".78637" class="r12"/><stop offset=".78903" class="r0"/><stop offset=".78903" class="b0"/><stop offset=".79006" class="b5"/><stop offset=".79374" class="b20"/><stop offset=".79742" class="b18"/><stop offset=".80062" class="b0"/><stop offset=".80062" class="r0"/><stop offset=".80111" class="r3"/><stop offset=".80479" class="r22"/><stop offset=".80847" class="r20"/><stop offset=".81147" class="r0"/><stop offset=".81147" class="b0"/><stop offset=".81216" class="b4"/><stop offset=".81584" class="b27"/><stop offset=".81952" class="b25"/><stop offset=".82295" class="b0"/><stop offset=".82295" class="r0"/><stop offset=".82320" class="r2"/><stop offset=".82689" class="r27"/><stop offset=".83057" class="r25"/><stop offset=".83386" class="r0"/><stop offset=".83386" class="b0"/><stop offset=".83425" class="b3"/><stop offset=".83794" class="b29"/><stop offset=".84162" class="b27"/><stop offset=".84530" class="b0"/><stop offset=".84532" class="b0"/><stop offset=".84532" class="r0"/><stop offset=".84899" class="r26"/><stop offset=".85267" class="r25"/><stop offset=".85622" class="r0"/><stop offset=".85622" class="b0"/><stop offset=".85635" class="b1"/><stop offset=".86004" class="b26"/><stop offset=".86372" class="b25"/><stop offset=".86740" class="b2"/><stop offset=".86772" class="b0"/><stop offset=".86772" class="r0"/><stop offset=".87109" class="r21"/><stop offset=".87477" class="r21"/><stop offset=".87845" class="r1"/><stop offset=".87857" class="r0"/><stop offset=".87857" class="b0"/><stop offset=".88214" class="b20"/><stop offset=".88582" class="b21"/><stop offset=".88950" class="b3"/><stop offset=".89014" class="b0"/><stop offset=".89014" class="r0"/><stop offset=".89319" class="r15"/><stop offset=".89687" class="r16"/><stop offset=".90055" class="r1"/><stop offset=".90089" class="r0"/><stop offset=".90089" class="b0"/><stop offset=".90424" class="b13"/><stop offset=".90792" class="b14"/><stop offset=".91160" class="b3"/><stop offset=".91404" class="b0"/><stop offset=".91404" class="r0"/><stop offset=".91529" class="r2"/><stop offset=".91815" class="r0"/><stop offset=".91815" class="b0"/><stop offset=".91897" class="b1"/><stop offset=".92036" class="b0"/><stop offset=".92036" class="r0"/><stop offset=".92265" class="r1"/><stop offset=".92634" class="r4"/><stop offset=".93002" class="r2"/><stop offset=".93202" class="r0"/><stop offset=".93202" class="b0"/><stop offset=".93370" class="b2"/><stop offset=".93739" class="b4"/><stop offset=".94107" class="b3"/><stop offset=".94475" class="b1"/><stop offset=".94767" class="b0"/><stop offset=".94767" class="r0"/><stop offset=".94843" class="r0"/><stop offset=".94996" class="r0"/><stop offset=".94996" class="b0"/><stop offset=".95212" class="b0"/><stop offset=".95580" class="b1"/><stop offset=".95948" class="b2"/><stop offset=".96317" class="b1"/><stop offset="1.00000" class="b1"/></radialGradient><radialGradient id="R16" gradientUnits="userSpaceOnUse" cx="17.8" cy="340.4" r="1043.4"><stop offset=".65378" class="b1"/><stop offset=".73481" class="b1"/><stop offset=".73849" class="b2"/><stop offset=".74217" class="b1"/><stop offset=".74586" class="b0"/><stop offset=".74767" class="b0"/><stop offset=".74767" class="r0"/><stop offset=".74954" class="r0"/><stop offset=".75097" class="r0"/><stop offset=".75097" class="b0"/><stop offset=".75322" class="b0"/><stop offset=".75691" class="b3"/><stop offset=".76059" class="b4"/><stop offset=".76427" class="b2"/><stop offset=".76619" class="b0"/><stop offset=".76619" class="r0"/><stop offset=".76796" class="r2"/><stop offset=".77164" class="r4"/><stop offset=".77532" class="r0"/><stop offset=".77563" class="r0"/><stop offset=".77563" class="b0"/><stop offset=".77901" class="b5"/><stop offset=".78269" class="b3"/><stop offset=".78448" class="b0"/><stop offset=".78448" class="r0"/><stop offset=".78637" class="r3"/><stop offset=".78931" class="r0"/><stop offset=".78931" class="b0"/><stop offset=".79006" class="b1"/><stop offset=".79374" class="b11"/><stop offset=".79742" class="b13"/><stop offset=".80079" class="b0"/><stop offset=".80079" class="r0"/><stop offset=".80111" class="r1"/><stop offset=".80479" class="r16"/><stop offset=".80847" class="r15"/><stop offset=".81145" class="r0"/><stop offset=".81145" class="b0"/><stop offset=".81216" class="b4"/><stop offset=".81584" class="b22"/><stop offset=".81952" class="b20"/><stop offset=".82299" class="b0"/><stop offset=".82299" class="r0"/><stop offset=".82320" class="r1"/><stop offset=".82689" class="r22"/><stop offset=".83057" class="r20"/><stop offset=".83384" class="r0"/><stop offset=".83384" class="b0"/><stop offset=".83425" class="b3"/><stop offset=".83794" class="b24"/><stop offset=".84162" class="b22"/><stop offset=".84530" class="b0"/><stop offset=".84536" class="b0"/><stop offset=".84536" class="r0"/><stop offset=".84899" class="r21"/><stop offset=".85267" class="r20"/><stop offset=".85621" class="r0"/><stop offset=".85621" class="b0"/><stop offset=".85635" class="b1"/><stop offset=".86004" class="b21"/><stop offset=".86372" class="b21"/><stop offset=".86740" class="b2"/><stop offset=".86783" class="b0"/><stop offset=".86783" class="r0"/><stop offset=".87109" class="r15"/><stop offset=".87477" class="r15"/><stop offset=".87845" class="r1"/><stop offset=".87882" class="r0"/><stop offset=".87882" class="b0"/><stop offset=".88214" class="b10"/><stop offset=".88582" class="b9"/><stop offset=".88950" class="b5"/><stop offset=".89319" class="b8"/><stop offset=".89687" class="b7"/><stop offset=".89928" class="b0"/><stop offset=".89928" class="r0"/><stop offset=".90055" class="r4"/><stop offset=".90424" class="r13"/><stop offset=".90792" class="r8"/><stop offset=".91031" class="r0"/><stop offset=".91031" class="b0"/><stop offset=".91160" class="b4"/><stop offset=".91529" class="b11"/><stop offset=".91897" class="b7"/><stop offset=".92229" class="b0"/><stop offset=".92229" class="r0"/><stop offset=".92265" class="r1"/><stop offset=".92634" class="r5"/><stop offset=".93002" class="r3"/><stop offset=".93216" class="r0"/><stop offset=".93216" class="b0"/><stop offset=".93370" class="b2"/><stop offset=".93739" class="b4"/><stop offset=".94107" class="b3"/><stop offset=".94475" class="b1"/><stop offset=".94751" class="b0"/><stop offset=".94751" class="r0"/><stop offset=".94843" class="r0"/><stop offset=".95028" class="r0"/><stop offset=".95028" class="b0"/><stop offset=".95212" class="b0"/><stop offset=".95580" class="b1"/><stop offset=".95948" class="b2"/><stop offset=".96317" class="b1"/><stop offset="1.00000" class="b1"/></radialGradient><radialGradient id="R17" gradientUnits="userSpaceOnUse" cx="17.8" cy="340.4" r="1043.4"><stop offset=".65378" class="b1"/><stop offset=".73481" class="b1"/><stop offset=".73849" class="b2"/><stop offset=".74217" class="b1"/><stop offset=".74586" class="b0"/><stop offset=".74798" class="b0"/><stop offset=".74798" class="r0"/><stop offset=".74954" class="r0"/><stop offset=".75074" class="r0"/><stop offset=".75074" class="b0"/><stop offset=".75322" class="b1"/><stop offset=".75691" class="b2"/><stop offset=".76059" class="b4"/><stop offset=".76427" class="b2"/><stop offset=".76619" class="b0"/><stop offset=".76619" class="r0"/><stop offset=".76796" class="r2"/><stop offset=".77164" class="r5"/><stop offset=".77532" class="r2"/><stop offset=".77605" class="r0"/><stop offset=".77605" class="b0"/><stop offset=".77901" class="b6"/><stop offset=".78269" class="b11"/><stop offset=".78637" class="b6"/><stop offset=".78799" class="b0"/><stop offset=".78799" class="r0"/><stop offset=".79006" class="r7"/><stop offset=".79374" class="r15"/><stop offset=".79742" class="r6"/><stop offset=".79871" class="r0"/><stop offset=".79871" class="b0"/><stop offset=".80111" class="b11"/><stop offset=".80479" class="b20"/><stop offset=".80847" class="b10"/><stop offset=".81028" class="b0"/><stop offset=".81028" class="r0"/><stop offset=".81216" class="r10"/><stop offset=".81584" class="r20"/><stop offset=".81952" class="r9"/><stop offset=".82109" class="r0"/><stop offset=".82109" class="b0"/><stop offset=".82320" class="b12"/><stop offset=".82689" class="b23"/><stop offset=".83057" class="b12"/><stop offset=".83257" class="b0"/><stop offset=".83257" class="r0"/><stop offset=".83425" class="r10"/><stop offset=".83794" class="r21"/><stop offset=".84162" class="r11"/><stop offset=".84339" class="r0"/><stop offset=".84339" class="b0"/><stop offset=".84530" class="b11"/><stop offset=".84899" class="b23"/><stop offset=".85267" class="b13"/><stop offset=".85489" class="b0"/><stop offset=".85489" class="r0"/><stop offset=".85635" class="r9"/><stop offset=".86004" class="r22"/><stop offset=".86372" class="r12"/><stop offset=".86574" class="r0"/><stop offset=".86574" class="b0"/><stop offset=".86740" class="b10"/><stop offset=".87109" class="b24"/><stop offset=".87477" class="b15"/><stop offset=".87724" class="b0"/><stop offset=".87724" class="r0"/><stop offset=".87845" class="r7"/><stop offset=".88214" class="r21"/><stop offset=".88582" class="r13"/><stop offset=".88808" class="r0"/><stop offset=".88808" class="b0"/><stop offset=".88950" class="b8"/><stop offset=".89319" class="b21"/><stop offset=".89687" class="b13"/><stop offset=".89965" class="b0"/><stop offset=".89965" class="r0"/><stop offset=".90055" class="r4"/><stop offset=".90424" class="r15"/><stop offset=".90792" class="r9"/><stop offset=".91037" class="r0"/><stop offset=".91037" class="b0"/><stop offset=".91160" class="b5"/><stop offset=".91529" class="b12"/><stop offset=".91897" class="b8"/><stop offset=".92227" class="b0"/><stop offset=".92227" class="r0"/><stop offset=".92265" class="r1"/><stop offset=".92634" class="r5"/><stop offset=".93002" class="r3"/><stop offset=".93220" class="r0"/><stop offset=".93220" class="b0"/><stop offset=".93370" class="b2"/><stop offset=".93739" class="b4"/><stop offset=".94107" class="b3"/><stop offset=".94475" class="b1"/><stop offset=".94732" class="b0"/><stop offset=".94732" class="r0"/><stop offset=".94843" class="r0"/><stop offset=".95067" class="r0"/><stop offset=".95067" class="b0"/><stop offset=".95212" class="b0"/><stop offset=".95580" class="b1"/><stop offset=".95948" class="b2"/><stop offset=".96317" class="b1"/><stop offset="1.00000" class="b1"/></radialGradient><radialGradient id="R18" gradientUnits="userSpaceOnUse" cx="17.8" cy="340.4" r="1043.4"><stop offset=".65378" class="b1"/><stop offset=".73481" class="b1"/><stop offset=".73849" class="b1"/><stop offset=".74217" class="b1"/><stop offset=".74586" class="b0"/><stop offset=".74839" class="b0"/><stop offset=".74839" class="r0"/><stop offset=".74954" class="r0"/><stop offset=".75042" class="r0"/><stop offset=".75042" class="b0"/><stop offset=".75322" class="b1"/><stop offset=".75691" class="b2"/><stop offset=".76059" class="b4"/><stop offset=".76427" class="b2"/><stop offset=".76624" class="b0"/><stop offset=".76624" class="r0"/><stop offset=".76796" class="r2"/><stop offset=".77164" class="r5"/><stop offset=".77532" class="r1"/><stop offset=".77603" class="r0"/><stop offset=".77603" class="b0"/><stop offset=".77901" class="b6"/><stop offset=".78269" class="b11"/><stop offset=".78637" class="b6"/><stop offset=".78800" class="b0"/><stop offset=".78800" class="r0"/><stop offset=".79006" class="r7"/><stop offset=".79374" class="r14"/><stop offset=".79742" class="r6"/><stop offset=".79870" class="r0"/><stop offset=".79870" class="b0"/><stop offset=".80111" class="b11"/><stop offset=".80479" class="b20"/><stop offset=".80847" class="b10"/><stop offset=".81028" class="b0"/><stop offset=".81028" class="r0"/><stop offset=".81216" class="r10"/><stop offset=".81584" class="r21"/><stop offset=".81952" class="r10"/><stop offset=".82111" class="r0"/><stop offset=".82111" class="b0"/><stop offset=".82320" class="b13"/><stop offset=".82689" class="b24"/><stop offset=".83057" class="b13"/><stop offset=".83260" class="b0"/><stop offset=".83260" class="r0"/><stop offset=".83425" class="r10"/><stop offset=".83794" class="r23"/><stop offset=".84162" class="r12"/><stop offset=".84344" class="r0"/><stop offset=".84344" class="b0"/><stop offset=".84530" class="b12"/><stop offset=".84899" class="b25"/><stop offset=".85267" class="b14"/><stop offset=".85492" class="b0"/><stop offset=".85492" class="r0"/><stop offset=".85635" class="r9"/><stop offset=".86004" class="r23"/><stop offset=".86372" class="r13"/><stop offset=".86576" class="r0"/><stop offset=".86576" class="b0"/><stop offset=".86740" class="b10"/><stop offset=".87109" class="b24"/><stop offset=".87477" class="b15"/><stop offset=".87725" class="b0"/><stop offset=".87725" class="r0"/><stop offset=".87845" class="r7"/><stop offset=".88214" class="r21"/><stop offset=".88582" class="r13"/><stop offset=".88808" class="r0"/><stop offset=".88808" class="b0"/><stop offset=".88950" class="b8"/><stop offset=".89319" class="b21"/><stop offset=".89687" class="b14"/><stop offset=".89964" class="b0"/><stop offset=".89964" class="r0"/><stop offset=".90055" class="r4"/><stop offset=".90424" class="r15"/><stop offset=".90792" class="r9"/><stop offset=".91037" class="r0"/><stop offset=".91037" class="b0"/><stop offset=".91160" class="b5"/><stop offset=".91529" class="b12"/><stop offset=".91897" class="b8"/><stop offset=".92225" class="b0"/><stop offset=".92225" class="r0"/><stop offset=".92265" class="r1"/><stop offset=".92634" class="r5"/><stop offset=".93002" class="r3"/><stop offset=".93224" class="r0"/><stop offset=".93224" class="b0"/><stop offset=".93370" class="b2"/><stop offset=".93739" class="b4"/><stop offset=".94107" class="b3"/><stop offset=".94475" class="b1"/><stop offset=".94709" class="b0"/><stop offset=".94709" class="r0"/><stop offset=".94843" class="r0"/><stop offset=".95112" class="r0"/><stop offset=".95112" class="b0"/><stop offset=".95212" class="b0"/><stop offset=".95580" class="b1"/><stop offset=".95948" class="b2"/><stop offset=".96317" class="b1"/><stop offset="1.00000" class="b1"/></radialGradient><radialGradient id="R19" gradientUnits="userSpaceOnUse" cx="17.8" cy="340.4" r="1043.4"><stop offset=".65378" class="b1"/><stop offset=".73481" class="b1"/><stop offset=".73849" class="b2"/><stop offset=".74217" class="b1"/><stop offset=".74586" class="b0"/><stop offset=".74724" class="b0"/><stop offset=".74724" class="r0"/><stop offset=".74954" class="r0"/><stop offset=".75130" class="r0"/><stop offset=".75130" class="b0"/><stop offset=".75322" class="b0"/><stop offset=".75691" class="b3"/><stop offset=".76059" class="b4"/><stop offset=".76427" class="b2"/><stop offset=".76612" class="b0"/><stop offset=".76612" class="r0"/><stop offset=".76796" class="r2"/><stop offset=".77164" class="r5"/><stop offset=".77532" class="r2"/><stop offset=".77609" class="r0"/><stop offset=".77609" class="b0"/><stop offset=".77901" class="b7"/><stop offset=".78269" class="b12"/><stop offset=".78637" class="b6"/><stop offset=".78800" class="b0"/><stop offset=".78800" class="r0"/><stop offset=".79006" class="r8"/><stop offset=".79374" class="r15"/><stop offset=".79742" class="r6"/><stop offset=".79872" class="r0"/><stop offset=".79872" class="b0"/><stop offset=".80111" class="b11"/><stop offset=".80479" class="b20"/><stop offset=".80847" class="b10"/><stop offset=".81029" class="b0"/><stop offset=".81029" class="r0"/><stop offset=".81216" class="r10"/><stop offset=".81584" class="r20"/><stop offset=".81952" class="r9"/><stop offset=".82111" class="r0"/><stop offset=".82111" class="b0"/><stop offset=".82320" class="b12"/><stop offset=".82689" class="b23"/><stop offset=".83057" class="b12"/><stop offset=".83261" class="b0"/><stop offset=".83261" class="r0"/><stop offset=".83425" class="r10"/><stop offset=".83794" class="r22"/><stop offset=".84162" class="r11"/><stop offset=".84344" class="r0"/><stop offset=".84344" class="b0"/><stop offset=".84530" class="b11"/><stop offset=".84899" class="b24"/><stop offset=".85267" class="b14"/><stop offset=".85492" class="b0"/><stop offset=".85492" class="r0"/><stop offset=".85635" class="r9"/><stop offset=".86004" class="r22"/><stop offset=".86372" class="r12"/><stop offset=".86575" class="r0"/><stop offset=".86575" class="b0"/><stop offset=".86740" class="b10"/><stop offset=".87109" class="b23"/><stop offset=".87477" class="b14"/><stop offset=".87725" class="b0"/><stop offset=".87725" class="r0"/><stop offset=".87845" class="r7"/><stop offset=".88214" class="r20"/><stop offset=".88582" class="r12"/><stop offset=".88807" class="r0"/><stop offset=".88807" class="b0"/><stop offset=".88950" class="b8"/><stop offset=".89319" class="b20"/><stop offset=".89687" class="b13"/><stop offset=".89965" class="b0"/><stop offset=".89965" class="r0"/><stop offset=".90055" class="r4"/><stop offset=".90424" class="r14"/><stop offset=".90792" class="r9"/><stop offset=".91036" class="r0"/><stop offset=".91036" class="b0"/><stop offset=".91160" class="b4"/><stop offset=".91529" class="b12"/><stop offset=".91897" class="b8"/><stop offset=".92226" class="b0"/><stop offset=".92226" class="r0"/><stop offset=".92265" class="r1"/><stop offset=".92634" class="r5"/><stop offset=".93002" class="r3"/><stop offset=".93221" class="r0"/><stop offset=".93221" class="b0"/><stop offset=".93370" class="b2"/><stop offset=".93739" class="b4"/><stop offset=".94107" class="b3"/><stop offset=".94475" class="b1"/><stop offset=".94720" class="b0"/><stop offset=".94720" class="r0"/><stop offset=".94843" class="r0"/><stop offset=".95090" class="r0"/><stop offset=".95090" class="b0"/><stop offset=".95212" class="b0"/><stop offset=".95580" class="b1"/><stop offset=".95948" class="b2"/><stop offset=".96317" class="b1"/><stop offset="1.00000" class="b1"/></radialGradient><radialGradient id="R20" gradientUnits="userSpaceOnUse" cx="17.8" cy="340.4" r="1043.4"><stop offset=".65378" class="b1"/><stop offset=".72376" class="b1"/><stop offset=".72744" class="b0"/><stop offset=".73112" class="b1"/><stop offset=".73481" class="b2"/><stop offset=".73849" class="b2"/><stop offset=".74217" class="b1"/><stop offset=".74479" class="b0"/><stop offset=".74479" class="r0"/><stop offset=".74586" class="r1"/><stop offset=".74954" class="r2"/><stop offset=".75322" class="r0"/><stop offset=".75333" class="r0"/><stop offset=".75333" class="b0"/><stop offset=".75691" class="b4"/><stop offset=".76059" class="b7"/><stop offset=".76427" class="b3"/><stop offset=".76585" class="b0"/><stop offset=".76585" class="r0"/><stop offset=".76796" class="r4"/><stop offset=".77164" class="r9"/><stop offset=".77532" class="r3"/><stop offset=".77627" class="r0"/><stop offset=".77627" class="b0"/><stop offset=".77901" class="b9"/><stop offset=".78269" class="b15"/><stop offset=".78637" class="b7"/><stop offset=".78802" class="b0"/><stop offset=".78802" class="r0"/><stop offset=".79006" class="r8"/><stop offset=".79374" class="r15"/><stop offset=".79742" class="r6"/><stop offset=".79874" class="r0"/><stop offset=".79874" class="b0"/><stop offset=".80111" class="b11"/><stop offset=".80479" class="b19"/><stop offset=".80847" class="b9"/><stop offset=".81033" class="b0"/><stop offset=".81033" class="r0"/><stop offset=".81216" class="r9"/><stop offset=".81584" class="r18"/><stop offset=".81952" class="r8"/><stop offset=".82109" class="r0"/><stop offset=".82109" class="b0"/><stop offset=".82320" class="b11"/><stop offset=".82689" class="b20"/><stop offset=".83057" class="b11"/><stop offset=".83264" class="b0"/><stop offset=".83264" class="r0"/><stop offset=".83425" class="r8"/><stop offset=".83794" class="r18"/><stop offset=".84162" class="r9"/><stop offset=".84341" class="r0"/><stop offset=".84341" class="b0"/><stop offset=".84530" class="b10"/><stop offset=".84899" class="b20"/><stop offset=".85267" class="b12"/><stop offset=".85496" class="b0"/><stop offset=".85496" class="r0"/><stop offset=".85635" class="r7"/><stop offset=".86004" class="r18"/><stop offset=".86372" class="r10"/><stop offset=".86572" class="r0"/><stop offset=".86572" class="b0"/><stop offset=".86740" class="b8"/><stop offset=".87109" class="b19"/><stop offset=".87477" class="b12"/><stop offset=".87729" class="b0"/><stop offset=".87729" class="r0"/><stop offset=".87845" class="r6"/><stop offset=".88214" class="r17"/><stop offset=".88582" class="r10"/><stop offset=".88804" class="r0"/><stop offset=".88804" class="b0"/><stop offset=".88950" class="b7"/><stop offset=".89319" class="b17"/><stop offset=".89687" class="b11"/><stop offset=".89970" class="b0"/><stop offset=".89970" class="r0"/><stop offset=".90055" class="r3"/><stop offset=".90424" class="r12"/><stop offset=".90792" class="r7"/><stop offset=".91030" class="r0"/><stop offset=".91030" class="b0"/><stop offset=".91160" class="b4"/><stop offset=".91529" class="b10"/><stop offset=".91897" class="b6"/><stop offset=".92237" class="b0"/><stop offset=".92237" class="r0"/><stop offset=".92265" class="r1"/><stop offset=".92634" class="r4"/><stop offset=".93002" class="r2"/><stop offset=".93201" class="r0"/><stop offset=".93201" class="b0"/><stop offset=".93370" class="b2"/><stop offset=".93739" class="b3"/><stop offset=".94107" class="b2"/><stop offset=".94475" class="b1"/><stop offset=".94818" class="b0"/><stop offset=".94818" class="r0"/><stop offset=".94843" class="r0"/><stop offset=".94894" class="r0"/><stop offset=".94894" class="b0"/><stop offset=".95212" class="b0"/><stop offset=".95580" class="b1"/><stop offset=".95948" class="b1"/><stop offset=".96317" class="b1"/><stop offset="1.00000" class="b1"/></radialGradient><radialGradient id="R21" gradientUnits="userSpaceOnUse" cx="17.8" cy="340.4" r="1043.4"><stop offset=".65378" class="b1"/><stop offset=".72007" class="b1"/><stop offset=".72376" class="b1"/><stop offset=".72744" class="b0"/><stop offset=".73112" class="b1"/><stop offset=".73481" class="b2"/><stop offset=".73849" class="b3"/><stop offset=".74217" class="b2"/><stop offset=".74451" class="b0"/><stop offset=".74451" class="r0"/><stop offset=".74586" class="r1"/><stop offset=".74954" class="r2"/><stop offset=".75322" class="r0"/><stop offset=".75345" class="r0"/><stop offset=".75345" class="b0"/><stop offset=".75691" class="b5"/><stop offset=".76059" class="b7"/><stop offset=".76427" class="b4"/><stop offset=".76584" class="b0"/><stop offset=".76584" class="r0"/><stop offset=".76796" class="r5"/><stop offset=".77164" class="r9"/><stop offset=".77532" class="r3"/><stop offset=".77628" class="r0"/><stop offset=".77628" class="b0"/><stop offset=".77901" class="b9"/><stop offset=".78269" class="b14"/><stop offset=".78637" class="b6"/><stop offset=".78805" class="b0"/><stop offset=".78805" class="r0"/><stop offset=".79006" class="r8"/><stop offset=".79374" class="r14"/><stop offset=".79742" class="r5"/><stop offset=".79873" class="r0"/><stop offset=".79873" class="b0"/><stop offset=".80111" class="b10"/><stop offset=".80479" class="b17"/><stop offset=".80847" class="b8"/><stop offset=".81036" class="b0"/><stop offset=".81036" class="r0"/><stop offset=".81216" class="r8"/><stop offset=".81584" class="r15"/><stop offset=".81952" class="r7"/><stop offset=".82106" class="r0"/><stop offset=".82106" class="b0"/><stop offset=".82320" class="b9"/><stop offset=".82689" class="b18"/><stop offset=".83057" class="b9"/><stop offset=".83267" class="b0"/><stop offset=".83267" class="r0"/><stop offset=".83425" class="r7"/><stop offset=".83794" class="r16"/><stop offset=".84162" class="r8"/><stop offset=".84338" class="r0"/><stop offset=".84338" class="b0"/><stop offset=".84530" class="b9"/><stop offset=".84899" class="b18"/><stop offset=".85267" class="b10"/><stop offset=".85499" class="b0"/><stop offset=".85499" class="r0"/><stop offset=".85635" class="r6"/><stop offset=".86004" class="r15"/><stop offset=".86372" class="r9"/><stop offset=".86569" class="r0"/><stop offset=".86569" class="b0"/><stop offset=".86740" class="b7"/><stop offset=".87109" class="b17"/><stop offset=".87477" class="b11"/><stop offset=".87732" class="b0"/><stop offset=".87732" class="r0"/><stop offset=".87845" class="r5"/><stop offset=".88214" class="r14"/><stop offset=".88582" class="r9"/><stop offset=".88800" class="r0"/><stop offset=".88800" class="b0"/><stop offset=".88950" class="b6"/><stop offset=".89319" class="b15"/><stop offset=".89687" class="b10"/><stop offset=".89972" class="b0"/><stop offset=".89972" class="r0"/><stop offset=".90055" class="r3"/><stop offset=".90424" class="r11"/><stop offset=".90792" class="r6"/><stop offset=".91027" class="r0"/><stop offset=".91027" class="b0"/><stop offset=".91160" class="b4"/><stop offset=".91529" class="b9"/><stop offset=".91897" class="b6"/><stop offset=".92238" class="b0"/><stop offset=".92238" class="r0"/><stop offset=".92265" class="r0"/><stop offset=".92634" class="r4"/><stop offset=".93002" class="r2"/><stop offset=".93201" class="r0"/><stop offset=".93201" class="b0"/><stop offset=".93370" class="b2"/><stop offset=".93739" class="b3"/><stop offset=".94107" class="b2"/><stop offset=".94475" class="b1"/><stop offset=".94802" class="b0"/><stop offset=".94802" class="r0"/><stop offset=".94843" class="r0"/><stop offset=".94926" class="r0"/><stop offset=".94926" class="b0"/><stop offset=".95212" class="b0"/><stop offset=".95580" class="b1"/><stop offset=".95948" class="b1"/><stop offset=".96317" class="b1"/><stop offset="1.00000" class="b1"/></radialGradient><radialGradient id="R22" gradientUnits="userSpaceOnUse" cx="17.8" cy="340.4" r="1043.4"><stop offset=".65378" class="b1"/><stop offset=".72376" class="b1"/><stop offset=".72744" class="b1"/><stop offset=".73112" class="b1"/><stop offset=".73481" class="b2"/><stop offset=".73849" class="b2"/><stop offset=".74217" class="b1"/><stop offset=".74524" class="b0"/><stop offset=".74524" class="r0"/><stop offset=".74586" class="r0"/><stop offset=".74954" class="r1"/><stop offset=".75296" class="r0"/><stop offset=".75296" class="b0"/><stop offset=".75322" class="b0"/><stop offset=".75691" class="b4"/><stop offset=".76059" class="b6"/><stop offset=".76427" class="b3"/><stop offset=".76595" class="b0"/><stop offset=".76595" class="r0"/><stop offset=".76796" class="r3"/><stop offset=".77164" class="r7"/><stop offset=".77532" class="r2"/><stop offset=".77619" class="r0"/><stop offset=".77619" class="b0"/><stop offset=".77901" class="b7"/><stop offset=".78269" class="b12"/><stop offset=".78637" class="b6"/><stop offset=".78807" class="b0"/><stop offset=".78807" class="r0"/><stop offset=".79006" class="r7"/><stop offset=".79374" class="r13"/><stop offset=".79742" class="r5"/><stop offset=".79870" class="r0"/><stop offset=".79870" class="b0"/><stop offset=".80111" class="b9"/><stop offset=".80479" class="b16"/><stop offset=".80847" class="b8"/><stop offset=".81037" class="b0"/><stop offset=".81037" class="r0"/><stop offset=".81216" class="r7"/><stop offset=".81584" class="r15"/><stop offset=".81952" class="r6"/><stop offset=".82105" class="r0"/><stop offset=".82105" class="b0"/><stop offset=".82320" class="b9"/><stop offset=".82689" class="b17"/><stop offset=".83057" class="b9"/><stop offset=".83268" class="b0"/><stop offset=".83268" class="r0"/><stop offset=".83425" class="r7"/><stop offset=".83794" class="r15"/><stop offset=".84162" class="r8"/><stop offset=".84337" class="r0"/><stop offset=".84337" class="b0"/><stop offset=".84530" class="b8"/><stop offset=".84899" class="b17"/><stop offset=".85267" class="b10"/><stop offset=".85499" class="b0"/><stop offset=".85499" class="r0"/><stop offset=".85635" class="r6"/><stop offset=".86004" class="r15"/><stop offset=".86372" class="r8"/><stop offset=".86568" class="r0"/><stop offset=".86568" class="b0"/><stop offset=".86740" class="b7"/><stop offset=".87109" class="b17"/><stop offset=".87477" class="b11"/><stop offset=".87732" class="b0"/><stop offset=".87732" class="r0"/><stop offset=".87845" class="r5"/><stop offset=".88214" class="r14"/><stop offset=".88582" class="r9"/><stop offset=".88799" class="r0"/><stop offset=".88799" class="b0"/><stop offset=".88950" class="b6"/><stop offset=".89319" class="b15"/><stop offset=".89687" class="b10"/><stop offset=".89969" class="b0"/><stop offset=".89969" class="r0"/><stop offset=".90055" class="r3"/><stop offset=".90424" class="r11"/><stop offset=".90792" class="r7"/><stop offset=".91028" class="r0"/><stop offset=".91028" class="b0"/><stop offset=".91160" class="b4"/><stop offset=".91529" class="b11"/><stop offset=".91897" class="b7"/><stop offset=".92226" class="b0"/><stop offset=".92226" class="r0"/><stop offset=".92265" class="r1"/><stop offset=".92634" class="r5"/><stop offset=".93002" class="r3"/><stop offset=".93223" class="r0"/><stop offset=".93223" class="b0"/><stop offset=".93370" class="b2"/><stop offset=".93739" class="b4"/><stop offset=".94107" class="b3"/><stop offset=".94475" class="b1"/><stop offset=".94669" class="b0"/><stop offset=".94669" class="r0"/><stop offset=".94843" class="r1"/><stop offset=".95201" class="r0"/><stop offset=".95201" class="b0"/><stop offset=".95212" class="b0"/><stop offset=".95580" class="b1"/><stop offset=".95948" class="b2"/><stop offset=".96317" class="b1"/><stop offset=".96685" class="b1"/><stop offset="1.00000" class="b1"/></radialGradient><radialGradient id="R23" gradientUnits="userSpaceOnUse" cx="17.8" cy="340.4" r="1043.4"><stop offset=".65378" class="b1"/><stop offset=".73481" class="b1"/><stop offset=".73849" class="b2"/><stop offset=".74217" class="b1"/><stop offset=".74586" class="b0"/><stop offset=".74752" class="b0"/><stop offset=".74752" class="r0"/><stop offset=".74954" class="r0"/><stop offset=".75106" class="r0"/><stop offset=".75106" class="b0"/><stop offset=".75322" class="b0"/><stop offset=".75691" class="b3"/><stop offset=".76059" class="b4"/><stop offset=".76427" class="b2"/><stop offset=".76624" class="b0"/><stop offset=".76624" class="r0"/><stop offset=".76796" class="r2"/><stop offset=".77164" class="r4"/><stop offset=".77532" class="r1"/><stop offset=".77602" class="r0"/><stop offset=".77602" class="b0"/><stop offset=".77901" class="b6"/><stop offset=".78269" class="b10"/><stop offset=".78637" class="b5"/><stop offset=".78812" class="b0"/><stop offset=".78812" class="r0"/><stop offset=".79006" class="r5"/><stop offset=".79374" class="r10"/><stop offset=".79742" class="r4"/><stop offset=".79864" class="r0"/><stop offset=".79864" class="b0"/><stop offset=".80111" class="b8"/><stop offset=".80479" class="b14"/><stop offset=".80847" class="b7"/><stop offset=".81039" class="b0"/><stop offset=".81039" class="r0"/><stop offset=".81216" class="r6"/><stop offset=".81584" class="r13"/><stop offset=".81952" class="r6"/><stop offset=".82102" class="r0"/><stop offset=".82102" class="b0"/><stop offset=".82320" class="b8"/><stop offset=".82689" class="b15"/><stop offset=".83057" class="b8"/><stop offset=".83270" class="b0"/><stop offset=".83270" class="r0"/><stop offset=".83425" class="r6"/><stop offset=".83794" class="r14"/><stop offset=".84162" class="r7"/><stop offset=".84335" class="r0"/><stop offset=".84335" class="b0"/><stop offset=".84530" class="b8"/><stop offset=".84899" class="b16"/><stop offset=".85267" class="b9"/><stop offset=".85501" class="b0"/><stop offset=".85501" class="r0"/><stop offset=".85635" class="r5"/><stop offset=".86004" class="r13"/><stop offset=".86372" class="r8"/><stop offset=".86566" class="r0"/><stop offset=".86566" class="b0"/><stop offset=".86740" class="b7"/><stop offset=".87109" class="b15"/><stop offset=".87477" class="b10"/><stop offset=".87734" class="b0"/><stop offset=".87734" class="r0"/><stop offset=".87845" class="r4"/><stop offset=".88214" class="r13"/><stop offset=".88582" class="r8"/><stop offset=".88797" class="r0"/><stop offset=".88797" class="b0"/><stop offset=".88950" class="b6"/><stop offset=".89319" class="b15"/><stop offset=".89687" class="b10"/><stop offset=".89969" class="b0"/><stop offset=".89969" class="r0"/><stop offset=".90055" class="r3"/><stop offset=".90424" class="r11"/><stop offset=".90792" class="r7"/><stop offset=".91027" class="r0"/><stop offset=".91027" class="b0"/><stop offset=".91160" class="b4"/><stop offset=".91529" class="b11"/><stop offset=".91897" class="b8"/><stop offset=".92219" class="b0"/><stop offset=".92219" class="r0"/><stop offset=".92265" class="r1"/><stop offset=".92634" class="r6"/><stop offset=".93002" class="r4"/><stop offset=".93237" class="r0"/><stop offset=".93237" class="b0"/><stop offset=".93370" class="b2"/><stop offset=".93739" class="b5"/><stop offset=".94107" class="b4"/><stop offset=".94475" class="b0"/><stop offset=".94576" class="b0"/><stop offset=".94576" class="r0"/><stop offset=".94843" class="r1"/><stop offset=".95212" class="r0"/><stop offset=".95308" class="r0"/><stop offset=".95308" class="b0"/><stop offset=".95580" class="b1"/><stop offset=".95948" class="b2"/><stop offset=".96317" class="b2"/><stop offset=".96685" class="b1"/><stop offset=".97053" class="b1"/><stop offset=".97422" class="b1"/><stop offset="1.00000" class="b1"/></radialGradient><radialGradient id="R24" gradientUnits="userSpaceOnUse" cx="17.8" cy="340.4" r="1043.4"><stop offset=".65378" class="b1"/><stop offset=".74586" class="b1"/><stop offset=".74954" class="b0"/><stop offset=".75322" class="b1"/><stop offset=".75691" class="b2"/><stop offset=".76059" class="b3"/><stop offset=".76427" class="b2"/><stop offset=".76690" class="b0"/><stop offset=".76690" class="r0"/><stop offset=".76796" class="r1"/><stop offset=".77164" class="r2"/><stop offset=".77532" class="r0"/><stop offset=".77568" class="r0"/><stop offset=".77568" class="b0"/><stop offset=".77901" class="b4"/><stop offset=".78269" class="b7"/><stop offset=".78637" class="b4"/><stop offset=".78821" class="b0"/><stop offset=".78821" class="r0"/><stop offset=".79006" class="r4"/><stop offset=".79374" class="r8"/><stop offset=".79742" class="r3"/><stop offset=".79854" class="r0"/><stop offset=".79854" class="b0"/><stop offset=".80111" class="b7"/><stop offset=".80479" class="b12"/><stop offset=".80847" class="b6"/><stop offset=".81042" class="b0"/><stop offset=".81042" class="r0"/><stop offset=".81216" class="r6"/><stop offset=".81584" class="r11"/><stop offset=".81952" class="r5"/><stop offset=".82099" class="r0"/><stop offset=".82099" class="b0"/><stop offset=".82320" class="b8"/><stop offset=".82689" class="b14"/><stop offset=".83057" class="b8"/><stop offset=".83272" class="b0"/><stop offset=".83272" class="r0"/><stop offset=".83425" class="r5"/><stop offset=".83794" class="r12"/><stop offset=".84162" class="r6"/><stop offset=".84332" class="r0"/><stop offset=".84332" class="b0"/><stop offset=".84530" class="b7"/><stop offset=".84899" class="b14"/><stop offset=".85267" class="b9"/><stop offset=".85503" class="b0"/><stop offset=".85503" class="r0"/><stop offset=".85635" class="r5"/><stop offset=".86004" class="r12"/><stop offset=".86372" class="r7"/><stop offset=".86564" class="r0"/><stop offset=".86564" class="b0"/><stop offset=".86740" class="b6"/><stop offset=".87109" class="b14"/><stop offset=".87477" class="b9"/><stop offset=".87735" class="b0"/><stop offset=".87735" class="r0"/><stop offset=".87845" class="r4"/><stop offset=".88214" class="r12"/><stop offset=".88582" class="r8"/><stop offset=".88795" class="r0"/><stop offset=".88795" class="b0"/><stop offset=".88950" class="b5"/><stop offset=".89319" class="b14"/><stop offset=".89687" class="b10"/><stop offset=".89969" class="b0"/><stop offset=".89969" class="r0"/><stop offset=".90055" class="r3"/><stop offset=".90424" class="r11"/><stop offset=".90792" class="r7"/><stop offset=".91026" class="r0"/><stop offset=".91026" class="b0"/><stop offset=".91160" class="b4"/><stop offset=".91529" class="b12"/><stop offset=".91897" class="b9"/><stop offset=".92212" class="b0"/><stop offset=".92212" class="r0"/><stop offset=".92265" class="r1"/><stop offset=".92634" class="r8"/><stop offset=".93002" class="r5"/><stop offset=".93247" class="r0"/><stop offset=".93247" class="b0"/><stop offset=".93370" class="b3"/><stop offset=".93739" class="b7"/><stop offset=".94107" class="b5"/><stop offset=".94475" class="b0"/><stop offset=".94502" class="b0"/><stop offset=".94502" class="r0"/><stop offset=".94843" class="r2"/><stop offset=".95212" class="r1"/><stop offset=".95390" class="r0"/><stop offset=".95390" class="b0"/><stop offset=".95580" class="b1"/><stop offset=".95948" class="b3"/><stop offset=".96317" class="b2"/><stop offset=".96685" class="b1"/><stop offset=".97053" class="b0"/><stop offset=".97422" class="b0"/><stop offset=".97790" class="b1"/><stop offset="1.00000" class="b1"/></radialGradient>
</defs>
<rect width="1200" height="675" fill="#fff"/>
<text x="600" y="34" text-anchor="middle" class="ti">time = 126.0 fs</text>
<g clip-path="url(#clipL)"><g filter="url(#vb)"><rect x="140.1" y="91.61" width="366.8" height="34.98" fill="url(#L0)"/><rect x="140.1" y="126.29" width="366.8" height="32.09" fill="url(#L1)"/><rect x="140.1" y="158.08" width="366.8" height="32.09" fill="url(#L2)"/><rect x="140.1" y="189.87" width="366.8" height="32.09" fill="url(#L3)"/><rect x="140.1" y="221.66" width="366.8" height="32.09" fill="url(#L4)"/><rect x="140.1" y="253.45" width="366.8" height="11.86" fill="url(#L5)"/><rect x="140.1" y="265.01" width="366.8" height="11.86" fill="url(#L6)"/><rect x="140.1" y="276.57" width="366.8" height="11.86" fill="url(#L7)"/><rect x="140.1" y="288.13" width="366.8" height="11.86" fill="url(#L8)"/><rect x="140.1" y="299.69" width="366.8" height="11.86" fill="url(#L9)"/><rect x="140.1" y="311.25" width="366.8" height="11.86" fill="url(#L10)"/><rect x="140.1" y="322.81" width="366.8" height="11.86" fill="url(#L11)"/><rect x="140.1" y="334.37" width="366.8" height="11.86" fill="url(#L12)"/><rect x="140.1" y="345.93" width="366.8" height="11.86" fill="url(#L13)"/><rect x="140.1" y="357.49" width="366.8" height="11.86" fill="url(#L14)"/><rect x="140.1" y="369.05" width="366.8" height="11.86" fill="url(#L15)"/><rect x="140.1" y="380.61" width="366.8" height="11.86" fill="url(#L16)"/><rect x="140.1" y="392.17" width="366.8" height="11.86" fill="url(#L17)"/><rect x="140.1" y="403.73" width="366.8" height="11.86" fill="url(#L18)"/><rect x="140.1" y="415.29" width="366.8" height="11.86" fill="url(#L19)"/><rect x="140.1" y="426.85" width="366.8" height="32.09" fill="url(#L20)"/><rect x="140.1" y="458.64" width="366.8" height="32.09" fill="url(#L21)"/><rect x="140.1" y="490.43" width="366.8" height="32.09" fill="url(#L22)"/><rect x="140.1" y="522.22" width="366.8" height="32.09" fill="url(#L23)"/><rect x="140.1" y="554.01" width="366.8" height="34.98" fill="url(#L24)"/></g></g>
<use href="#scat" x="0.00"/>
<rect x="150.05" y="108.95" width="346.80" height="462.90" fill="none" stroke="#000" stroke-width="1.67"/>
<line x1="200.00" y1="571.85" x2="200.00" y2="579.15" stroke="#000" stroke-width="1.67"/>
<text x="200.00" y="603.85" text-anchor="middle" class="t">22.5</text>
<line x1="272.25" y1="571.85" x2="272.25" y2="579.15" stroke="#000" stroke-width="1.67"/>
<text x="272.25" y="603.85" text-anchor="middle" class="t">25.0</text>
<line x1="344.50" y1="571.85" x2="344.50" y2="579.15" stroke="#000" stroke-width="1.67"/>
<text x="344.50" y="603.85" text-anchor="middle" class="t">27.5</text>
<line x1="416.75" y1="571.85" x2="416.75" y2="579.15" stroke="#000" stroke-width="1.67"/>
<text x="416.75" y="603.85" text-anchor="middle" class="t">30.0</text>
<line x1="489.00" y1="571.85" x2="489.00" y2="579.15" stroke="#000" stroke-width="1.67"/>
<text x="489.00" y="603.85" text-anchor="middle" class="t">32.5</text>
<line x1="150.05" y1="572.30" x2="142.75" y2="572.30" stroke="#000" stroke-width="1.67"/>
<text x="135.45" y="580.30" text-anchor="end" class="t">-8</text>
<line x1="150.05" y1="514.44" x2="142.75" y2="514.44" stroke="#000" stroke-width="1.67"/>
<text x="135.45" y="522.44" text-anchor="end" class="t">-6</text>
<line x1="150.05" y1="456.57" x2="142.75" y2="456.57" stroke="#000" stroke-width="1.67"/>
<text x="135.45" y="464.57" text-anchor="end" class="t">-4</text>
<line x1="150.05" y1="398.71" x2="142.75" y2="398.71" stroke="#000" stroke-width="1.67"/>
<text x="135.45" y="406.71" text-anchor="end" class="t">-2</text>
<line x1="150.05" y1="340.85" x2="142.75" y2="340.85" stroke="#000" stroke-width="1.67"/>
<text x="135.45" y="348.85" text-anchor="end" class="t">0</text>
<line x1="150.05" y1="282.99" x2="142.75" y2="282.99" stroke="#000" stroke-width="1.67"/>
<text x="135.45" y="290.99" text-anchor="end" class="t">2</text>
<line x1="150.05" y1="225.12" x2="142.75" y2="225.12" stroke="#000" stroke-width="1.67"/>
<text x="135.45" y="233.12" text-anchor="end" class="t">4</text>
<line x1="150.05" y1="167.26" x2="142.75" y2="167.26" stroke="#000" stroke-width="1.67"/>
<text x="135.45" y="175.26" text-anchor="end" class="t">6</text>
<line x1="150.05" y1="109.40" x2="142.75" y2="109.40" stroke="#000" stroke-width="1.67"/>
<text x="135.45" y="117.40" text-anchor="end" class="t">8</text>
<text x="323.45" y="636.00" text-anchor="middle" class="l">x [<tspan class="mu" dx="0.8">μ</tspan><tspan dx="1.4">m]</tspan></text>
<text transform="translate(100.75,340.40) rotate(-90)" text-anchor="middle" class="l">y [<tspan class="mu" dx="0.8">μ</tspan><tspan dx="1.4">m]</tspan></text>
<rect x="504.90" y="108.95" width="17.34" height="462.90" fill="url(#seis)" stroke="#000" stroke-width="1.67"/>
<line x1="522.24" y1="109.40" x2="529.54" y2="109.40" stroke="#000" stroke-width="1.67"/>
<text x="537.64" y="117.40" class="t">1.00</text>
<line x1="522.24" y1="167.26" x2="529.54" y2="167.26" stroke="#000" stroke-width="1.67"/>
<text x="537.64" y="175.26" class="t">0.75</text>
<line x1="522.24" y1="225.12" x2="529.54" y2="225.12" stroke="#000" stroke-width="1.67"/>
<text x="537.64" y="233.12" class="t">0.50</text>
<line x1="522.24" y1="282.99" x2="529.54" y2="282.99" stroke="#000" stroke-width="1.67"/>
<text x="537.64" y="290.99" class="t">0.25</text>
<line x1="522.24" y1="340.85" x2="529.54" y2="340.85" stroke="#000" stroke-width="1.67"/>
<text x="537.64" y="348.85" class="t">0.00</text>
<line x1="522.24" y1="398.71" x2="529.54" y2="398.71" stroke="#000" stroke-width="1.67"/>
<text x="537.64" y="406.71" class="t">-0.25</text>
<line x1="522.24" y1="456.57" x2="529.54" y2="456.57" stroke="#000" stroke-width="1.67"/>
<text x="537.64" y="464.57" class="t">-0.50</text>
<line x1="522.24" y1="514.44" x2="529.54" y2="514.44" stroke="#000" stroke-width="1.67"/>
<text x="537.64" y="522.44" class="t">-0.75</text>
<line x1="522.24" y1="572.30" x2="529.54" y2="572.30" stroke="#000" stroke-width="1.67"/>
<text x="537.64" y="580.30" class="t">-1.00</text>
<text x="520.84" y="102.60" text-anchor="end" class="t" style="font-size:21.9px">1e13</text>
<g clip-path="url(#clipR)"><g filter="url(#vb)"><rect x="697.8" y="91.61" width="366.8" height="34.98" fill="url(#R0)"/><rect x="697.8" y="126.29" width="366.8" height="32.09" fill="url(#R1)"/><rect x="697.8" y="158.08" width="366.8" height="32.09" fill="url(#R2)"/><rect x="697.8" y="189.87" width="366.8" height="32.09" fill="url(#R3)"/><rect x="697.8" y="221.66" width="366.8" height="32.09" fill="url(#R4)"/><rect x="697.8" y="253.45" width="366.8" height="11.86" fill="url(#R5)"/><rect x="697.8" y="265.01" width="366.8" height="11.86" fill="url(#R6)"/><rect x="697.8" y="276.57" width="366.8" height="11.86" fill="url(#R7)"/><rect x="697.8" y="288.13" width="366.8" height="11.86" fill="url(#R8)"/><rect x="697.8" y="299.69" width="366.8" height="11.86" fill="url(#R9)"/><rect x="697.8" y="311.25" width="366.8" height="11.86" fill="url(#R10)"/><rect x="697.8" y="322.81" width="366.8" height="11.86" fill="url(#R11)"/><rect x="697.8" y="334.37" width="366.8" height="11.86" fill="url(#R12)"/><rect x="697.8" y="345.93" width="366.8" height="11.86" fill="url(#R13)"/><rect x="697.8" y="357.49" width="366.8" height="11.86" fill="url(#R14)"/><rect x="697.8" y="369.05" width="366.8" height="11.86" fill="url(#R15)"/><rect x="697.8" y="380.61" width="366.8" height="11.86" fill="url(#R16)"/><rect x="697.8" y="392.17" width="366.8" height="11.86" fill="url(#R17)"/><rect x="697.8" y="403.73" width="366.8" height="11.86" fill="url(#R18)"/><rect x="697.8" y="415.29" width="366.8" height="11.86" fill="url(#R19)"/><rect x="697.8" y="426.85" width="366.8" height="32.09" fill="url(#R20)"/><rect x="697.8" y="458.64" width="366.8" height="32.09" fill="url(#R21)"/><rect x="697.8" y="490.43" width="366.8" height="32.09" fill="url(#R22)"/><rect x="697.8" y="522.22" width="366.8" height="32.09" fill="url(#R23)"/><rect x="697.8" y="554.01" width="366.8" height="34.98" fill="url(#R24)"/></g></g>
<use href="#scat" x="557.70"/>
<rect x="707.75" y="108.95" width="346.80" height="462.90" fill="none" stroke="#000" stroke-width="1.67"/>
<line x1="757.70" y1="571.85" x2="757.70" y2="579.15" stroke="#000" stroke-width="1.67"/>
<text x="757.70" y="603.85" text-anchor="middle" class="t">22.5</text>
<line x1="829.95" y1="571.85" x2="829.95" y2="579.15" stroke="#000" stroke-width="1.67"/>
<text x="829.95" y="603.85" text-anchor="middle" class="t">25.0</text>
<line x1="902.20" y1="571.85" x2="902.20" y2="579.15" stroke="#000" stroke-width="1.67"/>
<text x="902.20" y="603.85" text-anchor="middle" class="t">27.5</text>
<line x1="974.45" y1="571.85" x2="974.45" y2="579.15" stroke="#000" stroke-width="1.67"/>
<text x="974.45" y="603.85" text-anchor="middle" class="t">30.0</text>
<line x1="1046.70" y1="571.85" x2="1046.70" y2="579.15" stroke="#000" stroke-width="1.67"/>
<text x="1046.70" y="603.85" text-anchor="middle" class="t">32.5</text>
<line x1="707.75" y1="572.30" x2="700.45" y2="572.30" stroke="#000" stroke-width="1.67"/>
<text x="693.15" y="580.30" text-anchor="end" class="t">-8</text>
<line x1="707.75" y1="514.44" x2="700.45" y2="514.44" stroke="#000" stroke-width="1.67"/>
<text x="693.15" y="522.44" text-anchor="end" class="t">-6</text>
<line x1="707.75" y1="456.57" x2="700.45" y2="456.57" stroke="#000" stroke-width="1.67"/>
<text x="693.15" y="464.57" text-anchor="end" class="t">-4</text>
<line x1="707.75" y1="398.71" x2="700.45" y2="398.71" stroke="#000" stroke-width="1.67"/>
<text x="693.15" y="406.71" text-anchor="end" class="t">-2</text>
<line x1="707.75" y1="340.85" x2="700.45" y2="340.85" stroke="#000" stroke-width="1.67"/>
<text x="693.15" y="348.85" text-anchor="end" class="t">0</text>
<line x1="707.75" y1="282.99" x2="700.45" y2="282.99" stroke="#000" stroke-width="1.67"/>
<text x="693.15" y="290.99" text-anchor="end" class="t">2</text>
<line x1="707.75" y1="225.12" x2="700.45" y2="225.12" stroke="#000" stroke-width="1.67"/>
<text x="693.15" y="233.12" text-anchor="end" class="t">4</text>
<line x1="707.75" y1="167.26" x2="700.45" y2="167.26" stroke="#000" stroke-width="1.67"/>
<text x="693.15" y="175.26" text-anchor="end" class="t">6</text>
<line x1="707.75" y1="109.40" x2="700.45" y2="109.40" stroke="#000" stroke-width="1.67"/>
<text x="693.15" y="117.40" text-anchor="end" class="t">8</text>
<text x="881.15" y="636.00" text-anchor="middle" class="l">x [<tspan class="mu" dx="0.8">μ</tspan><tspan dx="1.4">m]</tspan></text>
<text transform="translate(658.45,340.40) rotate(-90)" text-anchor="middle" class="l">y [<tspan class="mu" dx="0.8">μ</tspan><tspan dx="1.4">m]</tspan></text>
<rect x="1062.60" y="108.95" width="17.34" height="462.90" fill="url(#seis)" stroke="#000" stroke-width="1.67"/>
<line x1="1079.94" y1="155.90" x2="1087.24" y2="155.90" stroke="#000" stroke-width="1.67"/>
<text x="1095.34" y="163.90" class="t">4</text>
<line x1="1079.94" y1="248.40" x2="1087.24" y2="248.40" stroke="#000" stroke-width="1.67"/>
<text x="1095.34" y="256.40" class="t">2</text>
<line x1="1079.94" y1="340.90" x2="1087.24" y2="340.90" stroke="#000" stroke-width="1.67"/>
<text x="1095.34" y="348.90" class="t">0</text>
<line x1="1079.94" y1="433.40" x2="1087.24" y2="433.40" stroke="#000" stroke-width="1.67"/>
<text x="1095.34" y="441.40" class="t">-2</text>
<line x1="1079.94" y1="525.90" x2="1087.24" y2="525.90" stroke="#000" stroke-width="1.67"/>
<text x="1095.34" y="533.90" class="t">-4</text>
<text x="1078.54" y="102.60" text-anchor="end" class="t" style="font-size:21.9px">1e13</text>
<text transform="translate(609.90,341.30) rotate(-90)" text-anchor="middle" class="l" style="font-size:25.15px">Longitudinal Electric Field V/m</text>
<text transform="translate(1138.80,341.40) rotate(-90)" text-anchor="middle" class="l" style="font-size:25.15px">Transverse Electric Field V/m</text>
</svg></body></html>
